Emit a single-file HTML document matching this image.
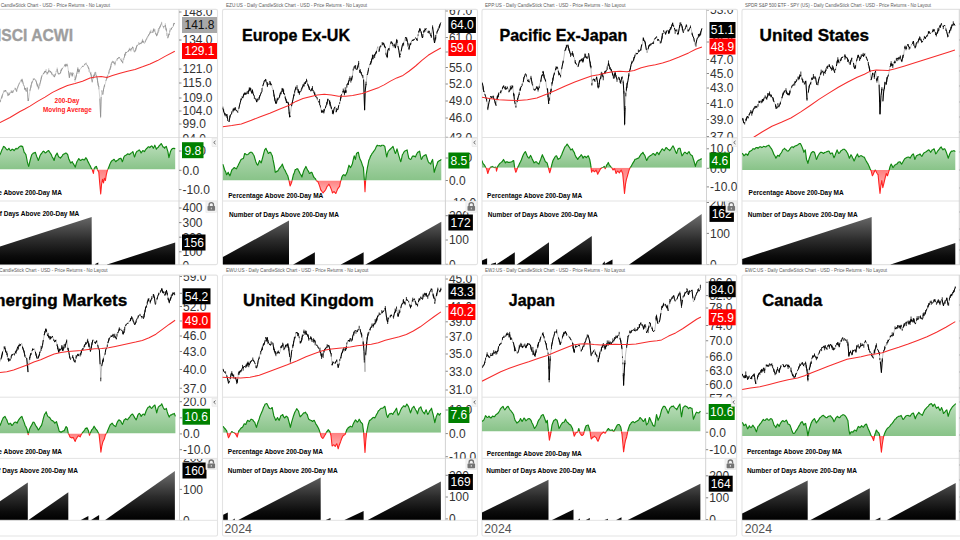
<!DOCTYPE html>
<html><head><meta charset="utf-8"><title>Global Equity Markets vs 200-Day MA</title>
<style>html,body{margin:0;padding:0;background:#fff;width:960px;height:540px;overflow:hidden}</style>
</head><body>
<svg width="960" height="540" viewBox="0 0 960 540" style="display:block;font-family:'Liberation Sans',sans-serif">
<defs><linearGradient id="gk" x1="0" y1="0" x2="0" y2="1"><stop offset="0" stop-color="#666"/><stop offset="0.55" stop-color="#111"/><stop offset="1" stop-color="#000"/></linearGradient>
<linearGradient id="gg" x1="0" y1="0" x2="0" y2="1"><stop offset="0" stop-color="#7fbf7f"/><stop offset="1" stop-color="#a9d6a9"/></linearGradient>
</defs>
<rect width="960" height="540" fill="#fff"/>
<rect x="-37.5" y="9.4" width="255.0" height="255.20000000000002" rx="1.5" fill="#fff" stroke="#e3e3e3" stroke-width="1.1"/>
<text x="-35.0" y="6.7" font-size="5.1" fill="#5a5a5a" font-weight="normal" text-anchor="start" textLength="145.0" lengthAdjust="spacingAndGlyphs">ACWI:US - Daily CandleStick Chart - USD - Price Returns - No Layout</text>
<clipPath id="c1_0"><rect x="-37.5" y="9.4" width="216.5" height="128.1"/></clipPath>
<clipPath id="a1_0"><rect x="179" y="9.9" width="38.5" height="127.6"/></clipPath>
<clipPath id="c1_1"><rect x="-37.5" y="137.5" width="216.5" height="63.5"/></clipPath>
<clipPath id="a1_1"><rect x="179" y="138.0" width="38.5" height="63.0"/></clipPath>
<clipPath id="c1_2"><rect x="-37.5" y="201" width="216.5" height="63.60000000000002"/></clipPath>
<clipPath id="a1_2"><rect x="179" y="201.5" width="38.5" height="63.10000000000002"/></clipPath>
<g clip-path="url(#c1_0)">
<path d="M-1.9,104.3L-1.1,103.7L0.0,100.7M1.3,98.0L1.9,97.2L2.9,93.6M4.5,91.1L5.3,90.8L5.6,90.0L6.1,92.1M7.5,93.7L8.5,94.8L9.4,94.7L10.1,92.3M11.2,91.9L11.7,92.0L12.5,92.6L13.1,90.8M15.0,88.5L15.7,88.8L16.5,91.3M17.3,88.7L18.1,86.2L18.8,84.5L19.7,82.5M20.6,80.8L21.3,80.9L22.1,79.7L22.9,82.6M24.5,87.5L24.9,89.6L25.3,88.2L26.2,91.2M27.2,87.8L27.7,94.8L28.1,100.8L28.5,99.8M30.0,90.4L30.9,86.6L31.9,82.2M33.3,79.5L33.8,79.4L34.1,78.8L34.9,79.3M35.7,80.3L36.6,82.8L37.3,85.7L38.1,86.1M39.8,84.3L40.5,81.7L41.2,78.5L42.1,75.3M43.1,74.3L43.7,72.9L44.5,72.4L45.0,71.8L45.3,71.3L46.1,71.8M46.9,73.2L47.7,73.1L48.8,70.6M50.1,70.9L50.6,71.9L51.7,73.5L52.5,74.5M53.3,75.5L54.4,76.8L54.9,75.5L55.7,73.6M57.2,69.3L58.1,73.7L59.1,73.9L59.7,73.2M60.5,73.1L60.9,70.9L61.3,70.3L62.1,68.7L62.8,68.1M64.7,65.2L65.3,66.2L66.0,63.9L66.9,66.3M68.4,70.8L69.4,77.5L70.1,73.3M71.7,73.6L72.2,75.7L72.5,74.0L73.5,73.3M75.0,80.0L75.7,78.0L76.5,74.5M77.3,71.8L77.8,68.7L78.1,70.1L78.9,72.1L79.7,69.6M81.6,67.2L82.1,66.9L82.9,66.1L83.4,66.4M84.5,64.6L85.3,63.9L86.2,63.9M86.9,64.8L87.8,66.2L88.5,68.4M90.1,72.5L90.9,74.2L91.7,78.1L92.2,81.7M93.3,77.2L93.8,75.6L94.1,75.4L94.9,75.2L95.2,72.1M96.6,75.8L97.5,80.4L98.1,84.2L98.8,86.9M99.8,98.6L100.6,116.6L101.2,97.0M102.8,94.4L103.5,89.5L104.6,84.9M105.9,80.9L106.9,78.0L107.2,76.8L107.7,75.4M108.8,73.3L109.3,70.5L110.2,68.5L110.9,65.8M112.5,62.0L113.4,61.7L114.1,63.2L114.9,64.2M116.6,59.7L117.3,59.0L118.1,58.1L118.9,57.6L120.0,57.8M121.3,60.7L121.9,60.8L122.8,63.2M124.1,57.7L124.5,56.5L125.3,53.3L125.6,53.1L126.1,52.2L126.9,52.7M127.5,51.5L128.5,51.1L129.4,49.3L130.1,49.6M131.2,49.1L131.7,48.6L132.5,47.4L133.1,47.5M134.6,52.2L135.7,49.7L136.5,46.9L137.3,45.2M138.8,43.9L139.7,43.8L140.6,43.4M141.3,43.1L142.1,42.0L142.5,41.1L142.9,41.9L143.7,42.0M145.3,41.8L146.2,39.2L146.9,38.5M148.5,35.7L149.3,34.2L150.0,32.5L150.9,31.9M151.9,32.7L152.5,32.4L153.3,30.6L153.8,29.5L154.1,30.9M155.6,33.2L156.5,35.4L157.1,35.4L158.1,31.7M158.9,28.9L159.7,27.5L160.3,26.3L161.3,23.8M163.1,27.1L163.7,26.7L164.5,26.4M165.3,25.2L166.1,29.5L166.5,30.1M167.8,38.2L168.5,35.4L169.3,34.0M170.9,29.5L171.6,28.2L172.5,27.5M173.4,25.6L174.1,23.2L174.8,23.9" fill="none" stroke="#8a8a8a" stroke-width="0.7" stroke-linejoin="miter"/>
<polyline points="-1.9,104.3 -1.1,103.7 0.0,100.7 0.5,100.9 1.3,98.0 1.9,97.2 2.9,93.6 3.8,91.6 4.5,91.1 5.3,90.8 5.6,90.0 6.1,92.1 6.9,92.9 7.5,93.7 8.5,94.8 9.4,94.7 10.1,92.3 10.9,92.0 11.2,91.9 11.7,92.0 12.5,92.6 13.1,90.8 14.1,90.1 15.0,88.5 15.7,88.8 16.5,91.3 16.9,89.7 17.3,88.7 18.1,86.2 18.8,84.5 19.7,82.5 20.6,80.8 21.3,80.9 22.1,79.7 22.9,82.6 23.4,84.6 24.5,87.5 24.9,89.6 25.3,88.2 26.2,91.2 27.2,87.8 27.7,94.8 28.1,100.8 28.5,99.8 29.1,96.6 30.0,90.4 30.9,86.6 31.9,82.2 32.5,81.8 33.3,79.5 33.8,79.4 34.1,78.8 34.9,79.3 35.2,79.0 35.7,80.3 36.6,82.8 37.3,85.7 38.1,86.1 38.4,88.5 38.9,87.5 39.8,84.3 40.5,81.7 41.2,78.5 42.1,75.3 43.1,74.3 43.7,72.9 44.5,72.4 45.0,71.8 45.3,71.3 46.1,71.8 46.9,73.2 47.7,73.1 48.8,70.6 49.3,71.2 50.1,70.9 50.6,71.9 51.7,73.5 52.5,74.5 53.3,75.5 54.4,76.8 54.9,75.5 55.7,73.6 56.2,71.3 57.2,69.3 58.1,73.7 59.1,73.9 59.7,73.2 60.5,73.1 60.9,70.9 61.3,70.3 62.1,68.7 62.8,68.1 63.7,66.9 64.7,65.2 65.3,66.2 66.0,63.9 66.9,66.3 67.5,65.1 68.4,70.8 69.4,77.5 70.1,73.3 70.9,72.8 71.7,73.6 72.2,75.7 72.5,74.0 73.5,73.3 74.1,75.1 75.0,80.0 75.7,78.0 76.5,74.5 77.3,71.8 77.8,68.7 78.1,70.1 78.9,72.1 79.7,69.6 80.5,68.9 81.6,67.2 82.1,66.9 82.9,66.1 83.4,66.4 84.5,64.6 85.3,63.9 86.2,63.9 86.9,64.8 87.8,66.2 88.5,68.4 89.1,69.5 90.1,72.5 90.9,74.2 91.7,78.1 92.2,81.7 93.3,77.2 93.8,75.6 94.1,75.4 94.9,75.2 95.2,72.1 95.7,72.0 96.6,75.8 97.5,80.4 98.1,84.2 98.8,86.9 99.8,98.6 100.6,116.6 101.2,97.0 101.8,90.9 102.1,91.3 102.8,94.4 103.5,89.5 104.6,84.9 105.3,83.9 105.9,80.9 106.9,78.0 107.2,76.8 107.7,75.4 108.8,73.3 109.3,70.5 110.2,68.5 110.9,65.8 111.6,63.2 112.5,62.0 113.4,61.7 114.1,63.2 114.9,64.2 115.3,62.6 115.7,61.5 116.6,59.7 117.3,59.0 118.1,58.1 118.9,57.6 120.0,57.8 120.5,59.6 121.3,60.7 121.9,60.8 122.8,63.2 123.7,58.9 124.1,57.7 124.5,56.5 125.3,53.3 125.6,53.1 126.1,52.2 126.9,52.7 127.5,51.5 128.5,51.1 129.4,49.3 130.1,49.6 130.9,49.7 131.2,49.1 131.7,48.6 132.5,47.4 133.1,47.5 134.1,51.3 134.6,52.2 135.7,49.7 136.5,46.9 137.3,45.2 138.1,44.9 138.8,43.9 139.7,43.8 140.6,43.4 141.3,43.1 142.1,42.0 142.5,41.1 142.9,41.9 143.7,42.0 144.4,43.6 145.3,41.8 146.2,39.2 146.9,38.5 147.7,36.2 148.1,35.8 148.5,35.7 149.3,34.2 150.0,32.5 150.9,31.9 151.9,32.7 152.5,32.4 153.3,30.6 153.8,29.5 154.1,30.9 154.9,31.1 155.6,33.2 156.5,35.4 157.1,35.4 158.1,31.7 158.4,31.2 158.9,28.9 159.7,27.5 160.3,26.3 161.3,23.8 161.6,22.7 162.1,24.9 163.1,27.1 163.7,26.7 164.5,26.4 165.0,26.0 165.3,25.2 166.1,29.5 166.5,30.1 166.9,33.8 167.8,38.2 168.5,35.4 169.3,34.0 169.7,31.5 170.1,30.6 170.9,29.5 171.6,28.2 172.5,27.5 173.4,25.6 174.1,23.2 174.8,23.9" fill="none" stroke="#8a8a8a" stroke-width="0.35" stroke-linejoin="miter"/>
<path d="M-1.88,102.44V104.92M0.00,99.23V101.74M0.52,100.29V102.27M1.32,97.58V98.96M1.88,95.49V98.41M3.75,90.35V92.70M4.52,90.54V91.87M7.50,92.12V96.12M8.52,92.71V95.97M11.25,90.02V92.94M11.72,91.41V92.89M13.13,90.14V92.66M15.00,87.61V89.04M16.52,90.88V91.81M16.88,88.51V91.43M21.32,79.23V82.44M22.13,78.63V81.58M22.92,81.70V83.96M23.44,83.25V85.88M24.52,85.49V88.75M26.25,90.33V92.02M27.19,87.33V88.44M28.52,98.31V101.00M30.00,89.55V91.14M30.92,85.28V87.81M31.88,81.42V83.48M32.52,80.71V82.37M33.32,78.13V80.32M35.72,79.74V80.78M36.56,81.41V83.72M37.32,83.70V86.82M38.12,84.43V87.52M38.44,87.03V89.74M38.92,86.39V88.59M39.75,83.69V86.05M40.52,80.20V82.16M41.25,76.76V79.30M44.52,71.00V73.59M45.00,71.32V72.57M45.32,70.71V72.38M46.12,69.09V72.39M46.88,72.08V74.80M47.72,72.41V74.18M48.75,68.32V71.77M49.32,70.45V72.39M50.63,70.99V72.39M51.72,71.84V75.13M53.32,74.23V76.36M54.38,76.34V77.39M54.92,73.95V76.51M56.25,70.76V71.80M57.19,67.59V69.88M59.06,72.97V74.77M60.52,72.01V73.74M60.94,69.85V71.31M61.32,68.73V70.95M62.12,68.27V69.21M64.69,64.00V65.69M65.32,65.14V67.20M67.50,63.72V65.78M69.38,76.81V77.96M70.12,71.99V74.58M71.72,72.32V74.12M72.19,73.93V77.03M72.52,72.41V74.53M75.00,79.03V81.82M75.72,76.53V79.06M76.50,72.50V76.38M77.32,70.48V73.86M77.81,67.00V69.63M78.12,69.16V71.42M78.92,69.40V73.71M82.92,65.68V66.57M84.52,63.69V65.26M86.25,62.53V64.49M88.52,67.36V69.03M89.06,67.87V72.07M90.94,71.94V75.04M91.72,75.10V79.45M92.25,80.22V82.69M93.32,76.56V78.84M93.75,74.47V76.05M94.12,74.85V76.67M94.92,72.82V76.18M96.56,75.11V76.63M97.50,77.84V82.72M98.12,83.35V85.92M98.81,86.19V89.38M100.59,116.23V118.15M101.81,90.01V91.63M102.75,93.66V94.87M103.50,88.74V91.25M104.63,84.29V86.92M106.92,76.65V78.83M108.75,72.51V73.85M110.25,67.74V69.87M110.92,63.64V67.70M111.56,61.76V65.15M112.52,60.75V62.90M114.12,61.69V63.80M114.92,63.41V65.59M115.31,61.49V64.24M117.32,58.15V60.61M118.92,56.94V58.37M120.52,59.08V60.22M121.32,59.88V61.28M121.88,58.35V61.84M123.72,58.09V60.00M124.52,53.99V57.52M125.63,51.86V55.46M128.52,50.17V51.75M129.38,47.78V50.12M130.12,48.98V50.92M130.92,48.48V51.50M131.25,47.86V50.16M132.52,46.50V48.13M133.13,47.08V50.30M134.12,50.14V51.76M135.72,47.96V50.83M136.50,45.67V48.15M137.32,44.80V45.83M138.75,41.97V44.82M139.72,43.35V44.36M140.63,42.65V43.98M141.32,42.73V44.10M142.12,40.43V42.75M142.50,38.83V41.78M142.92,40.16V42.71M143.72,40.96V42.49M145.32,41.38V42.36M146.92,37.39V39.29M147.72,35.75V37.68M148.52,34.35V36.34M150.00,31.27V33.84M150.92,29.74V32.98M153.32,29.33V32.81M153.75,28.01V31.00M154.92,29.09V32.08M155.63,32.50V34.06M156.52,33.67V36.38M158.12,29.42V32.59M158.92,28.00V31.40M159.72,26.69V28.31M160.31,25.70V27.06M161.63,21.80V23.79M163.72,25.94V28.58M165.32,23.25V26.21M166.12,28.17V30.84M166.50,28.95V31.63M166.92,32.87V36.00M168.52,33.62V36.61M169.32,33.17V35.27M169.69,30.51V32.56M170.12,28.19V31.54M171.56,27.48V29.78M173.44,23.52V26.39M174.12,22.83V23.74" stroke="#8a8a8a" stroke-width="0.5" fill="none"/>
<polyline points="-3.0,124.0 0.0,122.5 10.0,117.5 20.0,111.5 24.4,109.3 30.0,106.1 37.5,101.4 45.0,97.1 52.5,92.4 60.0,88.7 67.5,85.5 75.0,83.6 82.5,81.2 90.0,78.0 95.6,76.9 101.2,76.5 106.9,77.4 112.5,75.6 120.0,73.3 127.5,71.2 135.0,69.4 142.5,66.8 150.0,63.9 157.5,60.6 165.0,56.4 174.8,51.2" fill="none" stroke="#f62c2c" stroke-width="1.05" stroke-linejoin="round"/>
</g>
<text x="73.0" y="41.0" font-size="17.3" fill="#9e9e9e" font-weight="bold" text-anchor="end" textLength="84.8" lengthAdjust="spacingAndGlyphs" stroke="#9e9e9e" stroke-width="0.35">MSCI ACWI</text>
<text x="67.0" y="103.0" font-size="6.5" fill="#f22" font-weight="bold" text-anchor="middle">200-Day</text>
<text x="67.4" y="111.8" font-size="6.5" fill="#f22" font-weight="bold" text-anchor="middle" textLength="48.7" lengthAdjust="spacingAndGlyphs">Moving Average</text>
<g clip-path="url(#c1_1)">
<clipPath id="up1"><rect x="-37.5" y="137.5" width="216.5" height="32.0"/></clipPath>
<clipPath id="dn1"><rect x="-37.5" y="169.5" width="216.5" height="31.5"/></clipPath>
<g clip-path="url(#up1)"><polygon points="-2.4,169.5 -2.4,157.0 -1.6,156.6 -0.8,155.6 0.0,154.6 0.9,152.5 1.9,149.9 2.7,148.5 3.5,146.4 4.3,146.8 5.2,147.6 6.1,148.9 7.1,149.9 8.0,149.5 8.9,148.3 9.8,149.8 10.6,150.6 11.4,150.0 12.2,149.2 13.2,149.6 14.1,150.6 15.1,149.4 16.0,148.3 16.8,149.0 17.6,148.8 18.5,147.5 19.3,146.9 20.2,146.2 21.2,145.9 21.9,146.6 22.6,146.4 23.4,149.3 24.2,152.3 25.0,153.2 25.9,154.6 26.6,158.0 27.3,161.7 28.0,164.4 28.7,166.4 29.4,163.3 30.1,160.5 30.9,157.5 31.8,154.6 32.6,153.9 33.4,153.0 34.3,152.9 35.3,152.3 36.1,154.6 36.9,157.0 37.6,158.4 38.3,160.5 39.2,158.2 40.0,155.8 40.8,154.2 41.6,153.5 42.6,151.9 43.5,151.1 44.3,151.8 45.2,153.0 46.1,152.5 47.0,151.6 47.9,150.9 48.7,150.6 49.6,152.2 50.6,153.5 51.4,154.9 52.2,157.0 53.2,158.4 54.1,160.5 54.9,157.5 55.7,155.3 56.4,154.4 57.1,153.0 58.0,155.3 58.8,157.0 59.6,157.3 60.4,158.2 61.4,156.8 62.3,155.8 63.1,154.4 64.0,153.9 64.9,153.6 65.8,153.0 66.8,153.6 67.7,154.6 68.9,159.3 69.7,160.8 70.6,162.9 71.4,162.4 72.2,161.7 72.9,163.0 73.6,164.1 74.4,165.5 75.3,167.1 76.1,164.1 76.9,161.7 77.8,160.3 78.8,158.6 79.6,159.6 80.4,160.5 81.4,159.9 82.3,159.3 83.1,159.4 84.0,160.1 84.9,159.3 85.8,157.7 87.0,159.3 87.8,161.4 88.7,162.9 89.6,164.8 90.5,166.4 91.4,168.4 92.2,169.5 93.4,169.5 94.1,168.8 95.2,167.1 96.4,166.4 97.6,169.5 98.8,169.5 99.7,169.5 100.7,169.5 101.6,169.5 102.5,169.5 103.5,169.5 104.4,169.5 105.4,169.5 106.3,169.5 107.5,169.5 108.2,168.6 108.9,167.1 109.7,164.8 110.5,162.9 111.4,161.3 112.2,160.5 113.1,160.0 114.1,159.3 114.9,160.5 115.7,161.7 116.7,160.8 117.6,160.1 118.4,159.8 119.2,158.6 120.1,158.7 120.9,158.2 121.6,159.6 122.3,161.7 123.1,159.7 123.9,157.0 124.9,155.7 125.8,155.3 126.6,154.8 127.5,153.9 128.4,154.1 129.3,154.6 130.2,154.0 131.0,153.0 131.9,152.7 132.9,151.6 133.7,154.3 134.5,157.0 135.2,155.2 135.9,153.0 136.8,151.6 137.6,151.1 138.4,150.7 139.2,149.9 140.2,151.1 141.1,153.0 141.9,151.8 142.8,150.6 143.7,151.0 144.6,151.6 145.5,149.8 146.3,148.8 147.2,148.0 148.2,146.9 149.0,146.9 149.8,147.6 150.8,146.5 151.7,145.9 152.5,146.7 153.3,148.3 154.0,146.9 154.8,145.2 155.6,147.1 156.4,149.2 157.2,148.0 158.0,147.6 159.0,146.0 159.9,145.2 160.6,144.2 161.3,143.6 162.2,145.2 163.0,146.9 163.8,147.1 164.6,148.3 165.4,146.9 166.3,146.4 167.1,149.1 167.9,151.6 168.9,157.7 169.6,155.0 170.3,152.3 171.0,150.4 171.7,149.2 172.6,148.6 173.6,148.3 174.4,148.4 175.2,149.2 175.2,169.5" fill="url(#gg1)"/><polyline points="-2.4,157.0 -1.6,156.6 -0.8,155.6 0.0,154.6 0.9,152.5 1.9,149.9 2.7,148.5 3.5,146.4 4.3,146.8 5.2,147.6 6.1,148.9 7.1,149.9 8.0,149.5 8.9,148.3 9.8,149.8 10.6,150.6 11.4,150.0 12.2,149.2 13.2,149.6 14.1,150.6 15.1,149.4 16.0,148.3 16.8,149.0 17.6,148.8 18.5,147.5 19.3,146.9 20.2,146.2 21.2,145.9 21.9,146.6 22.6,146.4 23.4,149.3 24.2,152.3 25.0,153.2 25.9,154.6 26.6,158.0 27.3,161.7 28.0,164.4 28.7,166.4 29.4,163.3 30.1,160.5 30.9,157.5 31.8,154.6 32.6,153.9 33.4,153.0 34.3,152.9 35.3,152.3 36.1,154.6 36.9,157.0 37.6,158.4 38.3,160.5 39.2,158.2 40.0,155.8 40.8,154.2 41.6,153.5 42.6,151.9 43.5,151.1 44.3,151.8 45.2,153.0 46.1,152.5 47.0,151.6 47.9,150.9 48.7,150.6 49.6,152.2 50.6,153.5 51.4,154.9 52.2,157.0 53.2,158.4 54.1,160.5 54.9,157.5 55.7,155.3 56.4,154.4 57.1,153.0 58.0,155.3 58.8,157.0 59.6,157.3 60.4,158.2 61.4,156.8 62.3,155.8 63.1,154.4 64.0,153.9 64.9,153.6 65.8,153.0 66.8,153.6 67.7,154.6 68.9,159.3 69.7,160.8 70.6,162.9 71.4,162.4 72.2,161.7 72.9,163.0 73.6,164.1 74.4,165.5 75.3,167.1 76.1,164.1 76.9,161.7 77.8,160.3 78.8,158.6 79.6,159.6 80.4,160.5 81.4,159.9 82.3,159.3 83.1,159.4 84.0,160.1 84.9,159.3 85.8,157.7 87.0,159.3 87.8,161.4 88.7,162.9 89.6,164.8 90.5,166.4 91.4,168.4 92.2,169.5 93.4,173.4 94.1,168.8 95.2,167.1 96.4,166.4 97.6,169.9 98.8,172.3 99.7,182.9 100.7,193.9 101.6,184.0 102.5,179.3 103.5,182.9 104.4,178.2 105.4,180.5 106.3,174.6 107.5,169.9 108.2,168.6 108.9,167.1 109.7,164.8 110.5,162.9 111.4,161.3 112.2,160.5 113.1,160.0 114.1,159.3 114.9,160.5 115.7,161.7 116.7,160.8 117.6,160.1 118.4,159.8 119.2,158.6 120.1,158.7 120.9,158.2 121.6,159.6 122.3,161.7 123.1,159.7 123.9,157.0 124.9,155.7 125.8,155.3 126.6,154.8 127.5,153.9 128.4,154.1 129.3,154.6 130.2,154.0 131.0,153.0 131.9,152.7 132.9,151.6 133.7,154.3 134.5,157.0 135.2,155.2 135.9,153.0 136.8,151.6 137.6,151.1 138.4,150.7 139.2,149.9 140.2,151.1 141.1,153.0 141.9,151.8 142.8,150.6 143.7,151.0 144.6,151.6 145.5,149.8 146.3,148.8 147.2,148.0 148.2,146.9 149.0,146.9 149.8,147.6 150.8,146.5 151.7,145.9 152.5,146.7 153.3,148.3 154.0,146.9 154.8,145.2 155.6,147.1 156.4,149.2 157.2,148.0 158.0,147.6 159.0,146.0 159.9,145.2 160.6,144.2 161.3,143.6 162.2,145.2 163.0,146.9 163.8,147.1 164.6,148.3 165.4,146.9 166.3,146.4 167.1,149.1 167.9,151.6 168.9,157.7 169.6,155.0 170.3,152.3 171.0,150.4 171.7,149.2 172.6,148.6 173.6,148.3 174.4,148.4 175.2,149.2" fill="none" stroke="#0f870f" stroke-width="1.15" stroke-linejoin="round"/></g>
<g clip-path="url(#dn1)"><polygon points="-2.4,169.5 -2.4,169.5 -1.6,169.5 -0.8,169.5 0.0,169.5 0.9,169.5 1.9,169.5 2.7,169.5 3.5,169.5 4.3,169.5 5.2,169.5 6.1,169.5 7.1,169.5 8.0,169.5 8.9,169.5 9.8,169.5 10.6,169.5 11.4,169.5 12.2,169.5 13.2,169.5 14.1,169.5 15.1,169.5 16.0,169.5 16.8,169.5 17.6,169.5 18.5,169.5 19.3,169.5 20.2,169.5 21.2,169.5 21.9,169.5 22.6,169.5 23.4,169.5 24.2,169.5 25.0,169.5 25.9,169.5 26.6,169.5 27.3,169.5 28.0,169.5 28.7,169.5 29.4,169.5 30.1,169.5 30.9,169.5 31.8,169.5 32.6,169.5 33.4,169.5 34.3,169.5 35.3,169.5 36.1,169.5 36.9,169.5 37.6,169.5 38.3,169.5 39.2,169.5 40.0,169.5 40.8,169.5 41.6,169.5 42.6,169.5 43.5,169.5 44.3,169.5 45.2,169.5 46.1,169.5 47.0,169.5 47.9,169.5 48.7,169.5 49.6,169.5 50.6,169.5 51.4,169.5 52.2,169.5 53.2,169.5 54.1,169.5 54.9,169.5 55.7,169.5 56.4,169.5 57.1,169.5 58.0,169.5 58.8,169.5 59.6,169.5 60.4,169.5 61.4,169.5 62.3,169.5 63.1,169.5 64.0,169.5 64.9,169.5 65.8,169.5 66.8,169.5 67.7,169.5 68.9,169.5 69.7,169.5 70.6,169.5 71.4,169.5 72.2,169.5 72.9,169.5 73.6,169.5 74.4,169.5 75.3,169.5 76.1,169.5 76.9,169.5 77.8,169.5 78.8,169.5 79.6,169.5 80.4,169.5 81.4,169.5 82.3,169.5 83.1,169.5 84.0,169.5 84.9,169.5 85.8,169.5 87.0,169.5 87.8,169.5 88.7,169.5 89.6,169.5 90.5,169.5 91.4,169.5 92.2,169.5 93.4,173.4 94.1,169.5 95.2,169.5 96.4,169.5 97.6,169.9 98.8,172.3 99.7,182.9 100.7,193.9 101.6,184.0 102.5,179.3 103.5,182.9 104.4,178.2 105.4,180.5 106.3,174.6 107.5,169.9 108.2,169.5 108.9,169.5 109.7,169.5 110.5,169.5 111.4,169.5 112.2,169.5 113.1,169.5 114.1,169.5 114.9,169.5 115.7,169.5 116.7,169.5 117.6,169.5 118.4,169.5 119.2,169.5 120.1,169.5 120.9,169.5 121.6,169.5 122.3,169.5 123.1,169.5 123.9,169.5 124.9,169.5 125.8,169.5 126.6,169.5 127.5,169.5 128.4,169.5 129.3,169.5 130.2,169.5 131.0,169.5 131.9,169.5 132.9,169.5 133.7,169.5 134.5,169.5 135.2,169.5 135.9,169.5 136.8,169.5 137.6,169.5 138.4,169.5 139.2,169.5 140.2,169.5 141.1,169.5 141.9,169.5 142.8,169.5 143.7,169.5 144.6,169.5 145.5,169.5 146.3,169.5 147.2,169.5 148.2,169.5 149.0,169.5 149.8,169.5 150.8,169.5 151.7,169.5 152.5,169.5 153.3,169.5 154.0,169.5 154.8,169.5 155.6,169.5 156.4,169.5 157.2,169.5 158.0,169.5 159.0,169.5 159.9,169.5 160.6,169.5 161.3,169.5 162.2,169.5 163.0,169.5 163.8,169.5 164.6,169.5 165.4,169.5 166.3,169.5 167.1,169.5 167.9,169.5 168.9,169.5 169.6,169.5 170.3,169.5 171.0,169.5 171.7,169.5 172.6,169.5 173.6,169.5 174.4,169.5 175.2,169.5 175.2,169.5" fill="url(#gr1)"/><polyline points="-2.4,157.0 -1.6,156.6 -0.8,155.6 0.0,154.6 0.9,152.5 1.9,149.9 2.7,148.5 3.5,146.4 4.3,146.8 5.2,147.6 6.1,148.9 7.1,149.9 8.0,149.5 8.9,148.3 9.8,149.8 10.6,150.6 11.4,150.0 12.2,149.2 13.2,149.6 14.1,150.6 15.1,149.4 16.0,148.3 16.8,149.0 17.6,148.8 18.5,147.5 19.3,146.9 20.2,146.2 21.2,145.9 21.9,146.6 22.6,146.4 23.4,149.3 24.2,152.3 25.0,153.2 25.9,154.6 26.6,158.0 27.3,161.7 28.0,164.4 28.7,166.4 29.4,163.3 30.1,160.5 30.9,157.5 31.8,154.6 32.6,153.9 33.4,153.0 34.3,152.9 35.3,152.3 36.1,154.6 36.9,157.0 37.6,158.4 38.3,160.5 39.2,158.2 40.0,155.8 40.8,154.2 41.6,153.5 42.6,151.9 43.5,151.1 44.3,151.8 45.2,153.0 46.1,152.5 47.0,151.6 47.9,150.9 48.7,150.6 49.6,152.2 50.6,153.5 51.4,154.9 52.2,157.0 53.2,158.4 54.1,160.5 54.9,157.5 55.7,155.3 56.4,154.4 57.1,153.0 58.0,155.3 58.8,157.0 59.6,157.3 60.4,158.2 61.4,156.8 62.3,155.8 63.1,154.4 64.0,153.9 64.9,153.6 65.8,153.0 66.8,153.6 67.7,154.6 68.9,159.3 69.7,160.8 70.6,162.9 71.4,162.4 72.2,161.7 72.9,163.0 73.6,164.1 74.4,165.5 75.3,167.1 76.1,164.1 76.9,161.7 77.8,160.3 78.8,158.6 79.6,159.6 80.4,160.5 81.4,159.9 82.3,159.3 83.1,159.4 84.0,160.1 84.9,159.3 85.8,157.7 87.0,159.3 87.8,161.4 88.7,162.9 89.6,164.8 90.5,166.4 91.4,168.4 92.2,169.5 93.4,173.4 94.1,168.8 95.2,167.1 96.4,166.4 97.6,169.9 98.8,172.3 99.7,182.9 100.7,193.9 101.6,184.0 102.5,179.3 103.5,182.9 104.4,178.2 105.4,180.5 106.3,174.6 107.5,169.9 108.2,168.6 108.9,167.1 109.7,164.8 110.5,162.9 111.4,161.3 112.2,160.5 113.1,160.0 114.1,159.3 114.9,160.5 115.7,161.7 116.7,160.8 117.6,160.1 118.4,159.8 119.2,158.6 120.1,158.7 120.9,158.2 121.6,159.6 122.3,161.7 123.1,159.7 123.9,157.0 124.9,155.7 125.8,155.3 126.6,154.8 127.5,153.9 128.4,154.1 129.3,154.6 130.2,154.0 131.0,153.0 131.9,152.7 132.9,151.6 133.7,154.3 134.5,157.0 135.2,155.2 135.9,153.0 136.8,151.6 137.6,151.1 138.4,150.7 139.2,149.9 140.2,151.1 141.1,153.0 141.9,151.8 142.8,150.6 143.7,151.0 144.6,151.6 145.5,149.8 146.3,148.8 147.2,148.0 148.2,146.9 149.0,146.9 149.8,147.6 150.8,146.5 151.7,145.9 152.5,146.7 153.3,148.3 154.0,146.9 154.8,145.2 155.6,147.1 156.4,149.2 157.2,148.0 158.0,147.6 159.0,146.0 159.9,145.2 160.6,144.2 161.3,143.6 162.2,145.2 163.0,146.9 163.8,147.1 164.6,148.3 165.4,146.9 166.3,146.4 167.1,149.1 167.9,151.6 168.9,157.7 169.6,155.0 170.3,152.3 171.0,150.4 171.7,149.2 172.6,148.6 173.6,148.3 174.4,148.4 175.2,149.2" fill="none" stroke="#f22" stroke-width="1.1" stroke-linejoin="round"/></g>
</g>
<g clip-path="url(#c1_2)">
<polygon points="-3.0,247.4 91.7,217.0 91.7,266.6 -3.0,266.6" fill="url(#gk1)"/>
<polygon points="95.2,264.0 98.3,262.4 98.3,266.6 95.2,266.6" fill="url(#gk1)"/>
<polygon points="107.2,264.6 175.2,242.4 175.2,266.6 107.2,266.6" fill="url(#gk1)"/>
</g>
<linearGradient id="gg1" gradientUnits="userSpaceOnUse" x1="0" y1="141.5" x2="0" y2="169.5"><stop offset="0" stop-color="#bfe0bf"/><stop offset="1" stop-color="#88c388"/></linearGradient>
<linearGradient id="gr1" gradientUnits="userSpaceOnUse" x1="0" y1="169.5" x2="0" y2="195"><stop offset="0" stop-color="#ff8080"/><stop offset="1" stop-color="#ffc4c4"/></linearGradient>
<linearGradient id="gk1" gradientUnits="userSpaceOnUse" x1="0" y1="201" x2="0" y2="264.6"><stop offset="0" stop-color="#8c8c8c"/><stop offset="0.25" stop-color="#686868"/><stop offset="0.62" stop-color="#2b2b2b"/><stop offset="0.86" stop-color="#0c0c0c"/><stop offset="1" stop-color="#000"/></linearGradient>
<text x="61.9" y="194.9" font-size="6.5" fill="#000" font-weight="bold" text-anchor="end">Percentage Above 200-Day MA</text>
<text x="79.3" y="216.4" font-size="6.5" fill="#000" font-weight="bold" text-anchor="end">Number of Days Above 200-Day MA</text>
<path d="M-37.5,137.5H217.5M-37.5,201H217.5" stroke="#e3e3e3" stroke-width="1" fill="none"/>
<path d="M179,9.4V264.6" stroke="#d2d2d2" stroke-width="1" fill="none"/>
<g clip-path="url(#a1_0)">
<path d="M179,12h2.5" stroke="#888" stroke-width="1"/>
<text x="182.5" y="16.3" font-size="12" fill="#333" font-weight="normal" text-anchor="start">148.0</text>
<path d="M179,40h2.5" stroke="#888" stroke-width="1"/>
<text x="182.5" y="44.3" font-size="12" fill="#333" font-weight="normal" text-anchor="start">134.0</text>
<path d="M179,69h2.5" stroke="#888" stroke-width="1"/>
<text x="182.5" y="73.3" font-size="12" fill="#333" font-weight="normal" text-anchor="start">121.0</text>
<path d="M179,83h2.5" stroke="#888" stroke-width="1"/>
<text x="182.5" y="87.3" font-size="12" fill="#333" font-weight="normal" text-anchor="start">115.0</text>
<path d="M179,98h2.5" stroke="#888" stroke-width="1"/>
<text x="182.5" y="102.3" font-size="12" fill="#333" font-weight="normal" text-anchor="start">109.0</text>
<path d="M179,111h2.5" stroke="#888" stroke-width="1"/>
<text x="182.5" y="115.3" font-size="12" fill="#333" font-weight="normal" text-anchor="start">104.0</text>
<path d="M179,124h2.5" stroke="#888" stroke-width="1"/>
<text x="182.5" y="128.3" font-size="12" fill="#333" font-weight="normal" text-anchor="start">99.0</text>
<path d="M179,138.5h2.5" stroke="#888" stroke-width="1"/>
<text x="182.5" y="142.8" font-size="12" fill="#333" font-weight="normal" text-anchor="start">94.0</text>
</g>
<g clip-path="url(#a1_1)">
<path d="M179,131.7h2.5" stroke="#888" stroke-width="1"/>
<text x="182.5" y="136.0" font-size="12" fill="#333" font-weight="normal" text-anchor="start">20.0</text>
<path d="M179,151h2.5" stroke="#888" stroke-width="1"/>
<text x="182.5" y="155.3" font-size="12" fill="#333" font-weight="normal" text-anchor="start">10.0</text>
<path d="M179,170.3h2.5" stroke="#888" stroke-width="1"/>
<text x="182.5" y="174.6" font-size="12" fill="#333" font-weight="normal" text-anchor="start">0.0</text>
<path d="M179,189.6h2.5" stroke="#888" stroke-width="1"/>
<text x="182.5" y="193.9" font-size="12" fill="#333" font-weight="normal" text-anchor="start">-10.0</text>
</g>
<g clip-path="url(#a1_2)">
<path d="M179,208h2.5" stroke="#888" stroke-width="1"/>
<text x="182.5" y="212.3" font-size="12" fill="#333" font-weight="normal" text-anchor="start">400</text>
<path d="M179,222.6h2.5" stroke="#888" stroke-width="1"/>
<text x="182.5" y="226.9" font-size="12" fill="#333" font-weight="normal" text-anchor="start">300</text>
<path d="M179,237.2h2.5" stroke="#888" stroke-width="1"/>
<text x="182.5" y="241.5" font-size="12" fill="#333" font-weight="normal" text-anchor="start">200</text>
<path d="M179,251.8h2.5" stroke="#888" stroke-width="1"/>
<text x="182.5" y="256.1" font-size="12" fill="#333" font-weight="normal" text-anchor="start">100</text>
<path d="M179,265.8h2.5" stroke="#888" stroke-width="1"/>
<text x="182.5" y="270.1" font-size="12" fill="#333" font-weight="normal" text-anchor="start">0</text>
</g>
<rect x="182" y="17" width="35" height="16" fill="#a8a8a8"/>
<text x="199.5" y="29.3" font-size="12" fill="#111" font-weight="normal" text-anchor="middle">141.8</text>
<rect x="182" y="43" width="35" height="16" fill="#f00"/>
<text x="199.5" y="55.3" font-size="12" fill="#fff" font-weight="normal" text-anchor="middle">129.1</text>
<rect x="182" y="142.2" width="21.5" height="16" fill="#008000"/>
<text x="192.8" y="154.5" font-size="12" fill="#fff" font-weight="normal" text-anchor="middle">9.8</text>
<rect x="182" y="234.5" width="23.5" height="16" fill="#000"/>
<text x="193.8" y="246.8" font-size="12" fill="#fff" font-weight="normal" text-anchor="middle">156</text>
<rect x="205.9" y="201.5" width="10.8" height="10.8" fill="#f3f3f3" stroke="#e4e4e4" stroke-width="0.5"/>
<rect x="207.5" y="206.0" width="7.6" height="4.8" rx="0.7" fill="#757575"/><path d="M209.10000000000002,206.1v-1.3a2.2,2.2 0 0 1 4.4,0v1.3" fill="none" stroke="#757575" stroke-width="1.3"/><rect x="210.8" y="207.6" width="1" height="1.7" fill="#ddd"/>
<rect x="212.0" y="138.5" width="5.5" height="8" fill="#f4f4f4" stroke="#e2e2e2" stroke-width="0.5"/>
<path d="M215.5,140.9l-1.8,1.6l1.8,1.6" fill="none" stroke="#5a5a5a" stroke-width="0.9"/>
<rect x="222.5" y="9.4" width="255.0" height="255.20000000000002" rx="1.5" fill="#fff" stroke="#e3e3e3" stroke-width="1.1"/>
<text x="226.0" y="6.7" font-size="5.1" fill="#5a5a5a" font-weight="normal" text-anchor="start" textLength="141.0" lengthAdjust="spacingAndGlyphs">EZU:US - Daily CandleStick Chart - USD - Price Returns - No Layout</text>
<clipPath id="c2_0"><rect x="222.5" y="9.4" width="222.89999999999998" height="128.1"/></clipPath>
<clipPath id="a2_0"><rect x="445.4" y="9.9" width="32.10000000000002" height="127.6"/></clipPath>
<clipPath id="c2_1"><rect x="222.5" y="137.5" width="222.89999999999998" height="63.5"/></clipPath>
<clipPath id="a2_1"><rect x="445.4" y="138.0" width="32.10000000000002" height="63.0"/></clipPath>
<clipPath id="c2_2"><rect x="222.5" y="201" width="222.89999999999998" height="63.60000000000002"/></clipPath>
<clipPath id="a2_2"><rect x="445.4" y="201.5" width="32.10000000000002" height="63.10000000000002"/></clipPath>
<g clip-path="url(#c2_0)">
<path d="M222.8,108.3L223.6,111.1L224.7,114.3M226.0,114.1L227.1,116.5L227.6,118.9M229.0,122.0L230.0,116.2L230.7,114.5L231.6,113.7M233.0,110.8L234.0,108.8L234.8,109.8M236.4,110.0L237.2,111.3L237.8,112.5M238.8,108.8L239.6,104.9L240.2,102.8L241.2,98.9M242.0,96.7L242.5,97.7L242.8,97.7L243.6,94.9L244.4,93.9M245.2,93.8L246.0,93.6L246.8,93.0M248.4,92.2L249.2,89.5L249.6,89.5L250.0,88.3L250.8,90.3M252.0,92.3L252.4,90.3L253.2,93.9L254.0,95.8M255.6,98.4L256.7,101.9L257.2,99.5M259.1,98.5L259.6,96.6L260.4,94.9L261.5,91.8M262.8,86.0L263.9,82.5L264.4,80.5L265.5,79.9M266.8,82.0L267.4,85.5L268.4,84.6M269.8,81.2L270.8,84.6L271.6,84.5M273.2,89.9L274.0,95.1L274.8,99.2L275.7,103.2M276.4,103.6L277.2,99.3L278.1,99.1M278.8,98.4L279.6,96.2L280.4,93.1M282.0,90.1L282.8,88.9L283.6,93.1L284.5,94.1M285.2,97.6L286.0,100.1L286.4,101.3L286.8,102.9L287.6,102.1M288.3,102.9L289.2,112.8L289.7,117.2L290.0,116.2M291.6,105.6L292.4,101.9L293.0,99.3L294.0,94.5M294.7,91.6L295.6,88.3L296.4,88.0M298.0,89.4L298.8,92.7L299.4,93.1L300.4,91.0M301.8,88.7L302.8,86.2L303.6,85.5M304.4,82.5L305.2,84.0L306.0,81.0L306.5,80.6M307.6,83.6L308.2,85.5L309.2,88.3L310.1,90.1M310.8,91.0L311.6,89.4L312.4,88.3M314.0,92.6L314.8,94.4L315.6,95.9L316.4,97.6M318.0,101.4L318.8,102.0L319.6,101.8M321.4,111.2L322.0,112.6L322.8,110.5L323.8,112.4M325.2,108.4L326.2,105.4L326.8,104.1L327.9,99.1M329.2,100.9L329.7,101.9L330.0,103.7L330.8,105.9L331.4,108.5M332.4,111.1L333.3,113.1L334.0,108.9L335.0,106.8M336.1,112.2L336.4,110.9L337.2,109.4L337.8,109.8L338.8,105.2M340.4,99.7L340.9,97.1L341.2,95.0L342.0,94.3M343.6,90.6L344.4,93.3L345.2,90.5L345.6,92.3L346.0,91.1M347.6,83.8L348.0,83.6L348.4,82.5L349.2,79.9M350.8,80.2L351.6,80.0L352.4,75.7M354.0,67.0L355.1,66.9M356.4,69.2L357.0,69.7L358.0,65.9L358.7,63.3M359.6,70.7L360.3,71.3L361.2,73.3L362.2,75.7M363.6,79.5L364.6,109.8L365.2,91.0L366.0,84.0M367.1,75.0L367.6,73.8L368.4,69.8M370.0,64.3L370.9,62.9L371.6,60.2L372.4,57.4M374.0,55.7L374.6,55.9L375.6,53.0L376.5,51.2M379.0,51.7L379.6,48.7L380.3,45.9L381.2,46.3M382.8,43.4L383.6,43.3L384.1,44.3L384.4,46.1L385.3,47.5M386.8,55.1L387.2,57.0L387.9,49.9L388.4,49.2L389.2,48.7M390.8,42.7L391.6,42.0L392.4,43.9M394.2,44.5L394.8,45.9L395.4,47.9L396.7,40.0M397.9,46.0L398.9,50.8L399.8,57.0M401.1,51.4L402.3,45.4L402.8,44.4L403.6,43.2M405.5,37.0L406.0,38.0L406.8,39.3L407.6,42.4L408.0,44.5M409.0,48.9L410.0,44.4L410.5,44.1M411.6,41.0L412.4,40.6L413.2,40.1L414.3,39.6M415.6,37.6L416.4,39.1L416.8,40.0L417.2,40.2M418.8,32.0L419.6,29.4L420.0,29.1L420.4,31.3M421.2,32.1L422.0,36.6L422.5,38.0L422.8,36.2M423.8,32.2L424.4,30.1L425.0,30.2L426.3,28.4M427.5,32.2L428.4,32.5L428.8,31.6L429.2,31.7M430.1,35.0L430.8,35.0L431.3,36.5M432.6,27.1L433.4,32.7L434.0,39.3L434.5,43.0L434.8,41.6L435.7,37.3M437.0,32.3L438.2,29.4M439.5,27.0L440.4,23.6L440.8,22.6" fill="none" stroke="#000" stroke-width="1.0" stroke-linejoin="miter"/>
<polyline points="222.8,108.3 223.6,111.1 224.7,114.3 225.2,115.4 226.0,114.1 227.1,116.5 227.6,118.9 228.4,120.9 229.0,122.0 230.0,116.2 230.7,114.5 231.6,113.7 232.4,111.9 233.0,110.8 234.0,108.8 234.8,109.8 235.4,107.9 236.4,110.0 237.2,111.3 237.8,112.5 238.8,108.8 239.6,104.9 240.2,102.8 241.2,98.9 242.0,96.7 242.5,97.7 242.8,97.7 243.6,94.9 244.4,93.9 244.9,93.1 245.2,93.8 246.0,93.6 246.8,93.0 247.3,92.4 247.6,92.1 248.4,92.2 249.2,89.5 249.6,89.5 250.0,88.3 250.8,90.3 251.6,92.7 252.0,92.3 252.4,90.3 253.2,93.9 254.0,95.8 254.4,96.7 254.8,98.2 255.6,98.4 256.7,101.9 257.2,99.5 258.0,99.7 259.1,98.5 259.6,96.6 260.4,94.9 261.5,91.8 262.0,89.7 262.8,86.0 263.9,82.5 264.4,80.5 265.5,79.9 266.0,81.2 266.8,82.0 267.4,85.5 268.4,84.6 269.2,83.5 269.8,81.2 270.8,84.6 271.6,84.5 272.1,87.3 273.2,89.9 274.0,95.1 274.8,99.2 275.7,103.2 276.4,103.6 277.2,99.3 278.1,99.1 278.8,98.4 279.6,96.2 280.4,93.1 281.2,92.7 282.0,90.1 282.8,88.9 283.6,93.1 284.5,94.1 285.2,97.6 286.0,100.1 286.4,101.3 286.8,102.9 287.6,102.1 288.3,102.9 289.2,112.8 289.7,117.2 290.0,116.2 291.1,108.5 291.6,105.6 292.4,101.9 293.0,99.3 294.0,94.5 294.7,91.6 295.6,88.3 296.4,88.0 297.0,86.9 298.0,89.4 298.8,92.7 299.4,93.1 300.4,91.0 301.2,90.7 301.8,88.7 302.8,86.2 303.6,85.5 304.1,84.4 304.4,82.5 305.2,84.0 306.0,81.0 306.5,80.6 306.8,81.7 307.6,83.6 308.2,85.5 309.2,88.3 310.1,90.1 310.8,91.0 311.6,89.4 312.4,88.3 313.2,90.7 314.0,92.6 314.8,94.4 315.6,95.9 316.4,97.6 317.2,98.0 318.0,101.4 318.8,102.0 319.6,101.8 320.4,106.5 321.4,111.2 322.0,112.6 322.8,110.5 323.8,112.4 324.4,110.2 325.2,108.4 326.2,105.4 326.8,104.1 327.9,99.1 328.4,99.6 329.2,100.9 329.7,101.9 330.0,103.7 330.8,105.9 331.4,108.5 332.4,111.1 333.3,113.1 334.0,108.9 335.0,106.8 335.6,109.5 336.1,112.2 336.4,110.9 337.2,109.4 337.8,109.8 338.8,105.2 339.2,104.4 339.6,103.3 340.4,99.7 340.9,97.1 341.2,95.0 342.0,94.3 342.8,91.8 343.2,90.8 343.6,90.6 344.4,93.3 345.2,90.5 345.6,92.3 346.0,91.1 346.8,86.6 347.6,83.8 348.0,83.6 348.4,82.5 349.2,79.9 349.9,78.6 350.8,80.2 351.6,80.0 352.4,75.7 353.2,70.0 354.0,67.0 355.1,66.9 355.6,66.8 356.4,69.2 357.0,69.7 358.0,65.9 358.7,63.3 359.6,70.7 360.3,71.3 361.2,73.3 362.2,75.7 362.8,76.1 363.6,79.5 364.6,109.8 365.2,91.0 366.0,84.0 367.1,75.0 367.6,73.8 368.4,69.8 369.0,67.7 370.0,64.3 370.9,62.9 371.6,60.2 372.4,57.4 372.8,56.9 373.2,56.2 374.0,55.7 374.6,55.9 375.6,53.0 376.5,51.2 377.2,48.5 377.8,46.6 379.0,51.7 379.6,48.7 380.3,45.9 381.2,46.3 382.2,44.9 382.8,43.4 383.6,43.3 384.1,44.3 384.4,46.1 385.3,47.5 386.0,53.6 386.8,55.1 387.2,57.0 387.9,49.9 388.4,49.2 389.2,48.7 389.8,45.7 390.8,42.7 391.6,42.0 392.4,43.9 392.9,45.5 393.2,47.5 394.2,44.5 394.8,45.9 395.4,47.9 396.7,40.0 397.2,42.3 397.9,46.0 398.9,50.8 399.8,57.0 400.4,54.4 401.1,51.4 402.3,45.4 402.8,44.4 403.6,43.2 404.4,40.3 405.5,37.0 406.0,38.0 406.8,39.3 407.6,42.4 408.0,44.5 408.4,47.1 409.0,48.9 410.0,44.4 410.5,44.1 410.8,43.8 411.6,41.0 412.4,40.6 413.2,40.1 414.3,39.6 414.8,38.3 415.6,37.6 416.4,39.1 416.8,40.0 417.2,40.2 418.1,35.1 418.8,32.0 419.6,29.4 420.0,29.1 420.4,31.3 421.2,32.1 422.0,36.6 422.5,38.0 422.8,36.2 423.8,32.2 424.4,30.1 425.0,30.2 426.3,28.4 426.8,30.4 427.5,32.2 428.4,32.5 428.8,31.6 429.2,31.7 430.1,35.0 430.8,35.0 431.3,36.5 431.6,33.4 432.6,27.1 433.4,32.7 434.0,39.3 434.5,43.0 434.8,41.6 435.7,37.3 436.4,33.9 437.0,32.3 438.2,29.4 438.8,27.4 439.5,27.0 440.4,23.6 440.8,22.6" fill="none" stroke="#000" stroke-width="0.25" stroke-linejoin="miter"/>
<path d="M222.84,106.63V109.33M223.64,109.29V111.57M224.74,113.18V115.28M225.24,113.22V116.36M227.11,114.02V117.89M227.64,118.44V120.93M230.04,115.59V117.42M231.64,111.37V114.36M233.04,108.66V112.37M234.04,107.84V110.65M234.84,107.66V110.43M235.41,107.19V110.34M241.24,98.01V99.98M242.84,97.08V98.29M243.64,93.54V96.31M244.44,92.85V94.66M244.89,92.42V94.45M245.24,92.77V94.72M246.04,92.75V94.83M247.26,90.93V93.96M248.44,90.64V94.08M249.24,87.47V91.24M249.63,88.71V90.59M250.04,87.28V89.19M250.84,88.17V91.49M251.64,91.14V93.37M252.00,91.58V93.56M252.44,89.36V93.06M254.37,95.63V99.07M256.74,100.71V102.31M257.24,98.47V99.95M258.04,98.73V100.68M259.11,96.99V99.86M259.64,95.42V97.17M262.04,88.06V91.82M265.51,78.94V81.29M266.04,79.43V82.15M267.40,82.43V87.05M269.24,82.91V84.75M270.84,83.10V85.43M274.04,94.60V96.48M274.84,98.22V100.77M275.70,101.58V103.78M277.24,97.73V100.47M278.07,98.15V100.01M279.64,95.40V97.29M280.44,92.28V94.19M281.24,91.07V94.24M282.04,87.95V92.00M282.81,88.18V91.59M283.64,89.56V94.12M284.47,93.46V94.85M285.24,96.35V98.60M286.04,98.73V100.65M286.37,100.69V102.92M287.64,101.48V102.58M288.26,102.09V103.71M289.24,112.02V113.86M290.04,115.49V116.71M291.64,105.03V106.22M292.44,101.39V103.66M294.04,93.85V96.06M294.66,91.15V93.46M295.64,86.68V89.58M297.03,85.16V89.87M298.04,89.02V92.74M298.84,91.13V93.23M299.40,91.34V94.88M301.24,89.12V91.29M301.77,87.71V89.59M302.84,84.45V87.23M303.64,84.21V86.01M304.14,83.34V86.56M306.51,78.80V81.57M306.84,80.14V82.36M308.17,84.94V86.09M309.24,86.36V89.96M310.84,90.26V91.47M311.64,88.20V90.22M312.44,86.09V90.84M313.24,90.06V91.35M314.04,91.23V93.13M314.81,92.47V95.58M315.64,94.89V96.35M317.18,97.22V99.44M319.55,99.02V105.31M320.44,105.28V107.47M321.45,109.76V112.35M323.82,109.10V113.48M324.44,108.89V111.39M326.84,101.99V104.55M327.85,98.63V100.48M329.24,100.28V101.66M329.74,100.47V104.22M330.04,101.94V106.17M331.40,107.26V109.08M332.44,109.88V114.06M333.30,111.29V114.32M336.44,108.11V111.41M339.64,102.26V103.86M340.44,98.94V101.17M340.88,96.19V98.40M342.84,90.97V92.39M343.25,88.59V92.21M344.44,92.87V95.31M345.24,87.27V91.96M345.62,91.33V92.74M346.04,89.98V93.11M346.84,84.18V87.60M347.64,83.36V85.00M348.44,81.41V85.03M349.24,78.17V80.85M349.89,76.24V79.21M350.84,77.85V82.60M351.55,77.69V80.56M353.21,68.76V70.57M354.04,66.41V69.09M355.10,65.13V67.47M355.64,65.24V69.27M358.04,65.42V67.54M358.66,60.94V64.24M359.64,70.07V72.90M360.32,69.16V72.40M361.24,71.92V73.80M362.21,75.24V76.36M362.84,75.06V78.20M364.58,109.37V110.39M366.04,81.65V84.85M368.44,67.87V70.32M370.04,63.67V64.84M370.86,61.23V64.43M371.64,58.88V61.48M372.44,55.03V59.04M372.75,54.49V58.58M373.24,55.05V59.28M374.63,53.97V58.04M376.52,50.77V53.58M382.19,42.01V45.29M382.84,42.89V44.99M383.64,42.77V44.66M384.44,45.07V47.30M385.34,46.49V48.17M385.97,52.73V55.19M386.84,54.58V55.64M387.23,55.55V58.12M388.44,48.20V49.93M389.24,48.22V50.68M390.84,41.52V44.05M391.64,41.54V42.49M392.44,42.93V44.59M392.90,44.83V46.01M394.16,43.63V46.13M395.42,46.10V48.27M396.68,38.93V41.72M397.24,40.24V43.03M399.82,56.29V57.80M400.44,53.61V54.88M402.84,43.12V46.25M403.60,42.59V45.56M406.04,37.21V41.14M406.75,37.68V40.91M408.01,43.59V46.57M409.02,47.27V50.07M410.04,43.27V44.87M410.53,43.71V44.89M410.84,42.66V44.47M412.42,39.66V40.98M413.24,39.56V40.66M414.31,39.14V40.10M417.24,38.41V41.00M418.09,34.52V35.68M418.84,31.19V32.88M419.64,28.30V30.14M419.97,28.17V31.02M421.23,31.15V32.90M422.84,34.03V36.60M423.75,30.60V32.80M425.01,28.10V31.66M428.79,30.59V32.36M429.24,30.92V33.82M430.84,32.74V35.52M431.31,35.56V37.92M432.57,25.36V28.56M433.45,31.86V33.91M434.04,37.69V40.07M435.72,34.95V39.40M436.98,31.59V33.69M438.24,28.17V30.38M438.84,26.39V27.78M439.50,24.52V28.38" stroke="#000" stroke-width="0.8" fill="none"/>
<polyline points="222.8,126.8 231.8,125.6 241.3,124.0 250.8,120.4 260.3,116.8 269.8,113.3 279.3,109.3 288.7,105.5 295.9,101.4 303.0,98.6 310.1,96.7 317.2,95.0 324.3,94.3 331.4,95.0 338.5,96.2 345.6,96.2 352.7,95.5 362.2,93.6 379.0,87.4 384.1,84.9 390.4,81.1 396.7,77.9 403.0,75.4 409.3,71.0 415.6,66.0 421.9,60.3 428.2,55.3 434.5,51.5 440.8,48.0" fill="none" stroke="#f62c2c" stroke-width="1.05" stroke-linejoin="round"/>
</g>
<text x="242.0" y="41.0" font-size="17.3" fill="#000" font-weight="bold" text-anchor="start" textLength="108.0" lengthAdjust="spacingAndGlyphs" stroke="#000" stroke-width="0.35">Europe Ex-UK</text>
<g clip-path="url(#c2_1)">
<clipPath id="up2"><rect x="222.5" y="137.5" width="222.89999999999998" height="43.099999999999994"/></clipPath>
<clipPath id="dn2"><rect x="222.5" y="180.6" width="222.89999999999998" height="20.400000000000006"/></clipPath>
<g clip-path="url(#up2)"><polygon points="222.8,180.6 222.8,164.1 223.8,167.2 224.7,170.0 225.7,171.9 226.6,174.7 227.4,173.6 228.2,172.3 229.1,174.4 229.9,175.8 230.8,173.2 231.8,170.0 232.6,169.2 233.3,168.5 234.1,167.6 234.9,167.9 235.7,168.4 236.5,168.8 237.3,166.9 238.0,165.8 238.8,164.1 239.6,162.6 240.4,160.7 241.2,159.4 242.0,158.9 242.8,158.8 243.5,158.2 244.7,153.5 245.5,153.8 246.3,154.7 247.1,154.7 247.9,154.5 248.6,153.9 249.4,153.0 250.2,152.4 251.0,152.2 251.8,152.3 252.6,153.3 253.3,154.5 254.1,155.8 255.0,159.0 255.8,161.7 256.7,163.8 257.7,165.2 258.6,163.0 259.6,160.5 260.4,161.8 261.2,162.9 262.0,160.0 262.8,157.0 263.8,153.1 264.7,149.9 265.9,148.3 266.7,150.1 267.5,151.5 268.3,153.5 269.0,153.0 269.8,152.3 270.6,152.3 271.4,154.2 272.3,155.8 273.0,159.7 273.7,162.9 274.5,167.2 275.3,172.3 276.1,172.0 276.9,171.1 277.7,171.1 278.5,169.8 279.2,168.5 280.0,167.6 280.8,166.7 281.6,165.5 282.4,164.1 283.2,166.8 284.0,168.8 285.0,170.3 285.9,172.3 286.9,174.3 287.8,175.8 289.0,180.6 290.1,180.6 291.0,180.6 291.8,180.6 292.6,178.2 293.4,174.7 294.4,172.4 295.3,169.5 296.1,169.4 296.9,168.8 297.7,168.8 298.5,170.5 299.3,171.9 300.0,173.5 301.0,175.0 301.9,177.0 302.7,174.2 303.6,171.1 304.4,169.2 305.1,168.0 305.9,166.4 306.7,168.2 307.6,170.0 308.5,171.3 309.4,173.5 310.2,173.2 311.0,172.3 311.8,172.3 312.8,174.8 313.7,177.0 314.5,177.9 315.3,178.6 316.1,180.1 316.9,180.6 317.7,180.6 318.9,180.6 319.8,180.6 320.8,180.6 321.5,180.6 322.3,180.6 323.1,180.6 323.9,180.6 324.7,180.6 325.5,180.6 326.3,180.6 327.1,180.6 328.1,180.6 329.0,180.6 329.8,180.6 330.6,180.6 331.6,180.6 332.5,180.6 333.3,180.6 334.2,180.6 335.0,180.6 335.8,180.6 336.8,180.6 337.7,180.6 338.6,180.6 339.6,180.6 340.5,180.6 341.2,179.7 341.9,177.0 342.8,175.4 343.6,174.7 344.4,175.0 345.2,175.8 346.2,174.1 347.1,172.3 348.1,168.4 349.0,165.2 349.8,166.7 350.6,167.6 351.5,165.7 352.3,164.1 353.2,159.8 354.2,155.8 355.4,159.4 356.5,153.5 357.5,152.6 358.4,152.3 359.2,156.3 360.1,159.4 360.9,160.7 361.7,162.9 362.5,165.5 363.4,167.6 364.4,180.6 365.0,180.6 365.6,180.6 366.2,174.7 367.4,167.6 368.1,164.3 368.8,160.5 369.7,158.5 370.7,155.8 371.4,154.8 372.2,153.3 373.0,152.3 373.8,151.2 374.6,150.3 375.4,148.8 376.3,146.6 377.2,145.2 378.0,145.7 378.7,145.8 379.4,145.5 380.1,145.9 380.9,146.1 381.6,145.3 382.4,145.2 383.2,145.2 384.0,145.8 384.8,146.4 385.7,151.7 386.7,157.0 387.5,153.6 388.3,151.1 389.1,150.4 389.9,149.5 390.7,148.8 391.5,147.8 392.2,147.4 393.0,146.4 393.8,148.9 394.6,151.5 395.4,153.5 396.2,151.5 397.0,148.8 398.0,152.6 398.9,155.8 399.9,159.2 400.8,161.7 401.6,158.5 402.4,154.7 403.2,153.5 404.0,151.9 404.8,151.1 405.6,150.7 406.4,150.4 407.1,149.9 408.0,154.5 408.8,158.2 409.7,158.9 410.7,159.4 411.5,158.3 412.2,156.6 413.0,155.8 413.8,156.4 414.6,156.2 415.4,157.0 416.2,155.1 417.0,153.5 417.7,152.3 418.7,151.9 419.6,151.1 420.4,155.6 421.3,159.4 422.1,158.3 422.8,156.6 423.6,155.8 424.4,155.7 425.2,154.8 426.0,154.7 426.8,157.2 427.5,159.5 428.3,161.7 429.1,162.9 429.9,163.0 430.7,164.1 431.6,161.5 432.6,159.4 433.4,165.7 434.2,172.3 435.2,169.0 436.1,166.4 436.9,164.5 437.8,161.7 438.5,161.4 439.3,160.6 440.1,160.5 441.3,159.4 441.3,180.6" fill="url(#gg2)"/><polyline points="222.8,164.1 223.8,167.2 224.7,170.0 225.7,171.9 226.6,174.7 227.4,173.6 228.2,172.3 229.1,174.4 229.9,175.8 230.8,173.2 231.8,170.0 232.6,169.2 233.3,168.5 234.1,167.6 234.9,167.9 235.7,168.4 236.5,168.8 237.3,166.9 238.0,165.8 238.8,164.1 239.6,162.6 240.4,160.7 241.2,159.4 242.0,158.9 242.8,158.8 243.5,158.2 244.7,153.5 245.5,153.8 246.3,154.7 247.1,154.7 247.9,154.5 248.6,153.9 249.4,153.0 250.2,152.4 251.0,152.2 251.8,152.3 252.6,153.3 253.3,154.5 254.1,155.8 255.0,159.0 255.8,161.7 256.7,163.8 257.7,165.2 258.6,163.0 259.6,160.5 260.4,161.8 261.2,162.9 262.0,160.0 262.8,157.0 263.8,153.1 264.7,149.9 265.9,148.3 266.7,150.1 267.5,151.5 268.3,153.5 269.0,153.0 269.8,152.3 270.6,152.3 271.4,154.2 272.3,155.8 273.0,159.7 273.7,162.9 274.5,167.2 275.3,172.3 276.1,172.0 276.9,171.1 277.7,171.1 278.5,169.8 279.2,168.5 280.0,167.6 280.8,166.7 281.6,165.5 282.4,164.1 283.2,166.8 284.0,168.8 285.0,170.3 285.9,172.3 286.9,174.3 287.8,175.8 289.0,180.6 290.1,186.0 291.0,184.0 291.8,181.7 292.6,178.2 293.4,174.7 294.4,172.4 295.3,169.5 296.1,169.4 296.9,168.8 297.7,168.8 298.5,170.5 299.3,171.9 300.0,173.5 301.0,175.0 301.9,177.0 302.7,174.2 303.6,171.1 304.4,169.2 305.1,168.0 305.9,166.4 306.7,168.2 307.6,170.0 308.5,171.3 309.4,173.5 310.2,173.2 311.0,172.3 311.8,172.3 312.8,174.8 313.7,177.0 314.5,177.9 315.3,178.6 316.1,180.1 316.9,181.1 317.7,181.3 318.9,184.1 319.8,186.6 320.8,190.0 321.5,190.7 322.3,192.0 323.1,193.0 323.9,191.8 324.7,191.0 325.5,190.0 326.3,188.2 327.1,186.4 328.1,185.3 329.0,184.1 329.8,185.9 330.6,187.6 331.6,190.1 332.5,193.0 333.3,192.1 334.2,191.6 335.0,192.7 335.8,193.5 336.8,191.1 337.7,188.8 338.6,187.6 339.6,186.4 340.5,181.7 341.2,179.7 341.9,177.0 342.8,175.4 343.6,174.7 344.4,175.0 345.2,175.8 346.2,174.1 347.1,172.3 348.1,168.4 349.0,165.2 349.8,166.7 350.6,167.6 351.5,165.7 352.3,164.1 353.2,159.8 354.2,155.8 355.4,159.4 356.5,153.5 357.5,152.6 358.4,152.3 359.2,156.3 360.1,159.4 360.9,160.7 361.7,162.9 362.5,165.5 363.4,167.6 364.4,180.6 365.0,191.6 365.6,180.6 366.2,174.7 367.4,167.6 368.1,164.3 368.8,160.5 369.7,158.5 370.7,155.8 371.4,154.8 372.2,153.3 373.0,152.3 373.8,151.2 374.6,150.3 375.4,148.8 376.3,146.6 377.2,145.2 378.0,145.7 378.7,145.8 379.4,145.5 380.1,145.9 380.9,146.1 381.6,145.3 382.4,145.2 383.2,145.2 384.0,145.8 384.8,146.4 385.7,151.7 386.7,157.0 387.5,153.6 388.3,151.1 389.1,150.4 389.9,149.5 390.7,148.8 391.5,147.8 392.2,147.4 393.0,146.4 393.8,148.9 394.6,151.5 395.4,153.5 396.2,151.5 397.0,148.8 398.0,152.6 398.9,155.8 399.9,159.2 400.8,161.7 401.6,158.5 402.4,154.7 403.2,153.5 404.0,151.9 404.8,151.1 405.6,150.7 406.4,150.4 407.1,149.9 408.0,154.5 408.8,158.2 409.7,158.9 410.7,159.4 411.5,158.3 412.2,156.6 413.0,155.8 413.8,156.4 414.6,156.2 415.4,157.0 416.2,155.1 417.0,153.5 417.7,152.3 418.7,151.9 419.6,151.1 420.4,155.6 421.3,159.4 422.1,158.3 422.8,156.6 423.6,155.8 424.4,155.7 425.2,154.8 426.0,154.7 426.8,157.2 427.5,159.5 428.3,161.7 429.1,162.9 429.9,163.0 430.7,164.1 431.6,161.5 432.6,159.4 433.4,165.7 434.2,172.3 435.2,169.0 436.1,166.4 436.9,164.5 437.8,161.7 438.5,161.4 439.3,160.6 440.1,160.5 441.3,159.4" fill="none" stroke="#0f870f" stroke-width="1.15" stroke-linejoin="round"/></g>
<g clip-path="url(#dn2)"><polygon points="222.8,180.6 222.8,180.6 223.8,180.6 224.7,180.6 225.7,180.6 226.6,180.6 227.4,180.6 228.2,180.6 229.1,180.6 229.9,180.6 230.8,180.6 231.8,180.6 232.6,180.6 233.3,180.6 234.1,180.6 234.9,180.6 235.7,180.6 236.5,180.6 237.3,180.6 238.0,180.6 238.8,180.6 239.6,180.6 240.4,180.6 241.2,180.6 242.0,180.6 242.8,180.6 243.5,180.6 244.7,180.6 245.5,180.6 246.3,180.6 247.1,180.6 247.9,180.6 248.6,180.6 249.4,180.6 250.2,180.6 251.0,180.6 251.8,180.6 252.6,180.6 253.3,180.6 254.1,180.6 255.0,180.6 255.8,180.6 256.7,180.6 257.7,180.6 258.6,180.6 259.6,180.6 260.4,180.6 261.2,180.6 262.0,180.6 262.8,180.6 263.8,180.6 264.7,180.6 265.9,180.6 266.7,180.6 267.5,180.6 268.3,180.6 269.0,180.6 269.8,180.6 270.6,180.6 271.4,180.6 272.3,180.6 273.0,180.6 273.7,180.6 274.5,180.6 275.3,180.6 276.1,180.6 276.9,180.6 277.7,180.6 278.5,180.6 279.2,180.6 280.0,180.6 280.8,180.6 281.6,180.6 282.4,180.6 283.2,180.6 284.0,180.6 285.0,180.6 285.9,180.6 286.9,180.6 287.8,180.6 289.0,180.6 290.1,186.0 291.0,184.0 291.8,181.7 292.6,180.6 293.4,180.6 294.4,180.6 295.3,180.6 296.1,180.6 296.9,180.6 297.7,180.6 298.5,180.6 299.3,180.6 300.0,180.6 301.0,180.6 301.9,180.6 302.7,180.6 303.6,180.6 304.4,180.6 305.1,180.6 305.9,180.6 306.7,180.6 307.6,180.6 308.5,180.6 309.4,180.6 310.2,180.6 311.0,180.6 311.8,180.6 312.8,180.6 313.7,180.6 314.5,180.6 315.3,180.6 316.1,180.6 316.9,181.1 317.7,181.3 318.9,184.1 319.8,186.6 320.8,190.0 321.5,190.7 322.3,192.0 323.1,193.0 323.9,191.8 324.7,191.0 325.5,190.0 326.3,188.2 327.1,186.4 328.1,185.3 329.0,184.1 329.8,185.9 330.6,187.6 331.6,190.1 332.5,193.0 333.3,192.1 334.2,191.6 335.0,192.7 335.8,193.5 336.8,191.1 337.7,188.8 338.6,187.6 339.6,186.4 340.5,181.7 341.2,180.6 341.9,180.6 342.8,180.6 343.6,180.6 344.4,180.6 345.2,180.6 346.2,180.6 347.1,180.6 348.1,180.6 349.0,180.6 349.8,180.6 350.6,180.6 351.5,180.6 352.3,180.6 353.2,180.6 354.2,180.6 355.4,180.6 356.5,180.6 357.5,180.6 358.4,180.6 359.2,180.6 360.1,180.6 360.9,180.6 361.7,180.6 362.5,180.6 363.4,180.6 364.4,180.6 365.0,191.6 365.6,180.6 366.2,180.6 367.4,180.6 368.1,180.6 368.8,180.6 369.7,180.6 370.7,180.6 371.4,180.6 372.2,180.6 373.0,180.6 373.8,180.6 374.6,180.6 375.4,180.6 376.3,180.6 377.2,180.6 378.0,180.6 378.7,180.6 379.4,180.6 380.1,180.6 380.9,180.6 381.6,180.6 382.4,180.6 383.2,180.6 384.0,180.6 384.8,180.6 385.7,180.6 386.7,180.6 387.5,180.6 388.3,180.6 389.1,180.6 389.9,180.6 390.7,180.6 391.5,180.6 392.2,180.6 393.0,180.6 393.8,180.6 394.6,180.6 395.4,180.6 396.2,180.6 397.0,180.6 398.0,180.6 398.9,180.6 399.9,180.6 400.8,180.6 401.6,180.6 402.4,180.6 403.2,180.6 404.0,180.6 404.8,180.6 405.6,180.6 406.4,180.6 407.1,180.6 408.0,180.6 408.8,180.6 409.7,180.6 410.7,180.6 411.5,180.6 412.2,180.6 413.0,180.6 413.8,180.6 414.6,180.6 415.4,180.6 416.2,180.6 417.0,180.6 417.7,180.6 418.7,180.6 419.6,180.6 420.4,180.6 421.3,180.6 422.1,180.6 422.8,180.6 423.6,180.6 424.4,180.6 425.2,180.6 426.0,180.6 426.8,180.6 427.5,180.6 428.3,180.6 429.1,180.6 429.9,180.6 430.7,180.6 431.6,180.6 432.6,180.6 433.4,180.6 434.2,180.6 435.2,180.6 436.1,180.6 436.9,180.6 437.8,180.6 438.5,180.6 439.3,180.6 440.1,180.6 441.3,180.6 441.3,180.6" fill="url(#gr2)"/><polyline points="222.8,164.1 223.8,167.2 224.7,170.0 225.7,171.9 226.6,174.7 227.4,173.6 228.2,172.3 229.1,174.4 229.9,175.8 230.8,173.2 231.8,170.0 232.6,169.2 233.3,168.5 234.1,167.6 234.9,167.9 235.7,168.4 236.5,168.8 237.3,166.9 238.0,165.8 238.8,164.1 239.6,162.6 240.4,160.7 241.2,159.4 242.0,158.9 242.8,158.8 243.5,158.2 244.7,153.5 245.5,153.8 246.3,154.7 247.1,154.7 247.9,154.5 248.6,153.9 249.4,153.0 250.2,152.4 251.0,152.2 251.8,152.3 252.6,153.3 253.3,154.5 254.1,155.8 255.0,159.0 255.8,161.7 256.7,163.8 257.7,165.2 258.6,163.0 259.6,160.5 260.4,161.8 261.2,162.9 262.0,160.0 262.8,157.0 263.8,153.1 264.7,149.9 265.9,148.3 266.7,150.1 267.5,151.5 268.3,153.5 269.0,153.0 269.8,152.3 270.6,152.3 271.4,154.2 272.3,155.8 273.0,159.7 273.7,162.9 274.5,167.2 275.3,172.3 276.1,172.0 276.9,171.1 277.7,171.1 278.5,169.8 279.2,168.5 280.0,167.6 280.8,166.7 281.6,165.5 282.4,164.1 283.2,166.8 284.0,168.8 285.0,170.3 285.9,172.3 286.9,174.3 287.8,175.8 289.0,180.6 290.1,186.0 291.0,184.0 291.8,181.7 292.6,178.2 293.4,174.7 294.4,172.4 295.3,169.5 296.1,169.4 296.9,168.8 297.7,168.8 298.5,170.5 299.3,171.9 300.0,173.5 301.0,175.0 301.9,177.0 302.7,174.2 303.6,171.1 304.4,169.2 305.1,168.0 305.9,166.4 306.7,168.2 307.6,170.0 308.5,171.3 309.4,173.5 310.2,173.2 311.0,172.3 311.8,172.3 312.8,174.8 313.7,177.0 314.5,177.9 315.3,178.6 316.1,180.1 316.9,181.1 317.7,181.3 318.9,184.1 319.8,186.6 320.8,190.0 321.5,190.7 322.3,192.0 323.1,193.0 323.9,191.8 324.7,191.0 325.5,190.0 326.3,188.2 327.1,186.4 328.1,185.3 329.0,184.1 329.8,185.9 330.6,187.6 331.6,190.1 332.5,193.0 333.3,192.1 334.2,191.6 335.0,192.7 335.8,193.5 336.8,191.1 337.7,188.8 338.6,187.6 339.6,186.4 340.5,181.7 341.2,179.7 341.9,177.0 342.8,175.4 343.6,174.7 344.4,175.0 345.2,175.8 346.2,174.1 347.1,172.3 348.1,168.4 349.0,165.2 349.8,166.7 350.6,167.6 351.5,165.7 352.3,164.1 353.2,159.8 354.2,155.8 355.4,159.4 356.5,153.5 357.5,152.6 358.4,152.3 359.2,156.3 360.1,159.4 360.9,160.7 361.7,162.9 362.5,165.5 363.4,167.6 364.4,180.6 365.0,191.6 365.6,180.6 366.2,174.7 367.4,167.6 368.1,164.3 368.8,160.5 369.7,158.5 370.7,155.8 371.4,154.8 372.2,153.3 373.0,152.3 373.8,151.2 374.6,150.3 375.4,148.8 376.3,146.6 377.2,145.2 378.0,145.7 378.7,145.8 379.4,145.5 380.1,145.9 380.9,146.1 381.6,145.3 382.4,145.2 383.2,145.2 384.0,145.8 384.8,146.4 385.7,151.7 386.7,157.0 387.5,153.6 388.3,151.1 389.1,150.4 389.9,149.5 390.7,148.8 391.5,147.8 392.2,147.4 393.0,146.4 393.8,148.9 394.6,151.5 395.4,153.5 396.2,151.5 397.0,148.8 398.0,152.6 398.9,155.8 399.9,159.2 400.8,161.7 401.6,158.5 402.4,154.7 403.2,153.5 404.0,151.9 404.8,151.1 405.6,150.7 406.4,150.4 407.1,149.9 408.0,154.5 408.8,158.2 409.7,158.9 410.7,159.4 411.5,158.3 412.2,156.6 413.0,155.8 413.8,156.4 414.6,156.2 415.4,157.0 416.2,155.1 417.0,153.5 417.7,152.3 418.7,151.9 419.6,151.1 420.4,155.6 421.3,159.4 422.1,158.3 422.8,156.6 423.6,155.8 424.4,155.7 425.2,154.8 426.0,154.7 426.8,157.2 427.5,159.5 428.3,161.7 429.1,162.9 429.9,163.0 430.7,164.1 431.6,161.5 432.6,159.4 433.4,165.7 434.2,172.3 435.2,169.0 436.1,166.4 436.9,164.5 437.8,161.7 438.5,161.4 439.3,160.6 440.1,160.5 441.3,159.4" fill="none" stroke="#f22" stroke-width="1.1" stroke-linejoin="round"/></g>
</g>
<g clip-path="url(#c2_2)">
<polygon points="222.8,257.1 289.0,220.6 289.0,266.6 222.8,266.6" fill="url(#gk2)"/>
<polygon points="293.4,264.6 314.9,252.3 314.9,266.6 293.4,266.6" fill="url(#gk2)"/>
<polygon points="340.9,264.6 363.6,252.3 363.6,266.6 340.9,266.6" fill="url(#gk2)"/>
<polygon points="365.6,264.6 441.3,221.7 441.3,266.6 365.6,266.6" fill="url(#gk2)"/>
</g>
<linearGradient id="gg2" gradientUnits="userSpaceOnUse" x1="0" y1="141.5" x2="0" y2="180.6"><stop offset="0" stop-color="#bfe0bf"/><stop offset="1" stop-color="#88c388"/></linearGradient>
<linearGradient id="gr2" gradientUnits="userSpaceOnUse" x1="0" y1="180.6" x2="0" y2="195"><stop offset="0" stop-color="#ff8080"/><stop offset="1" stop-color="#ffc4c4"/></linearGradient>
<linearGradient id="gk2" gradientUnits="userSpaceOnUse" x1="0" y1="201" x2="0" y2="264.6"><stop offset="0" stop-color="#8c8c8c"/><stop offset="0.25" stop-color="#686868"/><stop offset="0.62" stop-color="#2b2b2b"/><stop offset="0.86" stop-color="#0c0c0c"/><stop offset="1" stop-color="#000"/></linearGradient>
<text x="228.2" y="197.7" font-size="6.5" fill="#000" font-weight="bold" text-anchor="start">Percentage Above 200-Day MA</text>
<text x="229.0" y="216.5" font-size="6.5" fill="#000" font-weight="bold" text-anchor="start">Number of Days Above 200-Day MA</text>
<path d="M222.5,137.5H477.5M222.5,201H477.5" stroke="#e3e3e3" stroke-width="1" fill="none"/>
<path d="M445.4,9.4V264.6" stroke="#d2d2d2" stroke-width="1" fill="none"/>
<g clip-path="url(#a2_0)">
<path d="M445.4,11h2.5" stroke="#888" stroke-width="1"/>
<text x="448.9" y="15.3" font-size="12" fill="#333" font-weight="normal" text-anchor="start">67.0</text>
<path d="M445.4,37.5h2.5" stroke="#888" stroke-width="1"/>
<text x="448.9" y="41.8" font-size="12" fill="#333" font-weight="normal" text-anchor="start">61.0</text>
<path d="M445.4,52h2.5" stroke="#888" stroke-width="1"/>
<text x="448.9" y="56.3" font-size="12" fill="#333" font-weight="normal" text-anchor="start">58.0</text>
<path d="M445.4,67.5h2.5" stroke="#888" stroke-width="1"/>
<text x="448.9" y="71.8" font-size="12" fill="#333" font-weight="normal" text-anchor="start">55.0</text>
<path d="M445.4,84h2.5" stroke="#888" stroke-width="1"/>
<text x="448.9" y="88.3" font-size="12" fill="#333" font-weight="normal" text-anchor="start">52.0</text>
<path d="M445.4,101h2.5" stroke="#888" stroke-width="1"/>
<text x="448.9" y="105.3" font-size="12" fill="#333" font-weight="normal" text-anchor="start">49.0</text>
<path d="M445.4,118h2.5" stroke="#888" stroke-width="1"/>
<text x="448.9" y="122.3" font-size="12" fill="#333" font-weight="normal" text-anchor="start">46.0</text>
<path d="M445.4,137.3h2.5" stroke="#888" stroke-width="1"/>
<text x="448.9" y="141.6" font-size="12" fill="#333" font-weight="normal" text-anchor="start">43.0</text>
</g>
<g clip-path="url(#a2_1)">
<path d="M445.4,158h2.5" stroke="#888" stroke-width="1"/>
<text x="448.9" y="162.3" font-size="12" fill="#333" font-weight="normal" text-anchor="start">10.0</text>
<path d="M445.4,180.5h2.5" stroke="#888" stroke-width="1"/>
<text x="448.9" y="184.8" font-size="12" fill="#333" font-weight="normal" text-anchor="start">0.0</text>
<path d="M445.4,203h2.5" stroke="#888" stroke-width="1"/>
<text x="448.9" y="207.3" font-size="12" fill="#333" font-weight="normal" text-anchor="start">-10.0</text>
</g>
<g clip-path="url(#a2_2)">
<path d="M445.4,215.7h2.5" stroke="#888" stroke-width="1"/>
<text x="448.9" y="220.0" font-size="12" fill="#333" font-weight="normal" text-anchor="start">200</text>
<path d="M445.4,240h2.5" stroke="#888" stroke-width="1"/>
<text x="448.9" y="244.3" font-size="12" fill="#333" font-weight="normal" text-anchor="start">100</text>
<path d="M445.4,264.3h2.5" stroke="#888" stroke-width="1"/>
<text x="448.9" y="268.6" font-size="12" fill="#333" font-weight="normal" text-anchor="start">0</text>
</g>
<rect x="448.4" y="17" width="27.5" height="16" fill="#000"/>
<text x="462.1" y="29.3" font-size="12" fill="#fff" font-weight="normal" text-anchor="middle">64.0</text>
<rect x="448.4" y="40" width="27.5" height="16" fill="#f00"/>
<text x="462.1" y="52.3" font-size="12" fill="#fff" font-weight="normal" text-anchor="middle">59.0</text>
<rect x="448.4" y="152.5" width="21" height="16" fill="#008000"/>
<text x="458.9" y="164.8" font-size="12" fill="#fff" font-weight="normal" text-anchor="middle">8.5</text>
<rect x="448.4" y="214.5" width="24.5" height="16" fill="#000"/>
<text x="460.6" y="226.8" font-size="12" fill="#fff" font-weight="normal" text-anchor="middle">172</text>
<rect x="465.90000000000003" y="201.5" width="10.8" height="10.8" fill="#f3f3f3" stroke="#e4e4e4" stroke-width="0.5"/>
<rect x="467.5" y="206.0" width="7.6" height="4.8" rx="0.7" fill="#757575"/><path d="M469.1,206.1v-1.3a2.2,2.2 0 0 1 4.4,0v1.3" fill="none" stroke="#757575" stroke-width="1.3"/><rect x="470.8" y="207.6" width="1" height="1.7" fill="#ddd"/>
<rect x="472.0" y="138.5" width="5.5" height="8" fill="#f4f4f4" stroke="#e2e2e2" stroke-width="0.5"/>
<path d="M475.5,140.9l-1.8,1.6l1.8,1.6" fill="none" stroke="#5a5a5a" stroke-width="0.9"/>
<rect x="482" y="9.4" width="255.5" height="255.20000000000002" rx="1.5" fill="#fff" stroke="#e3e3e3" stroke-width="1.1"/>
<text x="485.0" y="6.7" font-size="5.1" fill="#5a5a5a" font-weight="normal" text-anchor="start" textLength="140.5" lengthAdjust="spacingAndGlyphs">EPP:US - Daily CandleStick Chart - USD - Price Returns - No Layout</text>
<clipPath id="c3_0"><rect x="482" y="9.4" width="224.5" height="128.1"/></clipPath>
<clipPath id="a3_0"><rect x="706.5" y="9.9" width="31.0" height="127.6"/></clipPath>
<clipPath id="c3_1"><rect x="482" y="137.5" width="224.5" height="63.5"/></clipPath>
<clipPath id="a3_1"><rect x="706.5" y="138.0" width="31.0" height="63.0"/></clipPath>
<clipPath id="c3_2"><rect x="482" y="201" width="224.5" height="63.60000000000002"/></clipPath>
<clipPath id="a3_2"><rect x="706.5" y="201.5" width="31.0" height="63.10000000000002"/></clipPath>
<g clip-path="url(#c3_0)">
<path d="M482.4,83.4L483.2,87.3L483.6,90.7L484.0,91.4M484.8,94.1L485.2,95.1L485.6,96.6L486.6,99.8M487.8,108.5L489.0,102.3L489.6,100.0M490.7,96.0L491.2,97.3L492.0,98.1M493.6,98.4L494.2,98.8L495.2,102.6L496.1,105.7M497.1,98.9L497.6,96.9L498.5,94.1L499.2,94.3M500.0,93.0L500.9,91.5L501.6,90.7M502.5,88.3L503.2,87.4L503.7,85.5M504.8,87.4L505.6,88.2L506.4,89.2L507.3,87.6M508.9,91.5L509.6,91.1L510.4,88.4M511.2,88.7L512.0,87.0L512.7,86.2M513.6,93.5L513.9,94.8L514.4,99.6L515.2,104.2M517.0,102.1L517.6,99.7L518.6,95.4L519.2,94.2M520.0,90.0L520.3,89.7L520.8,87.3L521.6,86.0M523.2,82.2L523.9,77.9L524.8,75.6L525.5,73.6M527.4,79.8L528.0,81.6L528.8,81.0L529.3,82.3M531.0,77.7L532.0,82.7M533.6,88.8L534.5,90.3L535.2,89.5L536.0,88.5M537.6,87.8L538.1,89.7L539.2,87.3M540.8,81.4L541.6,76.1L542.4,74.6M543.2,71.8L544.0,76.2L544.5,77.8L545.6,81.0M547.2,89.3L547.5,89.0L548.0,95.4L548.7,104.0M550.2,94.3L551.2,89.0M552.0,83.8L552.8,80.4L553.5,76.3L554.4,73.2M555.4,70.3L556.0,68.1L557.0,67.3L557.6,68.2M558.4,71.5L558.7,72.8L559.2,73.4L560.0,75.2L560.6,75.6M561.6,69.2L562.2,66.2L563.2,61.3M564.8,51.1L565.8,48.3L566.4,46.7L567.2,45.1M568.0,45.4L568.9,49.1L569.6,51.2L570.5,54.6M572.0,53.7L572.4,53.0L572.8,53.7L573.6,56.8M575.2,61.8L576.0,64.1L576.8,64.3M578.4,65.6L579.2,61.9L579.5,61.2L580.0,60.7M580.8,60.1L581.5,59.5L582.4,60.0L583.1,61.2L584.0,57.3M585.6,55.9L586.7,58.1L587.2,58.3M588.6,53.3L589.6,60.3L590.2,63.3L590.9,67.2M592.8,80.5L593.3,79.1L594.4,79.4L595.0,81.7M596.0,79.5L596.6,77.1L597.6,82.7L598.0,87.3L598.4,86.4M599.2,84.3L599.7,79.8L600.8,77.3L601.4,73.6L602.4,75.6M604.0,73.7L604.8,72.6L605.1,72.1L605.6,72.0L606.4,70.0M608.0,66.2L608.5,63.1L609.6,66.8M610.4,68.6L611.2,70.0L612.0,71.7L612.8,75.1M614.4,75.7L615.1,72.7L616.0,76.5L617.0,79.4M618.7,76.9L619.2,78.7L620.0,80.5L620.3,82.9L620.8,81.8L621.6,78.4M623.2,82.0L623.9,92.6L624.4,111.7L624.6,124.1L625.1,108.2M626.4,89.9L627.0,85.3L628.0,80.4L628.9,74.6M629.6,71.1L630.5,67.7L631.2,64.3L632.2,61.4M633.6,60.4L634.1,57.2L634.4,58.1L635.2,54.5M636.0,52.9L636.8,54.2L637.9,53.0M639.2,51.3L639.8,50.6L640.8,49.5L641.6,45.2M643.2,38.6L643.5,38.7L644.0,41.0L644.8,41.2L645.4,44.1L646.4,49.9M648.0,49.4L648.8,46.3L649.6,45.2M650.7,44.4L651.2,44.5L652.0,43.2L653.0,43.2M654.4,38.9L654.9,39.2L656.0,37.2M657.6,39.8L658.2,39.6L659.2,40.2M660.8,42.8L661.6,39.5L662.0,37.9L662.4,34.5L663.2,33.4M664.8,32.2L665.6,34.1L666.4,31.1M668.0,30.3L668.8,33.3L669.1,31.4L669.6,31.7M670.4,28.8L671.0,28.3L672.0,25.2L672.7,23.0M674.4,28.0L675.2,30.5L676.3,30.5M677.6,33.1L677.9,34.1L678.4,32.9L679.2,28.5L679.6,26.6L680.0,25.0M680.8,24.2L681.5,24.5L682.4,28.4L683.4,32.8M685.0,29.4L685.6,27.5L686.4,25.4L686.7,25.0M688.0,30.2L688.6,30.9L689.6,28.6L690.5,27.0M692.1,33.6L692.8,36.1L693.8,38.1L694.4,41.7M696.0,43.3L696.9,39.5L697.6,37.5M698.5,34.7L699.2,35.4L700.0,35.1L700.4,33.1L700.8,32.2L701.9,28.4" fill="none" stroke="#000" stroke-width="1.0" stroke-linejoin="miter"/>
<polyline points="482.4,83.4 483.2,87.3 483.6,90.7 484.0,91.4 484.8,94.1 485.2,95.1 485.6,96.6 486.6,99.8 487.2,102.7 487.8,108.5 489.0,102.3 489.6,100.0 490.7,96.0 491.2,97.3 492.0,98.1 492.3,98.0 492.8,96.5 493.6,98.4 494.2,98.8 495.2,102.6 496.1,105.7 497.1,98.9 497.6,96.9 498.5,94.1 499.2,94.3 500.0,93.0 500.9,91.5 501.6,90.7 502.5,88.3 503.2,87.4 503.7,85.5 504.8,87.4 505.6,88.2 506.4,89.2 507.3,87.6 508.0,88.0 508.9,91.5 509.6,91.1 510.4,88.4 510.8,88.3 511.2,88.7 512.0,87.0 512.7,86.2 513.6,93.5 513.9,94.8 514.4,99.6 515.2,104.2 515.5,107.1 516.0,106.8 517.0,102.1 517.6,99.7 518.6,95.4 519.2,94.2 520.0,90.0 520.3,89.7 520.8,87.3 521.6,86.0 522.2,84.2 523.2,82.2 523.9,77.9 524.8,75.6 525.5,73.6 526.4,76.1 527.4,79.8 528.0,81.6 528.8,81.0 529.3,82.3 530.4,79.4 531.0,77.7 532.0,82.7 532.6,84.9 533.6,88.8 534.5,90.3 535.2,89.5 536.0,88.5 536.4,87.5 536.8,87.1 537.6,87.8 538.1,89.7 539.2,87.3 539.7,84.0 540.8,81.4 541.6,76.1 542.4,74.6 542.8,71.9 543.2,71.8 544.0,76.2 544.5,77.8 545.6,81.0 545.9,81.8 546.4,86.4 547.2,89.3 547.5,89.0 548.0,95.4 548.7,104.0 549.6,98.8 550.2,94.3 551.2,89.0 551.6,85.0 552.0,83.8 552.8,80.4 553.5,76.3 554.4,73.2 555.4,70.3 556.0,68.1 557.0,67.3 557.6,68.2 558.4,71.5 558.7,72.8 559.2,73.4 560.0,75.2 560.6,75.6 561.6,69.2 562.2,66.2 563.2,61.3 564.1,56.1 564.8,51.1 565.8,48.3 566.4,46.7 567.2,45.1 568.0,45.4 568.9,49.1 569.6,51.2 570.5,54.6 571.2,54.8 572.0,53.7 572.4,53.0 572.8,53.7 573.6,56.8 574.3,57.9 575.2,61.8 576.0,64.1 576.8,64.3 577.6,67.1 578.4,65.6 579.2,61.9 579.5,61.2 580.0,60.7 580.8,60.1 581.5,59.5 582.4,60.0 583.1,61.2 584.0,57.3 584.8,55.8 585.6,55.9 586.7,58.1 587.2,58.3 588.0,56.9 588.6,53.3 589.6,60.3 590.2,63.3 590.9,67.2 591.9,85.1 592.8,80.5 593.3,79.1 594.4,79.4 595.0,81.7 596.0,79.5 596.6,77.1 597.6,82.7 598.0,87.3 598.4,86.4 599.2,84.3 599.7,79.8 600.8,77.3 601.4,73.6 602.4,75.6 603.2,77.6 604.0,73.7 604.8,72.6 605.1,72.1 605.6,72.0 606.4,70.0 606.8,68.6 607.2,68.8 608.0,66.2 608.5,63.1 609.6,66.8 610.4,68.6 611.2,70.0 612.0,71.7 612.8,75.1 613.4,78.3 614.4,75.7 615.1,72.7 616.0,76.5 617.0,79.4 617.6,78.8 618.7,76.9 619.2,78.7 620.0,80.5 620.3,82.9 620.8,81.8 621.6,78.4 622.2,76.9 623.2,82.0 623.9,92.6 624.4,111.7 624.6,124.1 625.1,108.2 625.8,95.8 626.4,89.9 627.0,85.3 628.0,80.4 628.9,74.6 629.6,71.1 630.5,67.7 631.2,64.3 632.2,61.4 632.8,61.3 633.6,60.4 634.1,57.2 634.4,58.1 635.2,54.5 636.0,52.9 636.8,54.2 637.9,53.0 638.4,51.8 639.2,51.3 639.8,50.6 640.8,49.5 641.6,45.2 642.4,44.7 643.2,38.6 643.5,38.7 644.0,41.0 644.8,41.2 645.4,44.1 646.4,49.9 647.1,52.9 648.0,49.4 648.8,46.3 649.6,45.2 650.7,44.4 651.2,44.5 652.0,43.2 653.0,43.2 653.6,42.3 654.4,38.9 654.9,39.2 656.0,37.2 656.6,37.0 657.6,39.8 658.2,39.6 659.2,40.2 660.1,43.8 660.8,42.8 661.6,39.5 662.0,37.9 662.4,34.5 663.2,33.4 663.7,30.8 664.8,32.2 665.6,34.1 666.4,31.1 667.2,30.1 668.0,30.3 668.8,33.3 669.1,31.4 669.6,31.7 670.4,28.8 671.0,28.3 672.0,25.2 672.7,23.0 673.6,26.0 674.4,28.0 675.2,30.5 676.3,30.5 676.8,30.1 677.6,33.1 677.9,34.1 678.4,32.9 679.2,28.5 679.6,26.6 680.0,25.0 680.8,24.2 681.5,24.5 682.4,28.4 683.4,32.8 684.0,30.1 685.0,29.4 685.6,27.5 686.4,25.4 686.7,25.0 687.2,26.5 688.0,30.2 688.6,30.9 689.6,28.6 690.5,27.0 691.2,28.8 692.1,33.6 692.8,36.1 693.8,38.1 694.4,41.7 695.2,45.4 696.0,43.3 696.9,39.5 697.6,37.5 698.5,34.7 699.2,35.4 700.0,35.1 700.4,33.1 700.8,32.2 701.9,28.4" fill="none" stroke="#000" stroke-width="0.25" stroke-linejoin="miter"/>
<path d="M482.37,82.55V83.83M483.17,86.57V89.79M483.56,90.17V91.78M483.97,90.81V91.86M486.64,98.78V101.57M487.82,107.73V110.09M489.57,98.16V100.82M491.17,96.25V97.79M492.77,95.83V97.63M493.57,95.71V98.96M495.17,101.58V103.42M497.07,96.35V100.06M497.57,95.60V97.45M498.49,92.61V97.24M500.86,90.24V93.36M502.52,86.61V89.18M504.77,86.82V89.23M505.60,86.18V89.85M507.26,86.44V88.53M508.92,90.67V92.32M510.37,85.75V89.32M510.81,87.62V89.35M511.17,88.24V89.51M511.97,85.17V88.69M512.71,85.65V87.57M513.57,92.79V95.21M513.89,93.79V96.15M515.97,105.69V107.68M517.57,98.18V100.92M519.17,92.30V95.22M519.97,88.77V90.84M520.29,87.73V90.66M522.19,83.62V85.75M523.85,77.38V78.52M526.37,74.33V76.72M528.77,79.24V81.76M530.96,75.85V79.04M531.97,82.19V84.32M532.62,83.66V85.56M535.17,88.61V90.44M536.41,86.39V88.82M536.77,86.60V88.05M537.57,86.65V88.73M538.07,88.41V91.54M539.17,85.82V87.91M540.77,80.41V81.87M542.37,74.14V76.19M542.81,71.46V72.68M543.17,70.91V73.07M543.97,74.73V78.20M545.57,79.81V81.70M547.17,88.47V89.68M547.55,88.47V90.17M547.97,94.11V97.00M549.57,97.52V100.72M551.17,88.51V91.77M551.97,82.09V85.64M552.77,77.84V80.89M553.48,75.71V77.39M554.37,72.54V74.53M555.97,66.40V69.77M557.03,66.43V68.45M557.57,67.33V68.62M558.37,70.60V72.15M558.69,72.14V75.35M559.17,72.84V74.45M560.59,75.11V77.41M563.17,60.56V62.51M565.80,47.83V50.23M566.37,44.81V47.78M567.97,44.54V47.69M568.88,48.31V50.75M569.57,50.64V52.45M570.54,53.71V56.83M571.97,52.93V55.74M572.44,51.18V54.40M572.77,53.15V55.18M575.17,60.01V63.24M578.37,64.71V66.81M579.55,60.19V62.60M579.97,59.95V61.97M580.77,59.54V60.98M581.45,58.71V61.09M582.37,58.11V62.37M583.11,60.27V62.44M584.76,53.61V57.97M585.57,53.73V57.62M587.17,56.68V58.87M587.97,56.38V57.48M589.57,58.91V61.28M590.22,61.64V66.41M590.93,65.76V68.37M591.87,83.10V85.51M594.37,78.95V80.73M596.62,76.55V77.84M598.37,85.43V88.44M599.17,83.20V87.26M600.77,76.84V79.17M601.36,71.83V74.24M602.37,72.77V76.89M603.25,75.74V80.27M604.77,71.26V73.22M605.15,70.98V73.72M607.17,66.34V70.08M608.47,60.46V64.52M609.57,66.39V69.18M610.36,67.21V69.52M611.17,68.85V71.52M612.77,73.74V75.84M613.44,75.32V78.67M614.37,73.74V78.46M615.10,72.24V73.41M615.97,75.18V77.21M617.00,78.82V81.82M619.17,77.90V80.01M620.77,81.18V83.96M621.57,77.01V79.27M622.21,76.34V78.65M623.16,80.55V82.44M623.87,91.18V93.54M624.58,122.70V125.28M625.06,106.00V108.71M625.77,92.61V96.35M626.37,87.02V91.36M626.95,82.84V87.94M628.85,73.09V76.27M629.57,70.29V71.98M630.51,66.53V69.49M632.17,60.54V63.42M633.57,58.63V61.47M638.37,49.51V52.43M639.17,50.38V51.99M640.77,49.05V50.90M641.65,44.28V46.10M643.17,37.48V40.79M643.55,37.77V40.51M644.77,40.73V41.74M645.44,42.31V45.37M648.76,45.13V47.19M649.57,44.10V46.27M650.66,43.47V45.74M653.03,42.70V43.80M653.57,41.43V44.05M656.58,36.26V37.61M657.57,39.27V40.72M658.24,39.05V40.86M660.77,41.33V43.26M661.57,38.62V40.06M662.03,36.29V38.52M662.37,32.97V35.31M663.69,30.14V32.18M665.59,33.34V34.67M666.37,30.55V32.72M668.77,32.52V34.01M669.14,30.21V32.76M669.57,29.08V32.45M670.37,27.11V30.23M671.04,27.86V29.36M671.97,24.59V25.99M672.70,22.53V26.07M673.57,24.83V26.85M675.17,29.85V33.81M676.77,29.24V31.58M677.91,32.98V35.08M678.37,31.97V33.64M679.57,25.33V27.29M679.97,22.53V25.61M680.77,22.33V24.98M682.37,26.44V30.17M683.97,29.48V30.51M686.37,24.33V27.08M687.97,29.39V31.60M688.58,30.46V31.32M690.48,25.47V27.94M692.14,32.63V34.73M695.97,42.78V46.68M698.54,33.98V37.69M699.17,33.96V36.84M699.97,33.49V36.04M700.77,31.49V34.48" stroke="#000" stroke-width="0.8" fill="none"/>
<polyline points="481.2,97.2 489.5,98.6 499.0,99.8 508.4,100.2 517.9,100.5 527.4,99.8 536.9,97.9 546.4,94.3 555.9,90.3 565.3,86.0 574.8,82.0 584.3,78.5 591.4,76.1 598.5,74.7 605.6,73.0 612.7,71.8 619.8,71.3 627.0,71.8 634.1,70.6 641.2,67.8 648.3,65.9 655.4,64.7 662.5,63.0 669.6,60.7 679.1,57.1 688.6,52.9 695.7,49.3 701.9,46.9" fill="none" stroke="#f62c2c" stroke-width="1.05" stroke-linejoin="round"/>
</g>
<text x="499.4" y="41.0" font-size="17.3" fill="#000" font-weight="bold" text-anchor="start" textLength="128.0" lengthAdjust="spacingAndGlyphs" stroke="#000" stroke-width="0.35">Pacific Ex-Japan</text>
<g clip-path="url(#c3_1)">
<clipPath id="up3"><rect x="482" y="137.5" width="224.5" height="30.30000000000001"/></clipPath>
<clipPath id="dn3"><rect x="482" y="167.8" width="224.5" height="33.19999999999999"/></clipPath>
<g clip-path="url(#up3)"><polygon points="481.9,167.8 481.9,160.5 482.7,162.7 483.5,164.1 484.4,164.9 485.2,166.4 485.9,167.7 486.6,167.8 487.8,167.8 488.9,167.8 489.8,167.8 490.6,167.1 491.4,167.2 492.2,166.4 493.2,166.9 494.1,167.6 495.1,167.3 496.0,167.1 496.5,167.8 497.7,166.4 498.5,165.3 499.3,164.1 500.2,163.1 501.2,162.4 502.0,161.8 502.8,160.7 503.5,159.4 504.5,161.3 505.4,162.9 506.2,161.9 507.1,161.7 507.9,162.4 508.6,162.2 509.4,162.4 510.2,162.3 511.0,162.0 511.8,161.7 512.7,161.1 513.7,160.5 514.8,167.8 515.8,167.8 516.5,167.8 517.2,167.8 518.0,166.8 518.8,165.2 519.7,163.2 520.5,161.7 521.4,159.8 522.4,157.0 523.2,155.0 524.0,153.5 524.7,152.3 525.4,151.6 526.3,153.7 527.1,155.8 528.0,157.4 529.0,158.2 529.8,156.7 530.6,155.4 531.4,156.9 532.3,159.4 533.2,160.9 534.1,162.9 534.9,162.3 535.7,161.7 536.5,161.7 537.3,162.9 538.1,163.5 538.9,164.1 539.8,161.4 540.7,159.4 541.6,156.8 542.4,154.7 543.2,156.9 544.0,158.2 544.7,160.1 545.4,161.7 546.3,162.3 547.1,162.9 547.9,165.9 548.7,167.8 549.7,167.8 550.4,167.8 551.1,167.6 552.0,163.8 553.0,160.5 553.9,158.9 554.9,157.0 555.7,156.0 556.5,155.8 557.3,157.6 558.1,159.4 559.1,158.5 560.0,158.2 560.9,156.3 561.7,154.7 562.6,152.2 563.6,149.9 564.4,148.1 565.2,146.4 566.2,145.6 567.1,144.1 568.0,145.4 569.0,146.9 569.8,148.0 570.6,149.9 571.5,149.7 572.3,148.8 573.2,150.9 574.2,152.3 575.1,155.0 576.0,157.0 576.9,158.0 577.7,159.4 578.5,158.1 579.3,157.0 580.3,156.1 581.2,154.7 582.2,156.0 583.1,158.2 583.9,156.8 584.8,156.3 585.6,157.0 586.4,157.7 587.3,156.5 588.3,155.8 589.0,157.6 589.7,159.4 590.6,164.1 591.6,167.8 592.3,167.8 593.0,167.8 593.8,167.8 594.6,167.8 595.3,167.8 596.0,167.8 596.9,167.8 597.7,167.8 598.5,167.8 599.4,167.8 600.5,167.8 601.5,167.8 602.4,167.6 603.3,167.3 604.3,166.4 605.2,167.8 605.9,167.3 606.6,165.2 607.5,164.1 608.3,162.4 609.1,164.5 609.9,165.7 610.9,166.9 611.8,167.8 613.0,167.8 613.8,167.8 614.6,167.8 615.4,167.8 616.1,167.8 616.9,167.8 617.7,167.8 618.5,167.8 619.4,167.8 620.3,167.8 621.2,167.8 622.0,167.8 622.7,167.8 623.6,167.8 624.5,167.8 625.5,167.8 626.4,167.8 627.1,167.8 627.8,167.8 628.7,167.8 629.5,167.8 630.3,167.6 631.1,166.4 632.1,164.5 633.0,162.9 634.0,161.4 634.9,159.4 635.8,159.3 636.8,158.7 637.5,158.4 638.2,158.2 638.9,157.7 639.8,156.1 640.8,154.7 641.5,153.7 642.2,153.4 642.9,152.3 643.8,154.1 644.8,155.4 645.7,158.0 646.7,160.5 647.5,159.2 648.3,157.0 649.1,156.7 650.0,155.8 650.9,155.4 651.9,154.7 652.8,153.7 653.7,153.5 654.6,154.8 655.4,155.4 656.2,153.5 657.0,152.3 658.0,153.2 658.9,154.7 659.8,152.6 660.8,151.1 661.6,149.7 662.4,148.8 663.4,149.9 664.3,150.7 665.1,149.2 666.0,147.6 666.9,148.1 667.9,149.2 668.8,149.7 669.7,150.7 670.6,149.7 671.4,148.3 672.2,147.0 673.0,145.9 674.0,147.7 674.9,149.9 675.7,152.0 676.6,153.5 677.4,150.9 678.2,148.8 679.2,148.2 680.1,148.3 681.0,152.1 682.0,155.8 682.8,154.9 683.6,153.5 684.5,152.4 685.3,152.3 686.2,153.2 687.2,153.9 688.1,152.5 689.0,151.6 689.9,153.5 690.7,154.7 691.5,155.2 692.3,155.8 693.0,158.0 693.8,160.5 694.6,163.3 695.4,166.4 696.2,163.7 697.0,161.7 698.0,160.5 698.9,160.1 699.6,159.8 700.3,159.5 701.0,158.9 701.8,158.9 701.8,167.8" fill="url(#gg3)"/><polyline points="481.9,160.5 482.7,162.7 483.5,164.1 484.4,164.9 485.2,166.4 485.9,167.7 486.6,168.8 487.8,173.5 488.9,170.0 489.8,168.5 490.6,167.1 491.4,167.2 492.2,166.4 493.2,166.9 494.1,167.6 495.1,167.3 496.0,167.1 496.5,171.1 497.7,166.4 498.5,165.3 499.3,164.1 500.2,163.1 501.2,162.4 502.0,161.8 502.8,160.7 503.5,159.4 504.5,161.3 505.4,162.9 506.2,161.9 507.1,161.7 507.9,162.4 508.6,162.2 509.4,162.4 510.2,162.3 511.0,162.0 511.8,161.7 512.7,161.1 513.7,160.5 514.8,168.8 515.8,172.3 516.5,170.9 517.2,168.8 518.0,166.8 518.8,165.2 519.7,163.2 520.5,161.7 521.4,159.8 522.4,157.0 523.2,155.0 524.0,153.5 524.7,152.3 525.4,151.6 526.3,153.7 527.1,155.8 528.0,157.4 529.0,158.2 529.8,156.7 530.6,155.4 531.4,156.9 532.3,159.4 533.2,160.9 534.1,162.9 534.9,162.3 535.7,161.7 536.5,161.7 537.3,162.9 538.1,163.5 538.9,164.1 539.8,161.4 540.7,159.4 541.6,156.8 542.4,154.7 543.2,156.9 544.0,158.2 544.7,160.1 545.4,161.7 546.3,162.3 547.1,162.9 547.9,165.9 548.7,168.8 549.7,172.8 550.4,170.6 551.1,167.6 552.0,163.8 553.0,160.5 553.9,158.9 554.9,157.0 555.7,156.0 556.5,155.8 557.3,157.6 558.1,159.4 559.1,158.5 560.0,158.2 560.9,156.3 561.7,154.7 562.6,152.2 563.6,149.9 564.4,148.1 565.2,146.4 566.2,145.6 567.1,144.1 568.0,145.4 569.0,146.9 569.8,148.0 570.6,149.9 571.5,149.7 572.3,148.8 573.2,150.9 574.2,152.3 575.1,155.0 576.0,157.0 576.9,158.0 577.7,159.4 578.5,158.1 579.3,157.0 580.3,156.1 581.2,154.7 582.2,156.0 583.1,158.2 583.9,156.8 584.8,156.3 585.6,157.0 586.4,157.7 587.3,156.5 588.3,155.8 589.0,157.6 589.7,159.4 590.6,164.1 591.6,172.3 592.3,170.8 593.0,170.0 593.8,171.3 594.6,171.8 595.3,170.9 596.0,170.0 596.9,171.9 597.7,174.2 598.5,172.5 599.4,171.1 600.5,168.8 601.5,168.0 602.4,167.6 603.3,167.3 604.3,166.4 605.2,168.8 605.9,167.3 606.6,165.2 607.5,164.1 608.3,162.4 609.1,164.5 609.9,165.7 610.9,166.9 611.8,167.8 613.0,170.0 613.8,169.3 614.6,168.8 615.4,171.1 616.1,173.5 616.9,172.0 617.7,171.1 618.5,171.8 619.4,172.8 620.3,171.4 621.2,170.0 622.0,172.1 622.7,173.5 623.6,182.9 624.5,193.5 625.5,184.1 626.4,179.4 627.1,177.1 627.8,174.7 628.7,171.4 629.5,168.8 630.3,167.6 631.1,166.4 632.1,164.5 633.0,162.9 634.0,161.4 634.9,159.4 635.8,159.3 636.8,158.7 637.5,158.4 638.2,158.2 638.9,157.7 639.8,156.1 640.8,154.7 641.5,153.7 642.2,153.4 642.9,152.3 643.8,154.1 644.8,155.4 645.7,158.0 646.7,160.5 647.5,159.2 648.3,157.0 649.1,156.7 650.0,155.8 650.9,155.4 651.9,154.7 652.8,153.7 653.7,153.5 654.6,154.8 655.4,155.4 656.2,153.5 657.0,152.3 658.0,153.2 658.9,154.7 659.8,152.6 660.8,151.1 661.6,149.7 662.4,148.8 663.4,149.9 664.3,150.7 665.1,149.2 666.0,147.6 666.9,148.1 667.9,149.2 668.8,149.7 669.7,150.7 670.6,149.7 671.4,148.3 672.2,147.0 673.0,145.9 674.0,147.7 674.9,149.9 675.7,152.0 676.6,153.5 677.4,150.9 678.2,148.8 679.2,148.2 680.1,148.3 681.0,152.1 682.0,155.8 682.8,154.9 683.6,153.5 684.5,152.4 685.3,152.3 686.2,153.2 687.2,153.9 688.1,152.5 689.0,151.6 689.9,153.5 690.7,154.7 691.5,155.2 692.3,155.8 693.0,158.0 693.8,160.5 694.6,163.3 695.4,166.4 696.2,163.7 697.0,161.7 698.0,160.5 698.9,160.1 699.6,159.8 700.3,159.5 701.0,158.9 701.8,158.9" fill="none" stroke="#0f870f" stroke-width="1.15" stroke-linejoin="round"/></g>
<g clip-path="url(#dn3)"><polygon points="481.9,167.8 481.9,167.8 482.7,167.8 483.5,167.8 484.4,167.8 485.2,167.8 485.9,167.8 486.6,168.8 487.8,173.5 488.9,170.0 489.8,168.5 490.6,167.8 491.4,167.8 492.2,167.8 493.2,167.8 494.1,167.8 495.1,167.8 496.0,167.8 496.5,171.1 497.7,167.8 498.5,167.8 499.3,167.8 500.2,167.8 501.2,167.8 502.0,167.8 502.8,167.8 503.5,167.8 504.5,167.8 505.4,167.8 506.2,167.8 507.1,167.8 507.9,167.8 508.6,167.8 509.4,167.8 510.2,167.8 511.0,167.8 511.8,167.8 512.7,167.8 513.7,167.8 514.8,168.8 515.8,172.3 516.5,170.9 517.2,168.8 518.0,167.8 518.8,167.8 519.7,167.8 520.5,167.8 521.4,167.8 522.4,167.8 523.2,167.8 524.0,167.8 524.7,167.8 525.4,167.8 526.3,167.8 527.1,167.8 528.0,167.8 529.0,167.8 529.8,167.8 530.6,167.8 531.4,167.8 532.3,167.8 533.2,167.8 534.1,167.8 534.9,167.8 535.7,167.8 536.5,167.8 537.3,167.8 538.1,167.8 538.9,167.8 539.8,167.8 540.7,167.8 541.6,167.8 542.4,167.8 543.2,167.8 544.0,167.8 544.7,167.8 545.4,167.8 546.3,167.8 547.1,167.8 547.9,167.8 548.7,168.8 549.7,172.8 550.4,170.6 551.1,167.8 552.0,167.8 553.0,167.8 553.9,167.8 554.9,167.8 555.7,167.8 556.5,167.8 557.3,167.8 558.1,167.8 559.1,167.8 560.0,167.8 560.9,167.8 561.7,167.8 562.6,167.8 563.6,167.8 564.4,167.8 565.2,167.8 566.2,167.8 567.1,167.8 568.0,167.8 569.0,167.8 569.8,167.8 570.6,167.8 571.5,167.8 572.3,167.8 573.2,167.8 574.2,167.8 575.1,167.8 576.0,167.8 576.9,167.8 577.7,167.8 578.5,167.8 579.3,167.8 580.3,167.8 581.2,167.8 582.2,167.8 583.1,167.8 583.9,167.8 584.8,167.8 585.6,167.8 586.4,167.8 587.3,167.8 588.3,167.8 589.0,167.8 589.7,167.8 590.6,167.8 591.6,172.3 592.3,170.8 593.0,170.0 593.8,171.3 594.6,171.8 595.3,170.9 596.0,170.0 596.9,171.9 597.7,174.2 598.5,172.5 599.4,171.1 600.5,168.8 601.5,168.0 602.4,167.8 603.3,167.8 604.3,167.8 605.2,168.8 605.9,167.8 606.6,167.8 607.5,167.8 608.3,167.8 609.1,167.8 609.9,167.8 610.9,167.8 611.8,167.8 613.0,170.0 613.8,169.3 614.6,168.8 615.4,171.1 616.1,173.5 616.9,172.0 617.7,171.1 618.5,171.8 619.4,172.8 620.3,171.4 621.2,170.0 622.0,172.1 622.7,173.5 623.6,182.9 624.5,193.5 625.5,184.1 626.4,179.4 627.1,177.1 627.8,174.7 628.7,171.4 629.5,168.8 630.3,167.8 631.1,167.8 632.1,167.8 633.0,167.8 634.0,167.8 634.9,167.8 635.8,167.8 636.8,167.8 637.5,167.8 638.2,167.8 638.9,167.8 639.8,167.8 640.8,167.8 641.5,167.8 642.2,167.8 642.9,167.8 643.8,167.8 644.8,167.8 645.7,167.8 646.7,167.8 647.5,167.8 648.3,167.8 649.1,167.8 650.0,167.8 650.9,167.8 651.9,167.8 652.8,167.8 653.7,167.8 654.6,167.8 655.4,167.8 656.2,167.8 657.0,167.8 658.0,167.8 658.9,167.8 659.8,167.8 660.8,167.8 661.6,167.8 662.4,167.8 663.4,167.8 664.3,167.8 665.1,167.8 666.0,167.8 666.9,167.8 667.9,167.8 668.8,167.8 669.7,167.8 670.6,167.8 671.4,167.8 672.2,167.8 673.0,167.8 674.0,167.8 674.9,167.8 675.7,167.8 676.6,167.8 677.4,167.8 678.2,167.8 679.2,167.8 680.1,167.8 681.0,167.8 682.0,167.8 682.8,167.8 683.6,167.8 684.5,167.8 685.3,167.8 686.2,167.8 687.2,167.8 688.1,167.8 689.0,167.8 689.9,167.8 690.7,167.8 691.5,167.8 692.3,167.8 693.0,167.8 693.8,167.8 694.6,167.8 695.4,167.8 696.2,167.8 697.0,167.8 698.0,167.8 698.9,167.8 699.6,167.8 700.3,167.8 701.0,167.8 701.8,167.8 701.8,167.8" fill="url(#gr3)"/><polyline points="481.9,160.5 482.7,162.7 483.5,164.1 484.4,164.9 485.2,166.4 485.9,167.7 486.6,168.8 487.8,173.5 488.9,170.0 489.8,168.5 490.6,167.1 491.4,167.2 492.2,166.4 493.2,166.9 494.1,167.6 495.1,167.3 496.0,167.1 496.5,171.1 497.7,166.4 498.5,165.3 499.3,164.1 500.2,163.1 501.2,162.4 502.0,161.8 502.8,160.7 503.5,159.4 504.5,161.3 505.4,162.9 506.2,161.9 507.1,161.7 507.9,162.4 508.6,162.2 509.4,162.4 510.2,162.3 511.0,162.0 511.8,161.7 512.7,161.1 513.7,160.5 514.8,168.8 515.8,172.3 516.5,170.9 517.2,168.8 518.0,166.8 518.8,165.2 519.7,163.2 520.5,161.7 521.4,159.8 522.4,157.0 523.2,155.0 524.0,153.5 524.7,152.3 525.4,151.6 526.3,153.7 527.1,155.8 528.0,157.4 529.0,158.2 529.8,156.7 530.6,155.4 531.4,156.9 532.3,159.4 533.2,160.9 534.1,162.9 534.9,162.3 535.7,161.7 536.5,161.7 537.3,162.9 538.1,163.5 538.9,164.1 539.8,161.4 540.7,159.4 541.6,156.8 542.4,154.7 543.2,156.9 544.0,158.2 544.7,160.1 545.4,161.7 546.3,162.3 547.1,162.9 547.9,165.9 548.7,168.8 549.7,172.8 550.4,170.6 551.1,167.6 552.0,163.8 553.0,160.5 553.9,158.9 554.9,157.0 555.7,156.0 556.5,155.8 557.3,157.6 558.1,159.4 559.1,158.5 560.0,158.2 560.9,156.3 561.7,154.7 562.6,152.2 563.6,149.9 564.4,148.1 565.2,146.4 566.2,145.6 567.1,144.1 568.0,145.4 569.0,146.9 569.8,148.0 570.6,149.9 571.5,149.7 572.3,148.8 573.2,150.9 574.2,152.3 575.1,155.0 576.0,157.0 576.9,158.0 577.7,159.4 578.5,158.1 579.3,157.0 580.3,156.1 581.2,154.7 582.2,156.0 583.1,158.2 583.9,156.8 584.8,156.3 585.6,157.0 586.4,157.7 587.3,156.5 588.3,155.8 589.0,157.6 589.7,159.4 590.6,164.1 591.6,172.3 592.3,170.8 593.0,170.0 593.8,171.3 594.6,171.8 595.3,170.9 596.0,170.0 596.9,171.9 597.7,174.2 598.5,172.5 599.4,171.1 600.5,168.8 601.5,168.0 602.4,167.6 603.3,167.3 604.3,166.4 605.2,168.8 605.9,167.3 606.6,165.2 607.5,164.1 608.3,162.4 609.1,164.5 609.9,165.7 610.9,166.9 611.8,167.8 613.0,170.0 613.8,169.3 614.6,168.8 615.4,171.1 616.1,173.5 616.9,172.0 617.7,171.1 618.5,171.8 619.4,172.8 620.3,171.4 621.2,170.0 622.0,172.1 622.7,173.5 623.6,182.9 624.5,193.5 625.5,184.1 626.4,179.4 627.1,177.1 627.8,174.7 628.7,171.4 629.5,168.8 630.3,167.6 631.1,166.4 632.1,164.5 633.0,162.9 634.0,161.4 634.9,159.4 635.8,159.3 636.8,158.7 637.5,158.4 638.2,158.2 638.9,157.7 639.8,156.1 640.8,154.7 641.5,153.7 642.2,153.4 642.9,152.3 643.8,154.1 644.8,155.4 645.7,158.0 646.7,160.5 647.5,159.2 648.3,157.0 649.1,156.7 650.0,155.8 650.9,155.4 651.9,154.7 652.8,153.7 653.7,153.5 654.6,154.8 655.4,155.4 656.2,153.5 657.0,152.3 658.0,153.2 658.9,154.7 659.8,152.6 660.8,151.1 661.6,149.7 662.4,148.8 663.4,149.9 664.3,150.7 665.1,149.2 666.0,147.6 666.9,148.1 667.9,149.2 668.8,149.7 669.7,150.7 670.6,149.7 671.4,148.3 672.2,147.0 673.0,145.9 674.0,147.7 674.9,149.9 675.7,152.0 676.6,153.5 677.4,150.9 678.2,148.8 679.2,148.2 680.1,148.3 681.0,152.1 682.0,155.8 682.8,154.9 683.6,153.5 684.5,152.4 685.3,152.3 686.2,153.2 687.2,153.9 688.1,152.5 689.0,151.6 689.9,153.5 690.7,154.7 691.5,155.2 692.3,155.8 693.0,158.0 693.8,160.5 694.6,163.3 695.4,166.4 696.2,163.7 697.0,161.7 698.0,160.5 698.9,160.1 699.6,159.8 700.3,159.5 701.0,158.9 701.8,158.9" fill="none" stroke="#f22" stroke-width="1.1" stroke-linejoin="round"/></g>
</g>
<g clip-path="url(#c3_2)">
<polygon points="481.9,260.6 487.1,258.2 487.1,266.6 481.9,266.6" fill="url(#gk3)"/>
<polygon points="491.0,264.1 496.0,262.6 496.0,266.6 491.0,266.6" fill="url(#gk3)"/>
<polygon points="496.2,264.6 514.8,252.3 514.8,266.6 496.2,266.6" fill="url(#gk3)"/>
<polygon points="516.9,264.6 549.0,242.2 549.0,266.6 516.9,266.6" fill="url(#gk3)"/>
<polygon points="550.3,264.6 591.8,235.9 591.8,266.6 550.3,266.6" fill="url(#gk3)"/>
<polygon points="602.4,264.1 604.8,261.3 604.8,266.6 602.4,266.6" fill="url(#gk3)"/>
<polygon points="603.5,264.6 612.5,259.6 612.5,266.6 603.5,266.6" fill="url(#gk3)"/>
<polygon points="629.2,264.6 701.7,214.0 701.7,266.6 629.2,266.6" fill="url(#gk3)"/>
</g>
<linearGradient id="gg3" gradientUnits="userSpaceOnUse" x1="0" y1="141.5" x2="0" y2="167.8"><stop offset="0" stop-color="#bfe0bf"/><stop offset="1" stop-color="#88c388"/></linearGradient>
<linearGradient id="gr3" gradientUnits="userSpaceOnUse" x1="0" y1="167.8" x2="0" y2="195"><stop offset="0" stop-color="#ff8080"/><stop offset="1" stop-color="#ffc4c4"/></linearGradient>
<linearGradient id="gk3" gradientUnits="userSpaceOnUse" x1="0" y1="201" x2="0" y2="264.6"><stop offset="0" stop-color="#8c8c8c"/><stop offset="0.25" stop-color="#686868"/><stop offset="0.62" stop-color="#2b2b2b"/><stop offset="0.86" stop-color="#0c0c0c"/><stop offset="1" stop-color="#000"/></linearGradient>
<text x="487.1" y="197.5" font-size="6.5" fill="#000" font-weight="bold" text-anchor="start">Percentage Above 200-Day MA</text>
<text x="487.8" y="216.5" font-size="6.5" fill="#000" font-weight="bold" text-anchor="start">Number of Days Above 200-Day MA</text>
<path d="M482,137.5H737.5M482,201H737.5" stroke="#e3e3e3" stroke-width="1" fill="none"/>
<path d="M706.5,9.4V264.6" stroke="#d2d2d2" stroke-width="1" fill="none"/>
<g clip-path="url(#a3_0)">
<path d="M706.5,10h2.5" stroke="#888" stroke-width="1"/>
<text x="710.0" y="14.3" font-size="12" fill="#333" font-weight="normal" text-anchor="start">53.0</text>
<path d="M706.5,42h2.5" stroke="#888" stroke-width="1"/>
<text x="710.0" y="46.3" font-size="12" fill="#333" font-weight="normal" text-anchor="start">49.0</text>
<path d="M706.5,59.5h2.5" stroke="#888" stroke-width="1"/>
<text x="710.0" y="63.8" font-size="12" fill="#333" font-weight="normal" text-anchor="start">47.0</text>
<path d="M706.5,73.5h2.5" stroke="#888" stroke-width="1"/>
<text x="710.0" y="77.8" font-size="12" fill="#333" font-weight="normal" text-anchor="start">45.0</text>
<path d="M706.5,88h2.5" stroke="#888" stroke-width="1"/>
<text x="710.0" y="92.3" font-size="12" fill="#333" font-weight="normal" text-anchor="start">43.0</text>
<path d="M706.5,103.5h2.5" stroke="#888" stroke-width="1"/>
<text x="710.0" y="107.8" font-size="12" fill="#333" font-weight="normal" text-anchor="start">41.0</text>
<path d="M706.5,119.5h2.5" stroke="#888" stroke-width="1"/>
<text x="710.0" y="123.8" font-size="12" fill="#333" font-weight="normal" text-anchor="start">39.0</text>
<path d="M706.5,136.6h2.5" stroke="#888" stroke-width="1"/>
<text x="710.0" y="140.9" font-size="12" fill="#333" font-weight="normal" text-anchor="start">37.0</text>
</g>
<g clip-path="url(#a3_1)">
<path d="M706.5,148.8h2.5" stroke="#888" stroke-width="1"/>
<text x="710.0" y="153.1" font-size="12" fill="#333" font-weight="normal" text-anchor="start">10.0</text>
<path d="M706.5,168.3h2.5" stroke="#888" stroke-width="1"/>
<text x="710.0" y="172.6" font-size="12" fill="#333" font-weight="normal" text-anchor="start">0.0</text>
<path d="M706.5,186.9h2.5" stroke="#888" stroke-width="1"/>
<text x="710.0" y="191.2" font-size="12" fill="#333" font-weight="normal" text-anchor="start">-10.0</text>
</g>
<g clip-path="url(#a3_2)">
<path d="M706.5,202.5h2.5" stroke="#888" stroke-width="1"/>
<text x="710.0" y="206.8" font-size="12" fill="#333" font-weight="normal" text-anchor="start">200</text>
<path d="M706.5,233.4h2.5" stroke="#888" stroke-width="1"/>
<text x="710.0" y="237.7" font-size="12" fill="#333" font-weight="normal" text-anchor="start">100</text>
<path d="M706.5,264.9h2.5" stroke="#888" stroke-width="1"/>
<text x="710.0" y="269.2" font-size="12" fill="#333" font-weight="normal" text-anchor="start">0</text>
</g>
<rect x="709.5" y="22" width="26" height="16" fill="#000"/>
<text x="722.5" y="34.3" font-size="12" fill="#fff" font-weight="normal" text-anchor="middle">51.1</text>
<rect x="709.5" y="38.5" width="26" height="16" fill="#f00"/>
<text x="722.5" y="50.8" font-size="12" fill="#fff" font-weight="normal" text-anchor="middle">48.9</text>
<rect x="709.5" y="152.5" width="20.5" height="16" fill="#008000"/>
<text x="719.8" y="164.8" font-size="12" fill="#fff" font-weight="normal" text-anchor="middle">4.6</text>
<rect x="709.5" y="205.9" width="24.4" height="16" fill="#000"/>
<text x="721.7" y="218.2" font-size="12" fill="#fff" font-weight="normal" text-anchor="middle">162</text>
<rect x="725.9" y="201.5" width="10.8" height="10.8" fill="#f3f3f3" stroke="#e4e4e4" stroke-width="0.5"/>
<rect x="727.5" y="206.0" width="7.6" height="4.8" rx="0.7" fill="#757575"/><path d="M729.0999999999999,206.1v-1.3a2.2,2.2 0 0 1 4.4,0v1.3" fill="none" stroke="#757575" stroke-width="1.3"/><rect x="730.8" y="207.6" width="1" height="1.7" fill="#ddd"/>
<rect x="732.0" y="138.5" width="5.5" height="8" fill="#f4f4f4" stroke="#e2e2e2" stroke-width="0.5"/>
<path d="M735.5,140.9l-1.8,1.6l1.8,1.6" fill="none" stroke="#5a5a5a" stroke-width="0.9"/>
<rect x="742" y="9.4" width="255" height="255.20000000000002" rx="1.5" fill="#fff" stroke="#e3e3e3" stroke-width="1.1"/>
<text x="745.0" y="6.7" font-size="5.1" fill="#5a5a5a" font-weight="normal" text-anchor="start" textLength="186.0" lengthAdjust="spacingAndGlyphs">SPDR S&amp;P 500 ETF - SPY (US) - Daily CandleStick Chart - USD - Price Returns - No Layout</text>
<clipPath id="c4_0"><rect x="742" y="9.4" width="217.29999999999995" height="128.1"/></clipPath>
<clipPath id="a4_0"><rect x="959.3" y="9.9" width="37.700000000000045" height="127.6"/></clipPath>
<clipPath id="c4_1"><rect x="742" y="137.5" width="217.29999999999995" height="63.5"/></clipPath>
<clipPath id="a4_1"><rect x="959.3" y="138.0" width="37.700000000000045" height="63.0"/></clipPath>
<clipPath id="c4_2"><rect x="742" y="201" width="217.29999999999995" height="63.60000000000002"/></clipPath>
<clipPath id="a4_2"><rect x="959.3" y="201.5" width="37.700000000000045" height="63.10000000000002"/></clipPath>
<g clip-path="url(#c4_0)">
<path d="M742.8,118.5L743.6,122.4L744.4,122.8M746.0,120.2L746.3,119.0L746.8,117.9L747.6,116.2L748.2,117.5M749.2,114.8L750.1,112.6L750.8,111.9L751.8,112.4M752.4,112.7L753.4,108.9L754.0,108.3M755.3,106.9L756.4,106.8L757.2,107.5M758.9,102.1L759.6,101.9L760.5,101.2M762.0,101.8L762.4,99.2L762.8,101.3L763.6,99.7L764.3,97.5M766.0,98.2L766.8,98.4L767.7,95.4M769.2,95.8L769.5,93.4L770.0,94.5L770.8,95.4L771.5,96.3M772.4,97.2L773.1,98.6L774.0,102.0M775.6,105.2L776.2,108.3L777.2,107.2M778.8,106.7L779.5,105.4L780.4,102.9M782.0,97.8L783.1,93.4L783.6,93.4L784.4,91.0M786.0,90.4L786.6,91.9L787.6,94.4M788.5,94.6L789.2,94.7L790.0,91.0M791.6,87.7L792.1,85.5L793.2,84.8M794.8,83.3L795.6,82.0L796.4,80.8L797.2,80.3M798.8,78.8L799.2,78.4L799.6,76.4L800.4,75.9L800.8,75.2M802.0,78.9L802.7,80.9L803.6,82.4M804.4,84.4L805.2,82.2L805.8,80.9L807.0,99.5M808.2,92.7L809.2,86.7L809.9,84.4L810.8,82.8M811.7,78.3L812.4,79.5L813.4,76.7M815.1,77.4L815.6,77.7L816.4,82.9L817.0,85.0M818.0,83.2L818.6,80.3L819.6,76.6M821.2,72.3L822.2,71.9L822.8,71.3M823.6,73.2L824.1,72.6L825.2,72.0L826.0,69.8M826.8,67.3L827.6,66.8L828.4,66.4M829.5,66.0L830.0,66.4L830.8,68.5L831.2,68.3L831.6,68.9M833.1,67.5L834.0,70.1L834.7,72.8M836.4,66.0L837.2,61.8L837.8,59.9L838.8,62.1M840.4,61.1L841.1,58.9L842.0,57.0L843.0,57.5M844.4,56.5L844.9,55.5L846.0,57.6M846.8,57.3L847.6,59.1L848.5,60.6M850.1,64.8L850.8,61.5L851.8,58.2M853.5,63.0L854.0,66.4L854.9,68.8L855.6,66.2M856.5,61.3L857.2,58.6L858.2,54.9L858.8,57.1M859.6,59.6L860.4,59.0L861.3,55.8M862.8,55.6L863.2,54.9L863.6,56.2L864.4,54.9L864.8,53.6M866.3,57.2L866.8,58.6L867.6,60.8M868.4,64.2L869.2,67.2L869.6,69.1L870.0,72.0M871.0,80.1L871.6,78.3L872.7,72.9L873.2,74.6M874.3,77.1L874.8,73.3L875.7,70.8M876.4,78.4L876.9,80.6L878.1,76.2M879.1,84.7L879.6,101.0L880.0,113.7L880.4,106.1L881.0,95.7L881.9,88.8M882.9,101.3L883.8,90.2L884.4,88.1L885.0,82.3M886.2,84.3L886.8,79.8L887.4,77.9L888.5,74.6M890.0,66.8L890.8,65.3L891.1,63.5L891.6,65.5L892.4,65.2M894.0,62.7L894.5,62.0L894.8,63.2L895.6,61.5M897.2,58.8L898.0,58.1L898.8,58.4L899.6,58.0M901.2,59.8L901.8,61.2L903.0,56.0L903.6,54.8M904.7,48.0L905.2,47.7L906.0,48.7M907.6,44.3L908.2,45.8L909.2,47.2L909.9,48.0M911.8,44.3L912.4,43.7L913.4,41.1L914.0,45.9M914.8,46.1L915.1,47.5L915.6,47.1L916.5,42.4M918.0,41.8L918.4,40.9L918.8,39.4L919.6,38.5M920.4,39.3L921.2,40.5L921.7,41.7L922.8,41.5M924.4,37.0L925.2,38.7L925.5,37.7L926.0,37.3L926.8,35.4M928.4,33.2L928.8,31.7L929.2,32.7L930.0,33.4L930.7,33.3M932.6,31.9L933.2,29.8L934.0,31.3L934.3,29.4M935.6,34.4L935.9,34.9L936.4,34.4L937.2,33.0L937.8,31.2L938.8,29.6M939.7,26.4L940.4,26.7L941.4,23.8M942.8,26.1L943.3,26.8L944.4,25.1L945.0,25.9M946.0,29.8L946.6,31.4L947.6,35.3L948.0,36.4L948.4,36.2M949.2,32.9L949.7,30.9L950.8,29.2L951.6,26.7M953.2,24.2L954.0,23.5L954.9,25.5" fill="none" stroke="#000" stroke-width="1.0" stroke-linejoin="miter"/>
<polyline points="742.8,118.5 743.6,122.4 744.4,122.8 744.7,122.7 745.2,122.5 746.0,120.2 746.3,119.0 746.8,117.9 747.6,116.2 748.2,117.5 749.2,114.8 750.1,112.6 750.8,111.9 751.8,112.4 752.4,112.7 753.4,108.9 754.0,108.3 754.8,107.7 755.3,106.9 756.4,106.8 757.2,107.5 758.0,105.3 758.9,102.1 759.6,101.9 760.5,101.2 761.2,101.5 762.0,101.8 762.4,99.2 762.8,101.3 763.6,99.7 764.3,97.5 765.2,96.5 766.0,98.2 766.8,98.4 767.7,95.4 768.4,93.9 769.2,95.8 769.5,93.4 770.0,94.5 770.8,95.4 771.5,96.3 772.4,97.2 773.1,98.6 774.0,102.0 774.8,103.5 775.6,105.2 776.2,108.3 777.2,107.2 777.9,104.0 778.8,106.7 779.5,105.4 780.4,102.9 781.4,100.1 782.0,97.8 783.1,93.4 783.6,93.4 784.4,91.0 785.0,90.9 786.0,90.4 786.6,91.9 787.6,94.4 788.5,94.6 789.2,94.7 790.0,91.0 790.4,89.8 790.8,89.2 791.6,87.7 792.1,85.5 793.2,84.8 793.7,84.1 794.8,83.3 795.6,82.0 796.4,80.8 797.2,80.3 797.5,78.9 798.0,78.5 798.8,78.8 799.2,78.4 799.6,76.4 800.4,75.9 800.8,75.2 801.2,75.9 802.0,78.9 802.7,80.9 803.6,82.4 804.4,84.4 805.2,82.2 805.8,80.9 807.0,99.5 807.6,94.1 808.2,92.7 809.2,86.7 809.9,84.4 810.8,82.8 811.7,78.3 812.4,79.5 813.4,76.7 814.0,77.4 815.1,77.4 815.6,77.7 816.4,82.9 817.0,85.0 818.0,83.2 818.6,80.3 819.6,76.6 820.5,73.3 821.2,72.3 822.2,71.9 822.8,71.3 823.6,73.2 824.1,72.6 825.2,72.0 826.0,69.8 826.8,67.3 827.6,66.8 828.4,66.4 829.2,64.7 829.5,66.0 830.0,66.4 830.8,68.5 831.2,68.3 831.6,68.9 832.4,67.6 833.1,67.5 834.0,70.1 834.7,72.8 835.6,69.3 836.4,66.0 837.2,61.8 837.8,59.9 838.8,62.1 839.5,63.2 840.4,61.1 841.1,58.9 842.0,57.0 843.0,57.5 843.6,56.6 844.4,56.5 844.9,55.5 846.0,57.6 846.8,57.3 847.6,59.1 848.5,60.6 849.2,62.6 850.1,64.8 850.8,61.5 851.8,58.2 852.4,60.7 853.5,63.0 854.0,66.4 854.9,68.8 855.6,66.2 856.5,61.3 857.2,58.6 858.2,54.9 858.8,57.1 859.6,59.6 860.4,59.0 861.3,55.8 862.0,55.2 862.8,55.6 863.2,54.9 863.6,56.2 864.4,54.9 864.8,53.6 865.2,55.4 866.3,57.2 866.8,58.6 867.6,60.8 867.9,61.6 868.4,64.2 869.2,67.2 869.6,69.1 870.0,72.0 871.0,80.1 871.6,78.3 872.7,72.9 873.2,74.6 874.0,75.7 874.3,77.1 874.8,73.3 875.7,70.8 876.4,78.4 876.9,80.6 878.1,76.2 879.1,84.7 879.6,101.0 880.0,113.7 880.4,106.1 881.0,95.7 881.9,88.8 882.9,101.3 883.8,90.2 884.4,88.1 885.0,82.3 886.2,84.3 886.8,79.8 887.4,77.9 888.5,74.6 889.2,71.3 890.0,66.8 890.8,65.3 891.1,63.5 891.6,65.5 892.4,65.2 892.8,66.3 893.2,65.7 894.0,62.7 894.5,62.0 894.8,63.2 895.6,61.5 896.4,59.4 897.2,58.8 898.0,58.1 898.8,58.4 899.6,58.0 899.9,58.4 900.4,56.2 901.2,59.8 901.8,61.2 903.0,56.0 903.6,54.8 904.7,48.0 905.2,47.7 906.0,48.7 906.5,46.8 907.6,44.3 908.2,45.8 909.2,47.2 909.9,48.0 910.8,46.4 911.8,44.3 912.4,43.7 913.4,41.1 914.0,45.9 914.8,46.1 915.1,47.5 915.6,47.1 916.5,42.4 917.2,43.4 918.0,41.8 918.4,40.9 918.8,39.4 919.6,38.5 920.1,38.3 920.4,39.3 921.2,40.5 921.7,41.7 922.8,41.5 923.6,39.2 924.4,37.0 925.2,38.7 925.5,37.7 926.0,37.3 926.8,35.4 927.2,34.8 927.6,35.1 928.4,33.2 928.8,31.7 929.2,32.7 930.0,33.4 930.7,33.3 931.6,32.1 932.6,31.9 933.2,29.8 934.0,31.3 934.3,29.4 934.8,31.8 935.6,34.4 935.9,34.9 936.4,34.4 937.2,33.0 937.8,31.2 938.8,29.6 939.7,26.4 940.4,26.7 941.4,23.8 942.0,25.2 942.8,26.1 943.3,26.8 944.4,25.1 945.0,25.9 946.0,29.8 946.6,31.4 947.6,35.3 948.0,36.4 948.4,36.2 949.2,32.9 949.7,30.9 950.8,29.2 951.6,26.7 952.4,25.1 953.2,24.2 954.0,23.5 954.9,25.5" fill="none" stroke="#000" stroke-width="0.25" stroke-linejoin="miter"/>
<path d="M742.77,117.95V120.40M743.57,121.77V123.22M744.67,122.11V124.52M745.97,118.66V121.23M746.33,118.28V120.48M746.77,116.54V118.78M748.22,116.98V118.48M749.17,114.03V115.65M750.77,110.00V113.31M751.78,111.71V115.68M752.37,111.52V113.64M753.97,107.49V109.13M754.77,106.16V108.92M755.33,105.90V107.84M756.37,105.82V107.78M757.97,104.05V106.78M758.89,100.77V102.66M759.57,100.91V103.03M761.17,101.04V103.31M761.97,100.63V102.92M763.57,99.03V100.71M765.17,95.36V97.75M766.00,96.84V98.74M766.77,97.50V99.84M767.66,93.12V96.99M768.37,93.17V95.35M769.55,91.47V93.81M770.77,94.67V97.19M771.45,94.67V97.30M773.11,97.46V100.61M775.57,104.07V107.13M776.19,107.79V108.96M777.17,105.78V108.34M777.85,103.09V104.83M778.77,105.18V107.35M780.37,101.66V104.23M781.97,97.21V98.34M783.06,92.53V95.52M783.57,92.83V94.38M784.37,90.55V91.49M784.96,90.43V92.67M785.97,88.24V90.96M786.62,91.41V94.10M787.57,93.41V95.11M788.52,93.23V95.09M789.17,92.99V95.47M789.97,90.26V93.62M793.73,83.64V85.91M794.77,81.28V85.42M795.63,81.52V82.50M796.37,79.25V81.38M797.97,76.56V79.16M798.77,76.76V80.17M799.18,77.75V78.95M799.57,74.44V77.60M800.37,74.89V76.68M800.84,71.54V75.96M801.97,77.65V79.33M802.74,79.13V82.76M805.17,81.17V83.52M807.00,98.22V100.75M809.17,85.52V87.44M810.77,81.93V84.55M811.74,77.53V79.96M813.40,74.00V77.60M813.97,76.47V79.07M815.06,76.11V78.70M817.97,82.54V85.29M818.62,79.59V81.12M820.51,72.55V75.18M821.17,69.60V74.36M822.77,70.52V72.58M823.57,71.72V75.66M825.17,70.67V73.95M825.96,68.36V70.72M826.77,66.46V68.25M827.62,65.59V68.89M829.17,64.14V66.86M829.52,64.72V66.98M831.57,67.77V70.70M832.37,65.19V70.10M833.08,66.29V69.36M833.97,69.60V70.81M835.57,68.73V70.14M837.17,60.70V63.02M837.82,57.28V61.85M838.77,59.35V63.28M841.13,58.45V60.47M844.93,54.10V59.67M845.97,56.65V58.42M847.57,58.43V61.94M848.48,59.84V61.84M849.17,61.96V63.48M850.77,60.20V62.05M851.80,57.63V58.64M853.97,65.92V67.30M855.57,65.06V67.85M858.77,56.47V57.89M859.62,57.12V61.02M861.28,54.28V56.60M862.77,54.28V56.02M863.18,52.86V56.09M863.57,55.76V57.01M866.26,56.56V58.03M868.37,62.10V64.95M869.17,66.67V68.60M869.58,68.58V71.17M871.57,77.52V79.14M874.32,75.10V78.92M876.92,79.35V82.59M879.57,100.01V101.94M880.01,113.00V114.67M880.37,105.52V106.97M881.90,87.10V90.25M883.80,89.74V90.67M884.37,86.89V89.08M884.98,81.73V83.64M886.17,83.27V84.80M886.77,77.10V81.91M890.77,63.70V66.55M891.15,61.23V64.35M892.37,63.65V65.84M892.81,63.99V67.93M894.46,60.67V62.42M896.36,57.98V60.57M897.17,57.71V61.13M898.77,56.93V60.29M899.92,56.75V59.23M900.37,55.41V58.64M901.17,59.28V60.52M901.81,60.17V62.10M903.00,54.82V58.07M904.66,46.41V48.50M905.17,45.62V48.27M905.97,47.17V50.24M906.55,46.36V48.98M908.21,44.01V46.20M909.17,46.75V49.70M909.87,47.09V48.91M915.09,46.65V48.40M917.97,40.79V43.30M918.77,38.29V40.42M919.57,36.45V40.11M920.06,36.86V38.94M921.17,38.78V41.16M921.72,41.09V42.86M923.62,38.71V39.94M924.37,35.92V37.51M925.51,37.01V38.19M927.57,34.41V36.46M928.37,31.29V34.04M929.17,30.99V33.06M932.63,31.21V32.29M933.17,28.90V31.13M935.57,31.98V35.14M936.37,33.54V36.47M937.17,32.19V33.85M937.84,28.25V32.66M938.77,27.67V31.13M939.74,25.41V27.57M940.37,24.93V27.98M941.40,23.06V24.31M943.29,26.31V29.13M945.97,28.44V30.67M947.57,34.30V37.35M949.17,32.47V33.44M949.69,29.77V32.33M950.77,26.73V30.58M951.59,24.64V27.80M952.37,24.08V26.16M953.25,21.30V25.71" stroke="#000" stroke-width="0.8" fill="none"/>
<polyline points="743.5,142.9 754.1,137.0 762.4,131.8 771.9,126.3 781.4,122.3 790.9,118.0 800.4,112.1 809.9,105.7 819.3,99.1 828.8,93.1 838.3,87.2 847.8,82.0 857.2,77.3 864.4,74.2 870.3,71.1 876.2,69.9 882.1,70.2 888.1,70.6 895.2,68.7 904.7,65.9 914.1,63.0 923.6,60.0 933.1,57.1 942.6,54.0 949.7,51.7 954.9,50.0" fill="none" stroke="#f62c2c" stroke-width="1.05" stroke-linejoin="round"/>
</g>
<text x="759.6" y="41.0" font-size="17.3" fill="#000" font-weight="bold" text-anchor="start" textLength="109.5" lengthAdjust="spacingAndGlyphs" stroke="#000" stroke-width="0.35">United States</text>
<g clip-path="url(#c4_1)">
<clipPath id="up4"><rect x="742" y="137.5" width="217.29999999999995" height="32.5"/></clipPath>
<clipPath id="dn4"><rect x="742" y="170" width="217.29999999999995" height="31"/></clipPath>
<g clip-path="url(#up4)"><polygon points="742.2,170.0 742.2,153.0 743.1,154.3 743.9,155.8 744.8,155.0 745.8,153.9 746.7,154.2 747.6,155.4 748.5,153.9 749.3,151.6 750.1,151.4 751.0,150.7 751.9,150.2 752.8,148.8 753.8,148.8 754.7,149.2 755.5,148.1 756.4,147.6 757.2,147.5 758.0,148.3 759.0,147.3 759.9,146.9 760.8,146.8 761.8,147.6 762.6,147.2 763.4,146.4 764.4,146.5 765.3,146.9 766.1,146.7 767.0,145.9 767.9,145.8 768.8,145.2 769.7,146.3 770.5,147.6 771.3,148.5 772.1,149.9 773.1,152.2 774.0,154.7 775.0,156.0 775.9,158.2 776.7,156.9 777.5,155.4 778.4,155.6 779.2,156.3 780.1,154.3 781.1,153.0 781.9,151.8 782.7,149.9 783.7,149.1 784.6,148.3 785.4,149.5 786.3,149.9 787.2,151.0 788.1,151.1 789.1,150.1 790.0,148.8 790.8,147.6 791.7,146.9 792.5,146.9 793.3,147.6 794.3,146.5 795.2,145.9 796.2,145.8 797.1,145.2 797.9,144.7 798.7,144.1 799.6,143.6 800.4,143.6 801.3,145.2 802.3,147.6 803.1,149.8 803.9,152.3 804.6,151.0 805.3,149.9 806.5,159.4 807.2,161.0 807.9,163.4 808.6,160.6 809.3,158.2 810.3,155.4 811.2,153.0 812.0,152.2 812.9,151.6 813.7,151.9 814.5,152.3 815.5,155.9 816.4,159.4 817.2,157.9 818.0,155.8 819.0,154.2 819.9,153.0 820.7,152.3 821.6,152.3 822.5,152.7 823.5,153.5 824.4,152.6 825.3,152.3 826.2,152.0 827.0,151.6 827.9,151.3 828.9,151.1 829.7,152.4 830.5,153.9 831.5,153.1 832.4,153.0 833.2,155.6 834.0,157.7 834.9,155.7 835.7,153.5 836.4,151.8 837.1,149.9 837.9,151.9 838.8,153.5 839.6,152.9 840.4,151.6 841.3,150.4 842.3,149.9 843.2,149.3 844.2,149.2 845.1,149.9 846.0,150.7 846.9,152.2 847.7,153.5 848.5,155.8 849.4,158.2 850.2,156.4 851.0,154.7 851.8,156.0 852.6,157.7 853.3,159.1 854.1,161.0 854.9,159.3 855.7,157.0 856.5,155.9 857.4,153.9 858.1,155.5 858.8,157.0 859.6,156.4 860.4,155.8 861.4,155.7 862.3,156.3 863.1,156.7 863.9,157.0 864.7,157.9 865.4,159.4 866.2,161.0 867.0,162.4 867.8,163.6 868.6,165.2 869.4,167.0 870.1,168.8 871.2,170.0 872.4,170.0 873.2,170.0 874.1,170.0 875.2,170.0 876.0,170.0 876.7,170.0 877.4,170.0 878.1,170.0 879.0,170.0 880.0,170.0 880.9,170.0 881.8,170.0 882.8,170.0 884.0,170.0 885.1,170.0 886.3,170.0 887.5,170.0 888.2,170.0 888.9,170.0 890.1,166.4 891.2,164.1 892.1,165.8 892.9,167.6 893.7,166.8 894.5,165.2 895.5,164.7 896.4,164.1 897.3,163.7 898.1,162.4 899.0,162.0 900.0,161.7 900.8,162.9 901.6,164.1 902.3,163.0 903.0,161.7 903.8,160.2 904.7,158.7 905.5,158.3 906.3,157.7 907.3,157.2 908.2,157.0 909.1,157.2 910.1,158.2 910.9,156.7 911.7,155.4 912.6,154.3 913.4,153.9 914.1,156.4 914.8,159.4 915.6,157.7 916.4,155.8 917.4,155.4 918.3,154.7 919.1,154.7 920.0,153.9 920.9,155.3 921.9,156.3 922.7,154.9 923.5,153.5 924.3,152.7 925.1,152.3 926.1,151.7 927.0,151.1 928.0,150.3 928.9,149.9 929.7,150.8 930.6,152.3 931.4,151.2 932.2,149.9 933.2,149.5 934.1,148.8 934.9,151.2 935.7,153.9 936.7,152.8 937.6,151.1 938.6,150.0 939.5,148.8 940.3,147.7 941.2,146.9 942.1,148.7 943.0,149.9 943.9,148.9 944.7,148.8 945.5,150.3 946.3,152.3 947.3,155.1 948.2,158.2 949.0,156.0 949.9,153.5 950.7,152.1 951.5,151.1 952.5,151.3 953.4,150.7 954.3,150.8 955.3,151.6 955.3,170.0" fill="url(#gg4)"/><polyline points="742.2,153.0 743.1,154.3 743.9,155.8 744.8,155.0 745.8,153.9 746.7,154.2 747.6,155.4 748.5,153.9 749.3,151.6 750.1,151.4 751.0,150.7 751.9,150.2 752.8,148.8 753.8,148.8 754.7,149.2 755.5,148.1 756.4,147.6 757.2,147.5 758.0,148.3 759.0,147.3 759.9,146.9 760.8,146.8 761.8,147.6 762.6,147.2 763.4,146.4 764.4,146.5 765.3,146.9 766.1,146.7 767.0,145.9 767.9,145.8 768.8,145.2 769.7,146.3 770.5,147.6 771.3,148.5 772.1,149.9 773.1,152.2 774.0,154.7 775.0,156.0 775.9,158.2 776.7,156.9 777.5,155.4 778.4,155.6 779.2,156.3 780.1,154.3 781.1,153.0 781.9,151.8 782.7,149.9 783.7,149.1 784.6,148.3 785.4,149.5 786.3,149.9 787.2,151.0 788.1,151.1 789.1,150.1 790.0,148.8 790.8,147.6 791.7,146.9 792.5,146.9 793.3,147.6 794.3,146.5 795.2,145.9 796.2,145.8 797.1,145.2 797.9,144.7 798.7,144.1 799.6,143.6 800.4,143.6 801.3,145.2 802.3,147.6 803.1,149.8 803.9,152.3 804.6,151.0 805.3,149.9 806.5,159.4 807.2,161.0 807.9,163.4 808.6,160.6 809.3,158.2 810.3,155.4 811.2,153.0 812.0,152.2 812.9,151.6 813.7,151.9 814.5,152.3 815.5,155.9 816.4,159.4 817.2,157.9 818.0,155.8 819.0,154.2 819.9,153.0 820.7,152.3 821.6,152.3 822.5,152.7 823.5,153.5 824.4,152.6 825.3,152.3 826.2,152.0 827.0,151.6 827.9,151.3 828.9,151.1 829.7,152.4 830.5,153.9 831.5,153.1 832.4,153.0 833.2,155.6 834.0,157.7 834.9,155.7 835.7,153.5 836.4,151.8 837.1,149.9 837.9,151.9 838.8,153.5 839.6,152.9 840.4,151.6 841.3,150.4 842.3,149.9 843.2,149.3 844.2,149.2 845.1,149.9 846.0,150.7 846.9,152.2 847.7,153.5 848.5,155.8 849.4,158.2 850.2,156.4 851.0,154.7 851.8,156.0 852.6,157.7 853.3,159.1 854.1,161.0 854.9,159.3 855.7,157.0 856.5,155.9 857.4,153.9 858.1,155.5 858.8,157.0 859.6,156.4 860.4,155.8 861.4,155.7 862.3,156.3 863.1,156.7 863.9,157.0 864.7,157.9 865.4,159.4 866.2,161.0 867.0,162.4 867.8,163.6 868.6,165.2 869.4,167.0 870.1,168.8 871.2,171.1 872.4,175.8 873.2,174.4 874.1,172.3 875.2,170.0 876.0,171.2 876.7,172.8 877.4,173.8 878.1,174.7 879.0,184.1 880.0,193.5 880.9,185.3 881.8,180.6 882.8,187.6 884.0,182.9 885.1,178.2 886.3,173.5 887.5,175.8 888.2,173.3 888.9,171.1 890.1,166.4 891.2,164.1 892.1,165.8 892.9,167.6 893.7,166.8 894.5,165.2 895.5,164.7 896.4,164.1 897.3,163.7 898.1,162.4 899.0,162.0 900.0,161.7 900.8,162.9 901.6,164.1 902.3,163.0 903.0,161.7 903.8,160.2 904.7,158.7 905.5,158.3 906.3,157.7 907.3,157.2 908.2,157.0 909.1,157.2 910.1,158.2 910.9,156.7 911.7,155.4 912.6,154.3 913.4,153.9 914.1,156.4 914.8,159.4 915.6,157.7 916.4,155.8 917.4,155.4 918.3,154.7 919.1,154.7 920.0,153.9 920.9,155.3 921.9,156.3 922.7,154.9 923.5,153.5 924.3,152.7 925.1,152.3 926.1,151.7 927.0,151.1 928.0,150.3 928.9,149.9 929.7,150.8 930.6,152.3 931.4,151.2 932.2,149.9 933.2,149.5 934.1,148.8 934.9,151.2 935.7,153.9 936.7,152.8 937.6,151.1 938.6,150.0 939.5,148.8 940.3,147.7 941.2,146.9 942.1,148.7 943.0,149.9 943.9,148.9 944.7,148.8 945.5,150.3 946.3,152.3 947.3,155.1 948.2,158.2 949.0,156.0 949.9,153.5 950.7,152.1 951.5,151.1 952.5,151.3 953.4,150.7 954.3,150.8 955.3,151.6" fill="none" stroke="#0f870f" stroke-width="1.15" stroke-linejoin="round"/></g>
<g clip-path="url(#dn4)"><polygon points="742.2,170.0 742.2,170.0 743.1,170.0 743.9,170.0 744.8,170.0 745.8,170.0 746.7,170.0 747.6,170.0 748.5,170.0 749.3,170.0 750.1,170.0 751.0,170.0 751.9,170.0 752.8,170.0 753.8,170.0 754.7,170.0 755.5,170.0 756.4,170.0 757.2,170.0 758.0,170.0 759.0,170.0 759.9,170.0 760.8,170.0 761.8,170.0 762.6,170.0 763.4,170.0 764.4,170.0 765.3,170.0 766.1,170.0 767.0,170.0 767.9,170.0 768.8,170.0 769.7,170.0 770.5,170.0 771.3,170.0 772.1,170.0 773.1,170.0 774.0,170.0 775.0,170.0 775.9,170.0 776.7,170.0 777.5,170.0 778.4,170.0 779.2,170.0 780.1,170.0 781.1,170.0 781.9,170.0 782.7,170.0 783.7,170.0 784.6,170.0 785.4,170.0 786.3,170.0 787.2,170.0 788.1,170.0 789.1,170.0 790.0,170.0 790.8,170.0 791.7,170.0 792.5,170.0 793.3,170.0 794.3,170.0 795.2,170.0 796.2,170.0 797.1,170.0 797.9,170.0 798.7,170.0 799.6,170.0 800.4,170.0 801.3,170.0 802.3,170.0 803.1,170.0 803.9,170.0 804.6,170.0 805.3,170.0 806.5,170.0 807.2,170.0 807.9,170.0 808.6,170.0 809.3,170.0 810.3,170.0 811.2,170.0 812.0,170.0 812.9,170.0 813.7,170.0 814.5,170.0 815.5,170.0 816.4,170.0 817.2,170.0 818.0,170.0 819.0,170.0 819.9,170.0 820.7,170.0 821.6,170.0 822.5,170.0 823.5,170.0 824.4,170.0 825.3,170.0 826.2,170.0 827.0,170.0 827.9,170.0 828.9,170.0 829.7,170.0 830.5,170.0 831.5,170.0 832.4,170.0 833.2,170.0 834.0,170.0 834.9,170.0 835.7,170.0 836.4,170.0 837.1,170.0 837.9,170.0 838.8,170.0 839.6,170.0 840.4,170.0 841.3,170.0 842.3,170.0 843.2,170.0 844.2,170.0 845.1,170.0 846.0,170.0 846.9,170.0 847.7,170.0 848.5,170.0 849.4,170.0 850.2,170.0 851.0,170.0 851.8,170.0 852.6,170.0 853.3,170.0 854.1,170.0 854.9,170.0 855.7,170.0 856.5,170.0 857.4,170.0 858.1,170.0 858.8,170.0 859.6,170.0 860.4,170.0 861.4,170.0 862.3,170.0 863.1,170.0 863.9,170.0 864.7,170.0 865.4,170.0 866.2,170.0 867.0,170.0 867.8,170.0 868.6,170.0 869.4,170.0 870.1,170.0 871.2,171.1 872.4,175.8 873.2,174.4 874.1,172.3 875.2,170.0 876.0,171.2 876.7,172.8 877.4,173.8 878.1,174.7 879.0,184.1 880.0,193.5 880.9,185.3 881.8,180.6 882.8,187.6 884.0,182.9 885.1,178.2 886.3,173.5 887.5,175.8 888.2,173.3 888.9,171.1 890.1,170.0 891.2,170.0 892.1,170.0 892.9,170.0 893.7,170.0 894.5,170.0 895.5,170.0 896.4,170.0 897.3,170.0 898.1,170.0 899.0,170.0 900.0,170.0 900.8,170.0 901.6,170.0 902.3,170.0 903.0,170.0 903.8,170.0 904.7,170.0 905.5,170.0 906.3,170.0 907.3,170.0 908.2,170.0 909.1,170.0 910.1,170.0 910.9,170.0 911.7,170.0 912.6,170.0 913.4,170.0 914.1,170.0 914.8,170.0 915.6,170.0 916.4,170.0 917.4,170.0 918.3,170.0 919.1,170.0 920.0,170.0 920.9,170.0 921.9,170.0 922.7,170.0 923.5,170.0 924.3,170.0 925.1,170.0 926.1,170.0 927.0,170.0 928.0,170.0 928.9,170.0 929.7,170.0 930.6,170.0 931.4,170.0 932.2,170.0 933.2,170.0 934.1,170.0 934.9,170.0 935.7,170.0 936.7,170.0 937.6,170.0 938.6,170.0 939.5,170.0 940.3,170.0 941.2,170.0 942.1,170.0 943.0,170.0 943.9,170.0 944.7,170.0 945.5,170.0 946.3,170.0 947.3,170.0 948.2,170.0 949.0,170.0 949.9,170.0 950.7,170.0 951.5,170.0 952.5,170.0 953.4,170.0 954.3,170.0 955.3,170.0 955.3,170.0" fill="url(#gr4)"/><polyline points="742.2,153.0 743.1,154.3 743.9,155.8 744.8,155.0 745.8,153.9 746.7,154.2 747.6,155.4 748.5,153.9 749.3,151.6 750.1,151.4 751.0,150.7 751.9,150.2 752.8,148.8 753.8,148.8 754.7,149.2 755.5,148.1 756.4,147.6 757.2,147.5 758.0,148.3 759.0,147.3 759.9,146.9 760.8,146.8 761.8,147.6 762.6,147.2 763.4,146.4 764.4,146.5 765.3,146.9 766.1,146.7 767.0,145.9 767.9,145.8 768.8,145.2 769.7,146.3 770.5,147.6 771.3,148.5 772.1,149.9 773.1,152.2 774.0,154.7 775.0,156.0 775.9,158.2 776.7,156.9 777.5,155.4 778.4,155.6 779.2,156.3 780.1,154.3 781.1,153.0 781.9,151.8 782.7,149.9 783.7,149.1 784.6,148.3 785.4,149.5 786.3,149.9 787.2,151.0 788.1,151.1 789.1,150.1 790.0,148.8 790.8,147.6 791.7,146.9 792.5,146.9 793.3,147.6 794.3,146.5 795.2,145.9 796.2,145.8 797.1,145.2 797.9,144.7 798.7,144.1 799.6,143.6 800.4,143.6 801.3,145.2 802.3,147.6 803.1,149.8 803.9,152.3 804.6,151.0 805.3,149.9 806.5,159.4 807.2,161.0 807.9,163.4 808.6,160.6 809.3,158.2 810.3,155.4 811.2,153.0 812.0,152.2 812.9,151.6 813.7,151.9 814.5,152.3 815.5,155.9 816.4,159.4 817.2,157.9 818.0,155.8 819.0,154.2 819.9,153.0 820.7,152.3 821.6,152.3 822.5,152.7 823.5,153.5 824.4,152.6 825.3,152.3 826.2,152.0 827.0,151.6 827.9,151.3 828.9,151.1 829.7,152.4 830.5,153.9 831.5,153.1 832.4,153.0 833.2,155.6 834.0,157.7 834.9,155.7 835.7,153.5 836.4,151.8 837.1,149.9 837.9,151.9 838.8,153.5 839.6,152.9 840.4,151.6 841.3,150.4 842.3,149.9 843.2,149.3 844.2,149.2 845.1,149.9 846.0,150.7 846.9,152.2 847.7,153.5 848.5,155.8 849.4,158.2 850.2,156.4 851.0,154.7 851.8,156.0 852.6,157.7 853.3,159.1 854.1,161.0 854.9,159.3 855.7,157.0 856.5,155.9 857.4,153.9 858.1,155.5 858.8,157.0 859.6,156.4 860.4,155.8 861.4,155.7 862.3,156.3 863.1,156.7 863.9,157.0 864.7,157.9 865.4,159.4 866.2,161.0 867.0,162.4 867.8,163.6 868.6,165.2 869.4,167.0 870.1,168.8 871.2,171.1 872.4,175.8 873.2,174.4 874.1,172.3 875.2,170.0 876.0,171.2 876.7,172.8 877.4,173.8 878.1,174.7 879.0,184.1 880.0,193.5 880.9,185.3 881.8,180.6 882.8,187.6 884.0,182.9 885.1,178.2 886.3,173.5 887.5,175.8 888.2,173.3 888.9,171.1 890.1,166.4 891.2,164.1 892.1,165.8 892.9,167.6 893.7,166.8 894.5,165.2 895.5,164.7 896.4,164.1 897.3,163.7 898.1,162.4 899.0,162.0 900.0,161.7 900.8,162.9 901.6,164.1 902.3,163.0 903.0,161.7 903.8,160.2 904.7,158.7 905.5,158.3 906.3,157.7 907.3,157.2 908.2,157.0 909.1,157.2 910.1,158.2 910.9,156.7 911.7,155.4 912.6,154.3 913.4,153.9 914.1,156.4 914.8,159.4 915.6,157.7 916.4,155.8 917.4,155.4 918.3,154.7 919.1,154.7 920.0,153.9 920.9,155.3 921.9,156.3 922.7,154.9 923.5,153.5 924.3,152.7 925.1,152.3 926.1,151.7 927.0,151.1 928.0,150.3 928.9,149.9 929.7,150.8 930.6,152.3 931.4,151.2 932.2,149.9 933.2,149.5 934.1,148.8 934.9,151.2 935.7,153.9 936.7,152.8 937.6,151.1 938.6,150.0 939.5,148.8 940.3,147.7 941.2,146.9 942.1,148.7 943.0,149.9 943.9,148.9 944.7,148.8 945.5,150.3 946.3,152.3 947.3,155.1 948.2,158.2 949.0,156.0 949.9,153.5 950.7,152.1 951.5,151.1 952.5,151.3 953.4,150.7 954.3,150.8 955.3,151.6" fill="none" stroke="#f22" stroke-width="1.1" stroke-linejoin="round"/></g>
</g>
<g clip-path="url(#c4_2)">
<polygon points="742.2,258.9 871.7,217.0 871.7,266.6 742.2,266.6" fill="url(#gk4)"/>
<polygon points="890.7,264.6 955.3,242.9 955.3,266.6 890.7,266.6" fill="url(#gk4)"/>
</g>
<linearGradient id="gg4" gradientUnits="userSpaceOnUse" x1="0" y1="141.5" x2="0" y2="170"><stop offset="0" stop-color="#bfe0bf"/><stop offset="1" stop-color="#88c388"/></linearGradient>
<linearGradient id="gr4" gradientUnits="userSpaceOnUse" x1="0" y1="170" x2="0" y2="195"><stop offset="0" stop-color="#ff8080"/><stop offset="1" stop-color="#ffc4c4"/></linearGradient>
<linearGradient id="gk4" gradientUnits="userSpaceOnUse" x1="0" y1="201" x2="0" y2="264.6"><stop offset="0" stop-color="#8c8c8c"/><stop offset="0.25" stop-color="#686868"/><stop offset="0.62" stop-color="#2b2b2b"/><stop offset="0.86" stop-color="#0c0c0c"/><stop offset="1" stop-color="#000"/></linearGradient>
<text x="748.6" y="194.7" font-size="6.5" fill="#000" font-weight="bold" text-anchor="start">Percentage Above 200-Day MA</text>
<text x="747.7" y="216.5" font-size="6.5" fill="#000" font-weight="bold" text-anchor="start">Number of Days Above 200-Day MA</text>
<path d="M742,137.5H997M742,201H997" stroke="#e3e3e3" stroke-width="1" fill="none"/>
<path d="M959.3,9.4V264.6" stroke="#d2d2d2" stroke-width="1" fill="none"/>
<g clip-path="url(#a4_0)">
<path d="M959.3,24h2.5" stroke="#888" stroke-width="1"/>
<text x="962.8" y="28.3" font-size="12" fill="#333" font-weight="normal" text-anchor="start"></text>
<path d="M959.3,40h2.5" stroke="#888" stroke-width="1"/>
<text x="962.8" y="44.3" font-size="12" fill="#333" font-weight="normal" text-anchor="start"></text>
<path d="M959.3,56h2.5" stroke="#888" stroke-width="1"/>
<text x="962.8" y="60.3" font-size="12" fill="#333" font-weight="normal" text-anchor="start"></text>
<path d="M959.3,71h2.5" stroke="#888" stroke-width="1"/>
<text x="962.8" y="75.3" font-size="12" fill="#333" font-weight="normal" text-anchor="start"></text>
<path d="M959.3,86h2.5" stroke="#888" stroke-width="1"/>
<text x="962.8" y="90.3" font-size="12" fill="#333" font-weight="normal" text-anchor="start"></text>
<path d="M959.3,102h2.5" stroke="#888" stroke-width="1"/>
<text x="962.8" y="106.3" font-size="12" fill="#333" font-weight="normal" text-anchor="start"></text>
<path d="M959.3,117h2.5" stroke="#888" stroke-width="1"/>
<text x="962.8" y="121.3" font-size="12" fill="#333" font-weight="normal" text-anchor="start"></text>
<path d="M959.3,132h2.5" stroke="#888" stroke-width="1"/>
<text x="962.8" y="136.3" font-size="12" fill="#333" font-weight="normal" text-anchor="start"></text>
</g>
<g clip-path="url(#a4_1)">
<path d="M959.3,152h2.5" stroke="#888" stroke-width="1"/>
<text x="962.8" y="156.3" font-size="12" fill="#333" font-weight="normal" text-anchor="start"></text>
<path d="M959.3,170h2.5" stroke="#888" stroke-width="1"/>
<text x="962.8" y="174.3" font-size="12" fill="#333" font-weight="normal" text-anchor="start"></text>
<path d="M959.3,188h2.5" stroke="#888" stroke-width="1"/>
<text x="962.8" y="192.3" font-size="12" fill="#333" font-weight="normal" text-anchor="start"></text>
</g>
<g clip-path="url(#a4_2)">
<path d="M959.3,212h2.5" stroke="#888" stroke-width="1"/>
<text x="962.8" y="216.3" font-size="12" fill="#333" font-weight="normal" text-anchor="start"></text>
<path d="M959.3,229h2.5" stroke="#888" stroke-width="1"/>
<text x="962.8" y="233.3" font-size="12" fill="#333" font-weight="normal" text-anchor="start"></text>
<path d="M959.3,240h2.5" stroke="#888" stroke-width="1"/>
<text x="962.8" y="244.3" font-size="12" fill="#333" font-weight="normal" text-anchor="start"></text>
<path d="M959.3,250h2.5" stroke="#888" stroke-width="1"/>
<text x="962.8" y="254.3" font-size="12" fill="#333" font-weight="normal" text-anchor="start"></text>
</g>
<rect x="985.4" y="201.5" width="10.8" height="10.8" fill="#f3f3f3" stroke="#e4e4e4" stroke-width="0.5"/>
<rect x="987.0" y="206.0" width="7.6" height="4.8" rx="0.7" fill="#757575"/><path d="M988.5999999999999,206.1v-1.3a2.2,2.2 0 0 1 4.4,0v1.3" fill="none" stroke="#757575" stroke-width="1.3"/><rect x="990.3" y="207.6" width="1" height="1.7" fill="#ddd"/>
<rect x="991.5" y="138.5" width="5.5" height="8" fill="#f4f4f4" stroke="#e2e2e2" stroke-width="0.5"/>
<path d="M995,140.9l-1.8,1.6l1.8,1.6" fill="none" stroke="#5a5a5a" stroke-width="0.9"/>
<rect x="-37.5" y="275.1" width="255.0" height="260.9" rx="1.5" fill="#fff" stroke="#e3e3e3" stroke-width="1.1"/>
<text x="-34.0" y="272.0" font-size="5.1" fill="#5a5a5a" font-weight="normal" text-anchor="start" textLength="141.6" lengthAdjust="spacingAndGlyphs">EEM:US - Daily CandleStick Chart - USD - Price Returns - No Layout</text>
<clipPath id="c5_0"><rect x="-37.5" y="275.1" width="217.0" height="122.09999999999997"/></clipPath>
<clipPath id="a5_0"><rect x="179.5" y="275.6" width="38.0" height="121.59999999999997"/></clipPath>
<clipPath id="c5_1"><rect x="-37.5" y="397.2" width="217.0" height="61.19999999999999"/></clipPath>
<clipPath id="a5_1"><rect x="179.5" y="397.7" width="38.0" height="60.69999999999999"/></clipPath>
<clipPath id="c5_2"><rect x="-37.5" y="458.4" width="217.0" height="61.89999999999998"/></clipPath>
<clipPath id="a5_2"><rect x="179.5" y="458.9" width="38.0" height="61.39999999999998"/></clipPath>
<g clip-path="url(#c5_0)">
<path d="M-2.3,365.5L-1.5,364.2L-0.7,362.2M0.9,359.4L1.8,355.8L2.5,352.2M4.1,347.9L5.0,348.1L5.7,351.7L6.8,353.2M8.1,359.1L8.6,360.1L8.9,360.5L9.7,359.6L10.2,359.3M11.3,356.3L11.8,355.5L12.1,354.8L12.9,354.2L13.6,354.1M15.4,352.7L16.1,351.6L16.9,350.1L17.7,346.6M19.3,345.6L20.3,344.8L20.9,344.1M22.5,347.0L23.3,349.6L24.1,351.9L24.9,355.9M26.7,358.0L27.3,364.7L28.0,372.1M29.4,358.4L29.7,358.3L30.5,354.3M32.1,350.9L32.8,348.7L33.7,349.7M35.3,351.7L36.1,355.0L36.9,357.8M38.0,358.6L38.5,357.3L39.5,353.9M41.1,348.5L41.7,348.5L42.5,345.3L42.9,342.6L43.3,340.0M44.3,334.8L44.9,332.2L45.9,329.2L46.5,331.3M47.5,334.9L48.1,335.6L48.9,337.4L49.2,336.4M50.5,338.3L50.8,337.7L51.3,337.5L52.4,336.5L52.9,337.0M54.2,341.3L54.5,341.5L55.3,341.1L56.0,339.9M57.2,345.4L57.7,347.4L58.7,352.2L59.3,349.6L60.1,350.1M61.7,348.3L62.1,347.6L62.5,350.3L63.3,348.8M64.9,345.0L65.5,345.1L66.7,340.8M67.8,347.7L68.1,349.3L68.9,352.4L69.4,355.2L69.7,357.0L70.5,359.6M72.1,357.1L72.8,356.9L73.7,359.4L74.6,362.2M76.1,357.5L76.9,356.2L78.0,353.9L78.5,356.0M80.1,354.2L80.9,353.5L81.3,352.2L81.7,349.8L82.5,349.3M84.1,346.2L84.7,345.2L85.7,343.9L86.3,342.9M87.7,340.7L88.1,341.7L88.9,346.3L89.2,346.7M90.4,351.6L91.3,347.0L92.0,343.7L92.9,339.8M94.5,342.0L95.3,343.1L96.1,342.5L96.7,341.0M97.7,344.8L98.3,347.9L99.4,350.1L100.1,364.3M101.7,366.2L102.8,360.9L103.3,359.1M104.9,354.8L105.3,352.6L105.7,349.8L106.6,347.9M108.0,342.6L108.9,339.6L109.6,337.6M110.5,337.0L111.2,336.4L112.1,336.7L113.0,334.7M114.8,335.8L115.3,337.0L116.4,338.9M117.9,332.6L118.5,331.6L119.3,328.8L119.8,329.4L120.1,330.1M121.5,329.9L122.5,331.6L123.1,334.0L124.1,331.1M125.7,325.4L126.5,324.2L127.3,323.3L128.3,323.4M129.9,321.4L130.5,319.8L131.5,317.8L132.1,318.7M133.3,320.6L133.7,321.8L134.5,324.5L135.1,324.5L136.1,321.4M137.7,318.6L138.3,316.2L139.3,315.3M140.9,316.4L141.9,316.6L142.5,316.9M143.5,318.7L144.1,315.4L145.1,310.8L145.7,307.3L146.5,306.6M147.3,302.7L148.1,300.3L148.4,299.7L148.9,298.5M150.2,302.1L151.3,299.5L151.8,298.2M152.9,294.6L153.6,294.7L154.5,298.3L155.4,304.5M157.0,299.1L157.7,296.5L158.6,294.1L159.3,294.0M160.9,291.6L161.8,288.5L162.5,291.2L163.3,293.0M164.9,295.1L165.7,292.9L166.5,290.5L167.3,294.5M168.1,298.4L168.9,300.9L169.4,301.7L170.5,298.0M172.4,294.7L172.9,293.5L174.0,293.2" fill="none" stroke="#000" stroke-width="1.0" stroke-linejoin="miter"/>
<polyline points="-2.3,365.5 -1.5,364.2 -0.7,362.2 0.0,361.7 0.9,359.4 1.8,355.8 2.5,352.2 3.4,350.9 4.1,347.9 5.0,348.1 5.7,351.7 6.8,353.2 7.3,355.4 8.1,359.1 8.6,360.1 8.9,360.5 9.7,359.6 10.2,359.3 10.5,357.2 11.3,356.3 11.8,355.5 12.1,354.8 12.9,354.2 13.6,354.1 14.5,354.3 15.4,352.7 16.1,351.6 16.9,350.1 17.7,346.6 18.5,347.4 19.3,345.6 20.3,344.8 20.9,344.1 21.7,343.4 22.5,347.0 23.3,349.6 24.1,351.9 24.9,355.9 25.7,357.3 26.7,358.0 27.3,364.7 28.0,372.1 28.9,363.8 29.4,358.4 29.7,358.3 30.5,354.3 31.2,354.0 32.1,350.9 32.8,348.7 33.7,349.7 34.3,348.6 35.3,351.7 36.1,355.0 36.9,357.8 38.0,358.6 38.5,357.3 39.5,353.9 40.1,351.9 41.1,348.5 41.7,348.5 42.5,345.3 42.9,342.6 43.3,340.0 44.3,334.8 44.9,332.2 45.9,329.2 46.5,331.3 47.5,334.9 48.1,335.6 48.9,337.4 49.2,336.4 49.7,338.0 50.5,338.3 50.8,337.7 51.3,337.5 52.4,336.5 52.9,337.0 53.7,340.0 54.2,341.3 54.5,341.5 55.3,341.1 56.0,339.9 57.2,345.4 57.7,347.4 58.7,352.2 59.3,349.6 60.1,350.1 60.5,349.5 60.9,349.1 61.7,348.3 62.1,347.6 62.5,350.3 63.3,348.8 63.7,347.9 64.1,345.8 64.9,345.0 65.5,345.1 66.7,340.8 67.3,344.3 67.8,347.7 68.1,349.3 68.9,352.4 69.4,355.2 69.7,357.0 70.5,359.6 71.2,358.5 72.1,357.1 72.8,356.9 73.7,359.4 74.6,362.2 75.3,360.7 76.1,357.5 76.9,356.2 78.0,353.9 78.5,356.0 79.5,355.2 80.1,354.2 80.9,353.5 81.3,352.2 81.7,349.8 82.5,349.3 83.2,349.1 84.1,346.2 84.7,345.2 85.7,343.9 86.3,342.9 87.3,342.0 87.7,340.7 88.1,341.7 88.9,346.3 89.2,346.7 89.7,349.3 90.4,351.6 91.3,347.0 92.0,343.7 92.9,339.8 93.8,340.4 94.5,342.0 95.3,343.1 96.1,342.5 96.7,341.0 97.7,344.8 98.3,347.9 99.4,350.1 100.1,364.3 100.8,378.7 101.7,366.2 102.8,360.9 103.3,359.1 103.9,356.5 104.9,354.8 105.3,352.6 105.7,349.8 106.6,347.9 107.3,345.2 108.0,342.6 108.9,339.6 109.6,337.6 110.5,337.0 111.2,336.4 112.1,336.7 113.0,334.7 113.7,336.0 114.8,335.8 115.3,337.0 116.4,338.9 116.9,336.0 117.9,332.6 118.5,331.6 119.3,328.8 119.8,329.4 120.1,330.1 120.9,328.6 121.5,329.9 122.5,331.6 123.1,334.0 124.1,331.1 124.7,328.0 125.7,325.4 126.5,324.2 127.3,323.3 128.3,323.4 128.9,321.4 129.9,321.4 130.5,319.8 131.5,317.8 132.1,318.7 132.9,320.9 133.3,320.6 133.7,321.8 134.5,324.5 135.1,324.5 136.1,321.4 136.7,319.3 137.7,318.6 138.3,316.2 139.3,315.3 140.1,315.1 140.9,316.4 141.9,316.6 142.5,316.9 143.5,318.7 144.1,315.4 145.1,310.8 145.7,307.3 146.5,306.6 146.9,303.6 147.3,302.7 148.1,300.3 148.4,299.7 148.9,298.5 149.7,301.8 150.2,302.1 151.3,299.5 151.8,298.2 152.1,297.3 152.9,294.6 153.6,294.7 154.5,298.3 155.4,304.5 156.1,303.7 157.0,299.1 157.7,296.5 158.6,294.1 159.3,294.0 160.4,292.1 160.9,291.6 161.8,288.5 162.5,291.2 163.3,293.0 164.1,292.4 164.9,295.1 165.7,292.9 166.5,290.5 167.3,294.5 168.1,298.4 168.9,300.9 169.4,301.7 170.5,298.0 171.0,296.7 171.3,295.5 172.4,294.7 172.9,293.5 174.0,293.2 174.5,293.6 175.1,294.9" fill="none" stroke="#000" stroke-width="0.25" stroke-linejoin="miter"/>
<path d="M-2.26,364.49V366.13M-1.46,362.17V364.87M1.81,354.92V357.51M2.54,351.42V354.69M4.14,346.35V348.30M4.97,346.37V349.13M5.74,350.10V352.19M6.78,351.23V355.01M7.34,353.42V356.82M8.14,357.94V359.80M8.59,358.46V361.65M8.94,358.45V361.20M10.17,358.83V360.80M11.34,355.65V358.54M11.75,354.28V356.05M14.54,353.30V355.44M15.36,351.24V353.25M16.14,350.22V353.66M16.95,349.51V350.79M18.53,345.03V349.52M19.34,343.67V346.30M20.33,344.36V346.11M22.54,346.43V348.19M23.27,348.47V350.03M24.14,350.54V352.62M24.85,354.93V357.08M25.74,356.85V357.75M27.34,363.99V366.37M29.74,356.95V359.99M30.54,353.19V355.69M31.18,352.98V354.95M36.15,353.65V355.72M36.94,356.25V358.78M38.54,355.70V357.69M39.54,352.06V355.57M40.14,351.22V352.75M41.12,345.82V351.02M44.28,334.16V335.30M44.94,331.02V333.03M45.87,328.31V330.82M46.54,329.95V331.95M47.45,334.34V335.91M48.14,332.86V336.53M48.94,335.66V338.31M49.74,336.38V339.61M50.54,336.18V339.39M50.84,337.30V339.01M52.42,336.00V337.44M53.74,339.17V340.98M54.54,340.44V342.24M55.34,339.92V341.86M57.16,344.02V346.07M57.74,346.19V349.15M58.74,349.74V352.79M59.34,348.48V350.76M60.55,348.88V350.44M60.94,348.64V349.89M61.74,345.24V349.00M62.13,345.54V348.94M62.54,349.63V350.91M63.34,347.63V350.81M63.71,346.69V348.48M64.14,344.41V348.49M64.94,343.87V345.70M65.52,344.00V347.61M66.65,339.50V342.29M68.14,348.02V350.37M69.74,356.54V357.74M72.75,354.98V358.08M73.74,358.98V360.50M75.34,360.04V362.49M76.14,355.19V358.74M80.14,353.50V356.47M80.94,353.09V355.17M81.34,351.33V353.10M82.54,348.40V349.84M83.15,348.09V349.71M84.14,345.61V347.59M84.73,344.31V346.92M85.74,341.93V344.59M86.31,342.42V344.22M87.34,340.31V343.08M87.66,338.76V342.28M88.94,345.54V346.72M89.25,343.41V347.55M89.74,348.56V350.18M91.34,346.40V348.30M91.96,342.43V344.86M95.35,341.46V343.98M96.70,340.16V342.25M100.77,377.69V381.31M102.80,359.89V362.40M103.34,357.81V361.69M107.34,344.55V346.93M108.00,341.80V343.10M108.94,338.33V340.60M111.16,335.06V336.93M112.97,333.83V335.42M113.74,334.49V337.89M114.78,333.71V337.67M116.36,337.38V339.44M116.94,333.70V336.63M117.94,331.88V333.21M119.34,327.32V330.67M123.14,333.36V334.79M124.14,329.17V333.02M124.72,326.77V330.54M125.74,324.66V326.06M130.54,317.99V320.99M131.50,316.20V318.44M132.14,316.86V319.61M132.94,318.62V321.51M136.14,320.11V322.55M136.69,318.58V320.32M138.27,315.39V316.63M140.08,313.85V315.97M141.89,315.91V318.41M144.14,313.85V317.19M145.05,309.83V311.86M145.74,306.28V308.08M146.54,305.27V307.64M147.34,301.58V304.67M148.14,298.59V301.35M148.44,298.88V301.07M150.25,299.71V303.51M151.83,296.15V299.24M153.64,294.05V297.57M154.54,296.95V298.81M157.03,298.27V299.72M158.61,292.70V294.68M160.42,290.36V292.69M162.54,290.79V292.74M163.35,291.29V293.59M164.14,291.73V292.80M164.93,294.43V295.92M165.74,291.34V294.41M166.52,289.94V292.15M167.34,292.83V295.48M168.10,297.61V300.00M168.94,300.49V302.65M169.45,301.01V303.28M170.54,297.18V300.53M171.34,294.45V298.44M172.39,293.52V296.09M172.94,292.13V294.91M174.54,292.24V295.20" stroke="#000" stroke-width="0.8" fill="none"/>
<polyline points="-2.3,372.8 0.0,372.6 6.8,371.7 13.6,369.9 20.3,367.6 27.1,364.9 33.9,362.0 40.7,359.7 47.5,356.8 54.2,354.1 61.0,352.5 67.8,351.4 74.6,350.9 81.3,350.5 88.1,349.6 94.9,348.7 101.7,348.4 108.5,347.8 115.2,346.4 122.0,345.0 128.8,343.5 135.6,342.1 142.3,340.5 149.1,337.8 155.9,334.2 162.7,329.2 169.4,324.2 175.1,320.2" fill="none" stroke="#f62c2c" stroke-width="1.05" stroke-linejoin="round"/>
</g>
<text x="127.2" y="305.7" font-size="17.3" fill="#000" font-weight="bold" text-anchor="end" textLength="148.4" lengthAdjust="spacingAndGlyphs" stroke="#000" stroke-width="0.35">Emerging Markets</text>
<g clip-path="url(#c5_1)">
<clipPath id="up5"><rect x="-37.5" y="397.2" width="217.0" height="36.19999999999999"/></clipPath>
<clipPath id="dn5"><rect x="-37.5" y="433.4" width="217.0" height="25.0"/></clipPath>
<g clip-path="url(#up5)"><polygon points="-2.3,433.4 -2.3,427.8 -1.5,426.9 -0.8,426.0 0.0,425.5 0.9,423.6 1.8,420.9 2.6,419.3 3.4,417.5 4.2,417.0 5.0,416.4 5.9,418.2 6.8,419.8 7.7,422.4 8.7,424.3 9.5,423.9 10.2,423.2 11.1,424.0 11.8,425.5 12.8,424.8 13.7,423.2 14.6,422.3 15.5,422.1 16.3,422.3 17.1,423.2 17.9,421.2 18.7,419.8 19.6,418.6 20.5,417.5 21.9,416.4 22.7,418.8 23.5,420.9 24.3,422.9 25.1,425.5 26.0,426.9 26.9,428.9 28.2,433.4 29.6,428.9 30.5,427.1 31.4,425.5 32.2,424.1 33.0,422.1 33.8,422.2 34.6,423.2 35.5,425.3 36.5,426.6 37.4,428.1 38.3,430.0 39.1,429.2 39.9,427.8 40.7,426.4 41.5,425.5 42.4,422.4 43.3,418.6 44.6,414.1 45.4,413.4 46.2,411.8 47.0,414.5 47.8,416.4 48.8,417.1 49.7,417.5 50.5,419.0 51.2,419.8 52.0,420.6 52.9,420.9 53.8,421.6 54.7,423.2 55.6,422.4 56.5,421.6 57.6,425.5 58.4,428.2 59.2,431.2 60.1,431.6 61.0,432.3 61.8,431.7 62.6,431.2 63.4,430.9 64.2,430.7 65.2,428.6 66.1,426.6 67.2,427.8 68.3,433.4 69.1,433.4 69.9,433.4 70.8,433.4 71.8,433.4 72.5,433.4 73.3,433.4 74.3,433.4 75.2,433.4 76.0,433.4 76.8,433.4 77.7,433.4 78.6,433.4 79.4,433.4 80.2,433.4 81.1,433.4 82.0,433.4 82.9,432.1 83.8,431.2 84.6,430.0 85.4,428.4 86.2,428.5 87.0,427.8 88.4,430.7 89.5,433.4 90.3,433.1 91.1,431.2 91.9,429.6 92.7,428.9 94.1,426.2 94.9,427.5 95.7,428.9 96.6,429.9 97.5,431.2 98.3,432.7 99.1,433.4 100.2,433.4 100.9,433.4 101.8,433.4 103.0,433.4 104.3,433.4 105.5,433.4 106.3,433.4 107.1,432.3 108.0,429.9 108.9,427.8 109.7,425.9 110.5,424.3 111.3,423.9 112.1,423.2 113.0,424.4 113.9,425.5 114.8,426.1 115.7,426.6 116.5,424.2 117.3,422.1 118.1,420.9 118.9,419.8 119.8,420.5 120.7,420.9 121.6,423.0 122.5,424.3 123.3,422.3 124.2,419.8 124.9,419.6 125.7,418.6 126.7,419.5 127.6,419.8 128.5,418.2 129.4,417.5 130.2,416.2 131.0,415.2 131.8,414.4 132.6,414.1 133.5,415.5 134.4,417.1 135.3,418.7 136.2,419.8 137.0,417.7 137.8,415.2 138.6,413.9 139.4,413.4 140.3,414.5 141.2,416.4 142.1,415.0 143.1,414.1 143.9,414.2 144.7,415.2 145.4,413.0 146.2,410.7 147.2,408.7 148.1,407.2 148.9,407.1 149.7,406.1 150.6,407.4 151.5,408.4 152.3,407.7 153.1,406.6 154.0,405.7 154.9,405.0 155.8,408.9 156.7,412.9 157.5,409.8 158.3,407.2 159.1,406.4 159.9,405.7 160.8,405.2 161.7,403.8 163.1,407.2 163.9,408.8 164.7,409.5 165.5,409.2 166.3,408.4 167.1,411.4 167.9,414.1 169.2,417.1 170.0,415.6 170.8,414.8 171.6,414.9 172.4,414.1 173.3,414.1 174.3,413.4 175.4,416.4 175.4,433.4" fill="url(#gg5)"/><polyline points="-2.3,427.8 -1.5,426.9 -0.8,426.0 0.0,425.5 0.9,423.6 1.8,420.9 2.6,419.3 3.4,417.5 4.2,417.0 5.0,416.4 5.9,418.2 6.8,419.8 7.7,422.4 8.7,424.3 9.5,423.9 10.2,423.2 11.1,424.0 11.8,425.5 12.8,424.8 13.7,423.2 14.6,422.3 15.5,422.1 16.3,422.3 17.1,423.2 17.9,421.2 18.7,419.8 19.6,418.6 20.5,417.5 21.9,416.4 22.7,418.8 23.5,420.9 24.3,422.9 25.1,425.5 26.0,426.9 26.9,428.9 28.2,434.6 29.6,428.9 30.5,427.1 31.4,425.5 32.2,424.1 33.0,422.1 33.8,422.2 34.6,423.2 35.5,425.3 36.5,426.6 37.4,428.1 38.3,430.0 39.1,429.2 39.9,427.8 40.7,426.4 41.5,425.5 42.4,422.4 43.3,418.6 44.6,414.1 45.4,413.4 46.2,411.8 47.0,414.5 47.8,416.4 48.8,417.1 49.7,417.5 50.5,419.0 51.2,419.8 52.0,420.6 52.9,420.9 53.8,421.6 54.7,423.2 55.6,422.4 56.5,421.6 57.6,425.5 58.4,428.2 59.2,431.2 60.1,431.6 61.0,432.3 61.8,431.7 62.6,431.2 63.4,430.9 64.2,430.7 65.2,428.6 66.1,426.6 67.2,427.8 68.3,433.4 69.1,434.8 69.9,436.9 70.8,437.4 71.8,438.0 72.5,437.6 73.3,437.6 74.3,439.8 75.2,441.4 76.0,439.3 76.8,438.0 77.7,436.5 78.6,435.7 79.4,436.3 80.2,436.9 81.1,434.8 82.0,433.4 82.9,432.1 83.8,431.2 84.6,430.0 85.4,428.4 86.2,428.5 87.0,427.8 88.4,430.7 89.5,435.3 90.3,433.1 91.1,431.2 91.9,429.6 92.7,428.9 94.1,426.2 94.9,427.5 95.7,428.9 96.6,429.9 97.5,431.2 98.3,432.7 99.1,434.6 100.2,444.8 100.9,452.1 101.8,446.0 103.0,441.4 104.3,439.1 105.5,434.6 106.3,433.6 107.1,432.3 108.0,429.9 108.9,427.8 109.7,425.9 110.5,424.3 111.3,423.9 112.1,423.2 113.0,424.4 113.9,425.5 114.8,426.1 115.7,426.6 116.5,424.2 117.3,422.1 118.1,420.9 118.9,419.8 119.8,420.5 120.7,420.9 121.6,423.0 122.5,424.3 123.3,422.3 124.2,419.8 124.9,419.6 125.7,418.6 126.7,419.5 127.6,419.8 128.5,418.2 129.4,417.5 130.2,416.2 131.0,415.2 131.8,414.4 132.6,414.1 133.5,415.5 134.4,417.1 135.3,418.7 136.2,419.8 137.0,417.7 137.8,415.2 138.6,413.9 139.4,413.4 140.3,414.5 141.2,416.4 142.1,415.0 143.1,414.1 143.9,414.2 144.7,415.2 145.4,413.0 146.2,410.7 147.2,408.7 148.1,407.2 148.9,407.1 149.7,406.1 150.6,407.4 151.5,408.4 152.3,407.7 153.1,406.6 154.0,405.7 154.9,405.0 155.8,408.9 156.7,412.9 157.5,409.8 158.3,407.2 159.1,406.4 159.9,405.7 160.8,405.2 161.7,403.8 163.1,407.2 163.9,408.8 164.7,409.5 165.5,409.2 166.3,408.4 167.1,411.4 167.9,414.1 169.2,417.1 170.0,415.6 170.8,414.8 171.6,414.9 172.4,414.1 173.3,414.1 174.3,413.4 175.4,416.4" fill="none" stroke="#0f870f" stroke-width="1.15" stroke-linejoin="round"/></g>
<g clip-path="url(#dn5)"><polygon points="-2.3,433.4 -2.3,433.4 -1.5,433.4 -0.8,433.4 0.0,433.4 0.9,433.4 1.8,433.4 2.6,433.4 3.4,433.4 4.2,433.4 5.0,433.4 5.9,433.4 6.8,433.4 7.7,433.4 8.7,433.4 9.5,433.4 10.2,433.4 11.1,433.4 11.8,433.4 12.8,433.4 13.7,433.4 14.6,433.4 15.5,433.4 16.3,433.4 17.1,433.4 17.9,433.4 18.7,433.4 19.6,433.4 20.5,433.4 21.9,433.4 22.7,433.4 23.5,433.4 24.3,433.4 25.1,433.4 26.0,433.4 26.9,433.4 28.2,434.6 29.6,433.4 30.5,433.4 31.4,433.4 32.2,433.4 33.0,433.4 33.8,433.4 34.6,433.4 35.5,433.4 36.5,433.4 37.4,433.4 38.3,433.4 39.1,433.4 39.9,433.4 40.7,433.4 41.5,433.4 42.4,433.4 43.3,433.4 44.6,433.4 45.4,433.4 46.2,433.4 47.0,433.4 47.8,433.4 48.8,433.4 49.7,433.4 50.5,433.4 51.2,433.4 52.0,433.4 52.9,433.4 53.8,433.4 54.7,433.4 55.6,433.4 56.5,433.4 57.6,433.4 58.4,433.4 59.2,433.4 60.1,433.4 61.0,433.4 61.8,433.4 62.6,433.4 63.4,433.4 64.2,433.4 65.2,433.4 66.1,433.4 67.2,433.4 68.3,433.4 69.1,434.8 69.9,436.9 70.8,437.4 71.8,438.0 72.5,437.6 73.3,437.6 74.3,439.8 75.2,441.4 76.0,439.3 76.8,438.0 77.7,436.5 78.6,435.7 79.4,436.3 80.2,436.9 81.1,434.8 82.0,433.4 82.9,433.4 83.8,433.4 84.6,433.4 85.4,433.4 86.2,433.4 87.0,433.4 88.4,433.4 89.5,435.3 90.3,433.4 91.1,433.4 91.9,433.4 92.7,433.4 94.1,433.4 94.9,433.4 95.7,433.4 96.6,433.4 97.5,433.4 98.3,433.4 99.1,434.6 100.2,444.8 100.9,452.1 101.8,446.0 103.0,441.4 104.3,439.1 105.5,434.6 106.3,433.6 107.1,433.4 108.0,433.4 108.9,433.4 109.7,433.4 110.5,433.4 111.3,433.4 112.1,433.4 113.0,433.4 113.9,433.4 114.8,433.4 115.7,433.4 116.5,433.4 117.3,433.4 118.1,433.4 118.9,433.4 119.8,433.4 120.7,433.4 121.6,433.4 122.5,433.4 123.3,433.4 124.2,433.4 124.9,433.4 125.7,433.4 126.7,433.4 127.6,433.4 128.5,433.4 129.4,433.4 130.2,433.4 131.0,433.4 131.8,433.4 132.6,433.4 133.5,433.4 134.4,433.4 135.3,433.4 136.2,433.4 137.0,433.4 137.8,433.4 138.6,433.4 139.4,433.4 140.3,433.4 141.2,433.4 142.1,433.4 143.1,433.4 143.9,433.4 144.7,433.4 145.4,433.4 146.2,433.4 147.2,433.4 148.1,433.4 148.9,433.4 149.7,433.4 150.6,433.4 151.5,433.4 152.3,433.4 153.1,433.4 154.0,433.4 154.9,433.4 155.8,433.4 156.7,433.4 157.5,433.4 158.3,433.4 159.1,433.4 159.9,433.4 160.8,433.4 161.7,433.4 163.1,433.4 163.9,433.4 164.7,433.4 165.5,433.4 166.3,433.4 167.1,433.4 167.9,433.4 169.2,433.4 170.0,433.4 170.8,433.4 171.6,433.4 172.4,433.4 173.3,433.4 174.3,433.4 175.4,433.4 175.4,433.4" fill="url(#gr5)"/><polyline points="-2.3,427.8 -1.5,426.9 -0.8,426.0 0.0,425.5 0.9,423.6 1.8,420.9 2.6,419.3 3.4,417.5 4.2,417.0 5.0,416.4 5.9,418.2 6.8,419.8 7.7,422.4 8.7,424.3 9.5,423.9 10.2,423.2 11.1,424.0 11.8,425.5 12.8,424.8 13.7,423.2 14.6,422.3 15.5,422.1 16.3,422.3 17.1,423.2 17.9,421.2 18.7,419.8 19.6,418.6 20.5,417.5 21.9,416.4 22.7,418.8 23.5,420.9 24.3,422.9 25.1,425.5 26.0,426.9 26.9,428.9 28.2,434.6 29.6,428.9 30.5,427.1 31.4,425.5 32.2,424.1 33.0,422.1 33.8,422.2 34.6,423.2 35.5,425.3 36.5,426.6 37.4,428.1 38.3,430.0 39.1,429.2 39.9,427.8 40.7,426.4 41.5,425.5 42.4,422.4 43.3,418.6 44.6,414.1 45.4,413.4 46.2,411.8 47.0,414.5 47.8,416.4 48.8,417.1 49.7,417.5 50.5,419.0 51.2,419.8 52.0,420.6 52.9,420.9 53.8,421.6 54.7,423.2 55.6,422.4 56.5,421.6 57.6,425.5 58.4,428.2 59.2,431.2 60.1,431.6 61.0,432.3 61.8,431.7 62.6,431.2 63.4,430.9 64.2,430.7 65.2,428.6 66.1,426.6 67.2,427.8 68.3,433.4 69.1,434.8 69.9,436.9 70.8,437.4 71.8,438.0 72.5,437.6 73.3,437.6 74.3,439.8 75.2,441.4 76.0,439.3 76.8,438.0 77.7,436.5 78.6,435.7 79.4,436.3 80.2,436.9 81.1,434.8 82.0,433.4 82.9,432.1 83.8,431.2 84.6,430.0 85.4,428.4 86.2,428.5 87.0,427.8 88.4,430.7 89.5,435.3 90.3,433.1 91.1,431.2 91.9,429.6 92.7,428.9 94.1,426.2 94.9,427.5 95.7,428.9 96.6,429.9 97.5,431.2 98.3,432.7 99.1,434.6 100.2,444.8 100.9,452.1 101.8,446.0 103.0,441.4 104.3,439.1 105.5,434.6 106.3,433.6 107.1,432.3 108.0,429.9 108.9,427.8 109.7,425.9 110.5,424.3 111.3,423.9 112.1,423.2 113.0,424.4 113.9,425.5 114.8,426.1 115.7,426.6 116.5,424.2 117.3,422.1 118.1,420.9 118.9,419.8 119.8,420.5 120.7,420.9 121.6,423.0 122.5,424.3 123.3,422.3 124.2,419.8 124.9,419.6 125.7,418.6 126.7,419.5 127.6,419.8 128.5,418.2 129.4,417.5 130.2,416.2 131.0,415.2 131.8,414.4 132.6,414.1 133.5,415.5 134.4,417.1 135.3,418.7 136.2,419.8 137.0,417.7 137.8,415.2 138.6,413.9 139.4,413.4 140.3,414.5 141.2,416.4 142.1,415.0 143.1,414.1 143.9,414.2 144.7,415.2 145.4,413.0 146.2,410.7 147.2,408.7 148.1,407.2 148.9,407.1 149.7,406.1 150.6,407.4 151.5,408.4 152.3,407.7 153.1,406.6 154.0,405.7 154.9,405.0 155.8,408.9 156.7,412.9 157.5,409.8 158.3,407.2 159.1,406.4 159.9,405.7 160.8,405.2 161.7,403.8 163.1,407.2 163.9,408.8 164.7,409.5 165.5,409.2 166.3,408.4 167.1,411.4 167.9,414.1 169.2,417.1 170.0,415.6 170.8,414.8 171.6,414.9 172.4,414.1 173.3,414.1 174.3,413.4 175.4,416.4" fill="none" stroke="#f22" stroke-width="1.1" stroke-linejoin="round"/></g>
</g>
<g clip-path="url(#c5_2)">
<polygon points="-3.0,503.3 27.8,482.4 27.8,522.3 -3.0,522.3" fill="url(#gk5)"/>
<polygon points="28.5,520.0 68.3,492.2 68.3,522.3 28.5,522.3" fill="url(#gk5)"/>
<polygon points="80.9,520.0 88.4,515.9 88.4,522.3 80.9,522.3" fill="url(#gk5)"/>
<polygon points="91.1,520.0 99.1,515.0 99.1,522.3 91.1,522.3" fill="url(#gk5)"/>
<polygon points="105.2,520.0 174.9,471.0 174.9,522.3 105.2,522.3" fill="url(#gk5)"/>
</g>
<linearGradient id="gg5" gradientUnits="userSpaceOnUse" x1="0" y1="401.2" x2="0" y2="433.4"><stop offset="0" stop-color="#bfe0bf"/><stop offset="1" stop-color="#88c388"/></linearGradient>
<linearGradient id="gr5" gradientUnits="userSpaceOnUse" x1="0" y1="433.4" x2="0" y2="452.4"><stop offset="0" stop-color="#ff8080"/><stop offset="1" stop-color="#ffc4c4"/></linearGradient>
<linearGradient id="gk5" gradientUnits="userSpaceOnUse" x1="0" y1="458.4" x2="0" y2="520.3"><stop offset="0" stop-color="#8c8c8c"/><stop offset="0.25" stop-color="#686868"/><stop offset="0.62" stop-color="#2b2b2b"/><stop offset="0.86" stop-color="#0c0c0c"/><stop offset="1" stop-color="#000"/></linearGradient>
<text x="62.0" y="453.5" font-size="6.5" fill="#000" font-weight="bold" text-anchor="end">Percentage Above 200-Day MA</text>
<text x="77.9" y="472.9" font-size="6.5" fill="#000" font-weight="bold" text-anchor="end">Number of Days Above 200-Day MA</text>
<path d="M-37.5,397.2H217.5M-37.5,458.4H217.5" stroke="#e3e3e3" stroke-width="1" fill="none"/>
<path d="M179.5,275.1V520.3" stroke="#d2d2d2" stroke-width="1" fill="none"/>
<path d="M-37.5,520.3H217.5" stroke="#e3e3e3" stroke-width="1" fill="none"/>
<g clip-path="url(#a5_0)">
<path d="M179.5,276.5h2.5" stroke="#888" stroke-width="1"/>
<text x="183.0" y="280.8" font-size="12" fill="#333" font-weight="normal" text-anchor="start">59.0</text>
<path d="M179.5,293.3h2.5" stroke="#888" stroke-width="1"/>
<text x="183.0" y="297.6" font-size="12" fill="#333" font-weight="normal" text-anchor="start">55.0</text>
<path d="M179.5,306.5h2.5" stroke="#888" stroke-width="1"/>
<text x="183.0" y="310.8" font-size="12" fill="#333" font-weight="normal" text-anchor="start">52.0</text>
<path d="M179.5,321h2.5" stroke="#888" stroke-width="1"/>
<text x="183.0" y="325.3" font-size="12" fill="#333" font-weight="normal" text-anchor="start">49.0</text>
<path d="M179.5,336h2.5" stroke="#888" stroke-width="1"/>
<text x="183.0" y="340.3" font-size="12" fill="#333" font-weight="normal" text-anchor="start">46.0</text>
<path d="M179.5,351.5h2.5" stroke="#888" stroke-width="1"/>
<text x="183.0" y="355.8" font-size="12" fill="#333" font-weight="normal" text-anchor="start">43.0</text>
<path d="M179.5,369.5h2.5" stroke="#888" stroke-width="1"/>
<text x="183.0" y="373.8" font-size="12" fill="#333" font-weight="normal" text-anchor="start">40.0</text>
<path d="M179.5,388.25h2.5" stroke="#888" stroke-width="1"/>
<text x="183.0" y="392.6" font-size="12" fill="#333" font-weight="normal" text-anchor="start">37.0</text>
</g>
<g clip-path="url(#a5_1)">
<path d="M179.5,401.7h2.5" stroke="#888" stroke-width="1"/>
<text x="183.0" y="406.0" font-size="12" fill="#333" font-weight="normal" text-anchor="start">20.0</text>
<path d="M179.5,417.8h2.5" stroke="#888" stroke-width="1"/>
<text x="183.0" y="422.1" font-size="12" fill="#333" font-weight="normal" text-anchor="start">10.0</text>
<path d="M179.5,433.9h2.5" stroke="#888" stroke-width="1"/>
<text x="183.0" y="438.2" font-size="12" fill="#333" font-weight="normal" text-anchor="start">0.0</text>
<path d="M179.5,449.7h2.5" stroke="#888" stroke-width="1"/>
<text x="183.0" y="454.0" font-size="12" fill="#333" font-weight="normal" text-anchor="start">-10.0</text>
</g>
<g clip-path="url(#a5_2)">
<path d="M179.5,457.9h2.5" stroke="#888" stroke-width="1"/>
<text x="183.0" y="462.2" font-size="12" fill="#333" font-weight="normal" text-anchor="start">200</text>
<path d="M179.5,489.4h2.5" stroke="#888" stroke-width="1"/>
<text x="183.0" y="493.7" font-size="12" fill="#333" font-weight="normal" text-anchor="start">100</text>
<path d="M179.5,520.9h2.5" stroke="#888" stroke-width="1"/>
<text x="183.0" y="525.2" font-size="12" fill="#333" font-weight="normal" text-anchor="start">0</text>
</g>
<rect x="182.5" y="288.3" width="28" height="16" fill="#000"/>
<text x="196.5" y="300.6" font-size="12" fill="#fff" font-weight="normal" text-anchor="middle">54.2</text>
<rect x="182.5" y="312.5" width="28" height="16" fill="#f00"/>
<text x="196.5" y="324.8" font-size="12" fill="#fff" font-weight="normal" text-anchor="middle">49.0</text>
<rect x="182.5" y="408.7" width="27.5" height="16" fill="#008000"/>
<text x="196.2" y="421.0" font-size="12" fill="#fff" font-weight="normal" text-anchor="middle">10.6</text>
<rect x="182.5" y="462.5" width="24" height="16" fill="#000"/>
<text x="194.5" y="474.8" font-size="12" fill="#fff" font-weight="normal" text-anchor="middle">160</text>
<rect x="205.9" y="458.9" width="10.8" height="10.8" fill="#f3f3f3" stroke="#e4e4e4" stroke-width="0.5"/>
<rect x="207.5" y="463.4" width="7.6" height="4.8" rx="0.7" fill="#757575"/><path d="M209.10000000000002,463.5v-1.3a2.2,2.2 0 0 1 4.4,0v1.3" fill="none" stroke="#757575" stroke-width="1.3"/><rect x="210.8" y="465.0" width="1" height="1.7" fill="#ddd"/>
<rect x="212.0" y="398.2" width="5.5" height="8" fill="#f4f4f4" stroke="#e2e2e2" stroke-width="0.5"/>
<path d="M215.5,400.59999999999997l-1.8,1.6l1.8,1.6" fill="none" stroke="#5a5a5a" stroke-width="0.9"/>
<rect x="222.5" y="275.1" width="255.0" height="260.9" rx="1.5" fill="#fff" stroke="#e3e3e3" stroke-width="1.1"/>
<text x="226.0" y="272.0" font-size="5.1" fill="#5a5a5a" font-weight="normal" text-anchor="start" textLength="142.3" lengthAdjust="spacingAndGlyphs">EWU:US - Daily CandleStick Chart - USD - Price Returns - No Layout</text>
<clipPath id="c6_0"><rect x="222.5" y="275.1" width="222.89999999999998" height="122.09999999999997"/></clipPath>
<clipPath id="a6_0"><rect x="445.4" y="275.6" width="32.10000000000002" height="121.59999999999997"/></clipPath>
<clipPath id="c6_1"><rect x="222.5" y="397.2" width="222.89999999999998" height="61.19999999999999"/></clipPath>
<clipPath id="a6_1"><rect x="445.4" y="397.7" width="32.10000000000002" height="60.69999999999999"/></clipPath>
<clipPath id="c6_2"><rect x="222.5" y="458.4" width="222.89999999999998" height="61.89999999999998"/></clipPath>
<clipPath id="a6_2"><rect x="445.4" y="458.9" width="32.10000000000002" height="61.39999999999998"/></clipPath>
<g clip-path="url(#c6_0)">
<path d="M223.2,369.6L224.0,371.9L224.8,372.5M226.7,375.3L227.2,377.7L228.0,380.2L228.5,383.3L229.6,381.1M230.2,378.9L231.2,374.0M231.8,372.9L232.8,375.8L233.7,375.7M235.2,378.4L235.5,377.7L236.0,379.4L236.8,381.9L237.2,382.3L237.6,379.4M238.8,371.7L239.2,373.1L240.0,370.7L240.7,371.2M242.5,367.8L243.2,368.0L244.2,366.2L244.8,367.0M246.4,366.0L247.2,363.6L247.7,364.0L248.0,362.7L248.8,364.5M249.5,364.4L250.4,362.1L251.2,361.7L252.0,360.0M253.6,360.4L254.7,362.7L255.2,363.9M256.5,368.2L257.6,364.4L258.2,360.7L259.2,357.8M260.8,351.6L261.7,350.0L262.4,347.4M263.5,344.2L264.0,344.8L264.8,341.7L265.2,340.2M266.4,340.8L266.8,338.3L267.2,337.3L268.0,341.9L268.7,343.0M269.6,344.6L270.5,344.8L271.2,344.1M272.8,342.8L273.8,349.0L274.4,350.4L275.2,352.9M276.8,354.1L277.5,351.9L278.4,352.1L279.2,352.9M280.8,347.3L281.6,346.6L282.7,344.9M284.0,349.3L284.5,348.8L285.6,345.7L286.2,344.9M287.2,345.9L287.8,343.6L288.8,348.7L289.2,352.2L289.6,355.6M290.4,360.3L291.2,355.8L291.5,351.8L292.0,350.1M292.8,346.3L293.2,344.8L293.6,342.6L294.4,338.6M296.0,333.0L296.7,332.1L297.6,333.3L298.5,334.4M300.2,342.7L300.8,342.5L301.8,339.5L302.4,335.8M303.7,332.8L304.0,331.6L304.8,332.4L305.5,332.4M306.4,332.9L307.2,335.2L308.0,335.0L308.8,339.2M309.6,339.1L310.7,337.8L311.2,338.1L312.0,339.8M313.6,340.9L314.2,339.8L315.2,342.5M316.8,345.2L317.7,346.4L318.4,348.2L319.2,348.5M320.0,350.7L320.8,353.0L321.2,355.2L321.6,356.4L322.4,356.5M324.0,351.6L324.7,349.0L325.6,348.7L326.5,346.9M327.2,346.5L328.2,345.1M328.8,345.5L329.8,349.3L330.4,352.1L331.2,354.3M332.1,365.0L332.8,362.8L333.5,362.4L334.4,362.8M335.2,363.6L336.0,361.2L336.8,360.2M337.6,364.1L338.2,367.6L339.2,363.5M340.8,357.9L341.5,354.1L342.4,352.0L343.3,348.9M344.8,349.7L345.2,349.9L345.6,349.9L346.4,346.9M348.0,341.5L348.5,340.0L348.8,340.7L349.6,341.1L350.3,338.2M352.2,340.5L352.8,335.6L353.8,333.5L354.4,331.5L355.5,330.1M356.8,330.8L357.3,331.6L358.4,329.0M360.0,329.0L360.8,332.6L361.6,335.3M363.2,342.4L363.6,346.0L364.0,351.4L364.3,359.6M365.7,354.4L366.7,342.7L367.2,338.8L368.1,333.8M369.5,329.7L370.4,328.5L371.3,326.9M372.8,326.0L373.2,325.1L373.6,325.4L374.4,323.3M375.2,322.2L376.0,321.6L376.5,319.7L376.8,320.1L377.6,316.0M379.2,314.1L380.2,314.0L380.8,314.4M382.4,312.3L383.5,311.6L384.0,310.3M384.8,309.2L385.3,308.1L386.5,317.3M387.2,320.3L387.7,321.9L388.0,318.4L388.8,318.9M390.4,316.1L391.2,315.5L392.0,315.4M393.6,316.8L394.7,312.1L395.2,312.0L396.0,309.9M397.6,313.3L398.1,316.3L399.2,312.5L399.8,311.8M400.8,308.1L401.6,304.5L402.4,303.4M403.5,301.6L404.0,301.3L404.8,303.6L405.1,303.1M406.4,299.5L406.8,299.2L407.2,300.3L408.0,300.6M409.6,304.4L410.5,307.6L411.2,305.2M412.1,299.9L412.8,300.5L413.8,299.5L414.4,298.9M415.2,301.2L415.6,301.8L416.0,304.1L416.8,304.5L417.5,305.4M418.4,302.1L419.1,299.4L420.0,299.5M420.8,297.3L421.6,298.6L422.6,299.3L423.2,295.3M424.5,294.3L425.6,294.5L426.1,293.4L427.2,296.8M428.8,295.2L429.6,292.5L430.4,290.8L431.2,289.4M432.8,294.7L433.1,295.2L433.6,296.0L434.4,299.1M436.2,296.2L436.8,294.0L437.8,289.5M439.4,292.1L440.0,291.2L440.9,289.1" fill="none" stroke="#000" stroke-width="1.0" stroke-linejoin="miter"/>
<polyline points="223.2,369.6 224.0,371.9 224.8,372.5 225.6,373.2 226.7,375.3 227.2,377.7 228.0,380.2 228.5,383.3 229.6,381.1 230.2,378.9 231.2,374.0 231.8,372.9 232.8,375.8 233.7,375.7 234.4,377.5 235.2,378.4 235.5,377.7 236.0,379.4 236.8,381.9 237.2,382.3 237.6,379.4 238.4,374.3 238.8,371.7 239.2,373.1 240.0,370.7 240.7,371.2 241.6,370.0 242.5,367.8 243.2,368.0 244.2,366.2 244.8,367.0 245.8,366.5 246.4,366.0 247.2,363.6 247.7,364.0 248.0,362.7 248.8,364.5 249.5,364.4 250.4,362.1 251.2,361.7 252.0,360.0 252.8,359.0 253.6,360.4 254.7,362.7 255.2,363.9 256.0,366.6 256.5,368.2 257.6,364.4 258.2,360.7 259.2,357.8 259.8,354.9 260.8,351.6 261.7,350.0 262.4,347.4 263.2,345.0 263.5,344.2 264.0,344.8 264.8,341.7 265.2,340.2 265.6,338.1 266.4,340.8 266.8,338.3 267.2,337.3 268.0,341.9 268.7,343.0 269.6,344.6 270.5,344.8 271.2,344.1 272.2,342.0 272.8,342.8 273.8,349.0 274.4,350.4 275.2,352.9 275.7,354.8 276.0,356.3 276.8,354.1 277.5,351.9 278.4,352.1 279.2,352.9 280.0,351.9 280.8,347.3 281.6,346.6 282.7,344.9 283.2,345.6 284.0,349.3 284.5,348.8 285.6,345.7 286.2,344.9 287.2,345.9 287.8,343.6 288.8,348.7 289.2,352.2 289.6,355.6 290.4,360.3 291.2,355.8 291.5,351.8 292.0,350.1 292.8,346.3 293.2,344.8 293.6,342.6 294.4,338.6 294.8,337.9 295.2,336.9 296.0,333.0 296.7,332.1 297.6,333.3 298.5,334.4 299.2,336.9 300.2,342.7 300.8,342.5 301.8,339.5 302.4,335.8 303.2,335.5 303.7,332.8 304.0,331.6 304.8,332.4 305.5,332.4 306.4,332.9 307.2,335.2 308.0,335.0 308.8,339.2 309.6,339.1 310.7,337.8 311.2,338.1 312.0,339.8 312.5,341.8 313.6,340.9 314.2,339.8 315.2,342.5 315.8,343.7 316.8,345.2 317.7,346.4 318.4,348.2 319.2,348.5 319.5,351.2 320.0,350.7 320.8,353.0 321.2,355.2 321.6,356.4 322.4,356.5 322.8,355.0 323.2,354.0 324.0,351.6 324.7,349.0 325.6,348.7 326.5,346.9 327.2,346.5 328.2,345.1 328.8,345.5 329.8,349.3 330.4,352.1 331.2,354.3 332.1,365.0 332.8,362.8 333.5,362.4 334.4,362.8 335.2,363.6 336.0,361.2 336.8,360.2 337.6,364.1 338.2,367.6 339.2,363.5 339.8,359.6 340.8,357.9 341.5,354.1 342.4,352.0 343.3,348.9 344.0,349.3 344.8,349.7 345.2,349.9 345.6,349.9 346.4,346.9 346.8,343.4 347.2,343.1 348.0,341.5 348.5,340.0 348.8,340.7 349.6,341.1 350.3,338.2 351.2,340.6 352.2,340.5 352.8,335.6 353.8,333.5 354.4,331.5 355.5,330.1 356.0,331.3 356.8,330.8 357.3,331.6 358.4,329.0 359.2,327.8 360.0,329.0 360.8,332.6 361.6,335.3 362.5,334.8 363.2,342.4 363.6,346.0 364.0,351.4 364.3,359.6 365.0,371.8 365.7,354.4 366.7,342.7 367.2,338.8 368.1,333.8 368.8,332.8 369.5,329.7 370.4,328.5 371.3,326.9 372.0,325.2 372.8,326.0 373.2,325.1 373.6,325.4 374.4,323.3 374.8,323.5 375.2,322.2 376.0,321.6 376.5,319.7 376.8,320.1 377.6,316.0 378.3,315.7 379.2,314.1 380.2,314.0 380.8,314.4 381.8,312.0 382.4,312.3 383.5,311.6 384.0,310.3 384.8,309.2 385.3,308.1 386.5,317.3 387.2,320.3 387.7,321.9 388.0,318.4 388.8,318.9 389.5,316.2 390.4,316.1 391.2,315.5 392.0,315.4 392.8,317.5 393.6,316.8 394.7,312.1 395.2,312.0 396.0,309.9 396.5,307.6 397.6,313.3 398.1,316.3 399.2,312.5 399.8,311.8 400.8,308.1 401.6,304.5 402.4,303.4 403.2,301.8 403.5,301.6 404.0,301.3 404.8,303.6 405.1,303.1 405.6,300.9 406.4,299.5 406.8,299.2 407.2,300.3 408.0,300.6 408.6,301.6 409.6,304.4 410.5,307.6 411.2,305.2 412.1,299.9 412.8,300.5 413.8,299.5 414.4,298.9 415.2,301.2 415.6,301.8 416.0,304.1 416.8,304.5 417.5,305.4 418.4,302.1 419.1,299.4 420.0,299.5 420.8,297.3 421.6,298.6 422.6,299.3 423.2,295.3 424.0,295.6 424.5,294.3 425.6,294.5 426.1,293.4 427.2,296.8 427.8,297.1 428.8,295.2 429.6,292.5 430.4,290.8 431.2,289.4 431.5,289.4 432.0,289.8 432.8,294.7 433.1,295.2 433.6,296.0 434.4,299.1 434.8,303.3 435.2,299.9 436.2,296.2 436.8,294.0 437.8,289.5 438.4,289.6 439.4,292.1 440.0,291.2 440.9,289.1" fill="none" stroke="#000" stroke-width="0.25" stroke-linejoin="miter"/>
<path d="M223.17,368.83V370.27M225.57,371.37V373.62M227.97,379.56V380.71M231.17,372.93V375.57M231.80,371.19V374.08M232.77,374.42V376.26M233.67,374.42V378.42M235.17,377.88V378.99M235.53,377.31V378.73M236.77,379.62V384.10M237.17,381.44V383.08M237.57,378.72V379.90M238.37,373.05V374.82M239.17,372.13V374.74M240.67,370.23V372.47M241.57,368.61V371.47M242.53,364.90V368.58M243.17,367.46V370.63M245.80,364.70V368.05M246.37,364.72V366.96M247.17,362.89V364.37M247.66,362.95V366.38M247.97,361.51V365.14M248.77,363.43V367.21M249.53,363.96V365.31M250.37,360.89V362.75M252.80,357.52V360.86M253.57,359.91V361.39M255.97,365.54V368.03M259.17,356.66V358.46M260.77,351.12V354.40M261.66,349.57V350.63M262.37,346.40V350.06M263.17,344.48V346.30M263.53,343.21V345.57M265.57,337.03V338.62M266.37,340.23V341.65M266.80,337.93V339.56M267.97,340.08V344.15M269.57,343.49V345.06M270.53,344.35V345.64M271.17,341.32V344.58M273.80,347.21V350.21M274.37,348.91V351.84M275.17,351.35V353.87M275.66,351.39V355.47M278.37,350.54V353.03M279.16,352.09V353.92M280.80,346.18V348.03M281.57,345.37V348.17M282.66,342.67V346.41M283.17,343.63V347.68M283.97,347.95V350.21M285.57,345.10V346.86M286.16,344.17V346.52M287.17,344.84V347.74M288.77,347.06V350.53M289.57,355.19V356.97M290.36,359.46V362.63M292.77,345.38V347.95M293.16,344.11V346.18M293.57,341.31V343.05M294.37,337.01V339.12M294.80,336.88V338.82M295.17,336.42V337.84M295.97,332.52V333.58M297.57,332.62V336.17M298.53,333.07V336.28M299.17,336.43V338.12M300.16,341.04V343.58M300.77,340.90V343.08M301.79,337.78V340.49M302.37,334.52V336.96M303.17,334.84V335.96M303.97,329.64V332.60M304.77,331.85V334.69M305.53,330.56V334.49M306.37,330.85V334.65M307.97,334.04V337.05M308.79,338.72V340.72M310.66,336.23V338.98M311.17,336.91V340.25M311.97,338.80V341.94M313.57,338.26V342.61M315.17,340.43V345.29M316.77,344.60V345.76M319.97,347.64V352.55M321.16,353.53V356.27M321.57,354.17V358.93M322.79,353.65V355.74M323.17,352.72V357.90M323.97,350.41V352.70M325.57,348.17V349.72M327.17,344.19V348.17M328.77,344.99V346.90M329.79,348.25V351.14M330.37,351.30V352.71M331.19,353.31V356.56M332.13,363.96V365.60M332.77,361.37V363.82M336.79,359.39V362.12M339.83,358.84V360.93M340.77,356.97V358.84M341.46,353.08V355.60M342.37,351.34V353.01M343.33,348.42V349.42M343.97,347.53V351.51M345.57,348.35V350.99M346.37,345.76V349.15M346.83,342.43V344.45M349.57,340.58V341.63M351.17,338.58V341.74M353.82,331.76V335.73M355.97,330.50V333.74M357.32,331.07V332.13M359.19,325.79V328.45M361.57,332.61V337.47M363.17,341.24V344.78M363.62,344.66V346.42M364.32,359.11V362.57M365.72,353.47V355.33M366.66,341.94V344.87M367.17,337.05V339.43M368.06,332.57V335.63M368.77,331.98V333.76M370.37,327.63V330.45M371.32,325.95V327.73M371.97,323.54V326.80M373.19,323.57V327.64M373.57,324.95V326.18M374.82,323.01V324.51M375.17,319.05V324.05M375.97,320.40V322.87M376.46,317.80V321.33M376.77,319.28V320.84M377.57,315.60V317.05M378.32,314.77V316.56M379.17,312.45V315.32M381.82,310.08V313.41M382.37,311.18V313.09M385.32,306.06V309.49M386.49,316.38V319.84M387.17,319.38V321.42M387.66,320.40V324.00M387.97,317.11V319.09M390.37,315.06V317.54M391.16,314.39V316.27M393.57,315.83V318.66M395.17,308.54V313.01M395.97,309.32V311.33M396.52,306.51V308.80M398.15,314.71V316.74M399.17,309.65V313.08M399.79,310.67V312.84M402.37,302.93V304.49M403.17,299.76V303.75M403.52,299.10V303.08M405.15,302.17V305.15M406.37,296.99V300.69M408.65,300.77V302.38M410.52,305.88V308.44M411.17,304.73V306.84M412.77,297.66V302.06M414.37,298.51V300.21M415.17,300.71V302.33M415.97,303.25V305.25M417.52,303.83V306.51M419.15,297.98V300.57M419.97,298.33V300.26M420.79,296.45V298.50M423.17,293.68V295.92M423.97,294.52V297.03M424.52,292.78V294.84M425.57,293.51V295.64M426.15,292.84V296.70M427.79,295.11V298.82M428.77,294.49V295.64M431.17,288.39V289.84M431.52,288.86V289.93M431.97,288.74V292.28M433.15,293.43V296.60M433.57,294.49V298.32M434.79,301.92V303.86M435.17,298.66V301.48M436.77,293.14V295.75M437.82,287.65V290.00M439.97,290.21V292.23M440.85,287.76V290.41" stroke="#000" stroke-width="0.8" fill="none"/>
<polyline points="222.0,377.2 231.3,377.7 240.7,378.1 250.0,377.2 259.3,375.3 268.7,371.8 278.0,368.3 287.3,364.8 296.7,360.9 306.0,356.7 315.3,353.2 322.3,350.8 329.3,349.2 336.3,348.5 343.3,347.8 350.3,346.9 357.3,345.7 364.3,345.0 371.3,344.3 378.3,342.7 385.3,340.3 392.3,338.5 399.3,336.8 406.3,334.5 413.3,331.0 420.3,326.8 427.3,321.7 434.3,316.5 440.9,311.9" fill="none" stroke="#f62c2c" stroke-width="1.05" stroke-linejoin="round"/>
</g>
<text x="243.0" y="305.8" font-size="17.3" fill="#000" font-weight="bold" text-anchor="start" textLength="130.7" lengthAdjust="spacingAndGlyphs" stroke="#000" stroke-width="0.35">United Kingdom</text>
<g clip-path="url(#c6_1)">
<clipPath id="up6"><rect x="222.5" y="397.2" width="222.89999999999998" height="35.5"/></clipPath>
<clipPath id="dn6"><rect x="222.5" y="432.7" width="222.89999999999998" height="25.69999999999999"/></clipPath>
<g clip-path="url(#up6)"><polygon points="223.2,432.7 223.2,426.2 224.0,427.7 224.8,428.5 225.7,429.5 226.7,430.8 227.6,432.7 228.5,432.7 229.3,432.7 230.2,432.7 231.0,432.7 231.8,431.5 232.7,432.2 233.7,432.5 234.6,432.7 235.5,432.7 236.3,432.7 237.2,432.7 238.0,432.7 238.8,430.8 239.7,429.9 240.7,428.5 241.6,427.6 242.5,427.3 243.3,425.7 244.2,423.8 245.0,424.0 245.8,424.5 246.7,422.1 247.7,420.3 248.6,420.9 249.5,421.5 250.3,420.2 251.2,419.2 252.0,419.5 252.8,419.9 253.7,421.4 254.7,422.2 255.6,425.1 256.5,427.3 257.3,424.2 258.2,421.5 259.0,419.6 259.8,416.8 260.7,414.6 261.7,412.2 262.6,410.2 263.5,407.5 264.3,406.0 265.2,404.0 266.0,403.8 266.8,403.5 267.7,405.3 268.7,407.5 269.6,408.5 270.5,408.7 271.3,408.5 272.2,407.5 273.0,411.7 273.8,415.7 274.7,417.7 275.7,420.3 276.6,419.2 277.5,417.5 278.3,419.2 279.2,420.3 280.0,418.3 280.8,415.7 281.7,415.5 282.7,414.5 283.6,416.7 284.5,418.0 285.3,417.3 286.2,416.1 287.0,416.7 287.8,417.5 289.2,422.7 290.4,427.3 291.5,422.7 292.3,419.8 293.2,416.8 294.0,414.5 294.8,412.2 295.7,410.7 296.7,408.7 297.6,409.9 298.5,411.0 299.3,414.2 300.2,416.8 301.0,416.0 301.8,415.2 302.7,414.1 303.7,412.9 304.6,412.9 305.5,412.2 306.3,413.6 307.2,414.5 308.0,417.2 308.8,419.2 309.7,419.9 310.7,420.3 311.6,420.6 312.5,421.5 313.3,420.8 314.2,420.3 315.0,421.9 315.8,423.8 316.7,425.1 317.7,426.9 318.6,428.5 319.5,430.8 320.3,432.7 321.2,432.7 322.0,432.7 322.8,432.7 323.7,432.7 324.7,432.7 325.6,432.7 326.5,432.0 327.3,431.3 328.2,429.7 329.0,430.7 329.8,431.5 331.0,432.7 332.1,432.7 333.5,432.7 334.3,432.7 335.2,432.7 336.0,432.7 336.8,432.7 338.2,432.7 339.0,432.7 339.8,432.7 340.6,432.7 341.5,432.7 342.4,432.7 343.3,432.7 344.3,432.7 345.2,432.7 346.0,432.0 346.8,429.7 347.6,428.6 348.5,427.3 349.4,427.1 350.3,426.2 351.3,426.7 352.2,426.9 353.0,424.4 353.8,422.7 354.6,421.4 355.5,419.9 356.4,420.9 357.3,422.2 358.3,421.1 359.2,419.2 360.0,420.5 360.8,422.2 361.6,422.8 362.5,423.8 363.6,432.0 364.3,432.7 365.0,432.7 365.7,432.7 366.7,432.0 368.1,425.0 369.5,420.3 370.4,420.1 371.3,419.2 372.3,418.3 373.2,417.5 374.0,417.4 374.8,418.0 375.6,416.5 376.5,414.5 377.4,413.1 378.3,411.0 379.3,410.1 380.2,409.1 381.0,408.4 381.8,408.2 382.6,408.2 383.5,407.5 384.2,406.8 384.9,406.3 385.7,410.2 386.5,414.5 387.7,417.5 388.6,415.3 389.5,413.8 390.3,413.9 391.2,413.3 392.0,413.7 392.8,414.5 393.7,412.6 394.7,411.5 395.6,409.7 396.5,408.2 397.3,411.9 398.1,415.2 399.0,414.1 399.8,412.2 400.7,409.9 401.6,408.2 402.6,407.1 403.5,405.9 404.3,406.1 405.1,406.8 406.0,405.7 406.8,404.0 407.7,405.4 408.6,406.8 409.6,410.0 410.5,412.9 411.3,410.8 412.1,408.2 413.0,407.3 413.8,406.3 414.7,408.1 415.6,409.8 416.6,411.4 417.5,413.8 418.3,410.7 419.1,408.2 420.0,407.7 420.8,406.8 421.7,409.4 422.6,411.5 423.6,412.7 424.5,413.8 425.3,411.4 426.1,409.8 427.0,412.4 427.8,414.5 428.7,413.1 429.6,411.0 430.6,409.9 431.5,408.2 432.3,411.6 433.1,414.5 434.0,418.7 434.8,422.7 436.2,416.8 437.0,414.9 437.8,413.3 438.6,414.1 439.4,415.2 440.1,414.0 440.9,413.3 440.9,432.7" fill="url(#gg6)"/><polyline points="223.2,426.2 224.0,427.7 224.8,428.5 225.7,429.5 226.7,430.8 227.6,434.6 228.5,437.8 229.3,436.5 230.2,434.3 231.0,432.8 231.8,431.5 232.7,432.2 233.7,432.5 234.6,433.0 235.5,433.9 236.3,435.2 237.2,437.1 238.0,433.8 238.8,430.8 239.7,429.9 240.7,428.5 241.6,427.6 242.5,427.3 243.3,425.7 244.2,423.8 245.0,424.0 245.8,424.5 246.7,422.1 247.7,420.3 248.6,420.9 249.5,421.5 250.3,420.2 251.2,419.2 252.0,419.5 252.8,419.9 253.7,421.4 254.7,422.2 255.6,425.1 256.5,427.3 257.3,424.2 258.2,421.5 259.0,419.6 259.8,416.8 260.7,414.6 261.7,412.2 262.6,410.2 263.5,407.5 264.3,406.0 265.2,404.0 266.0,403.8 266.8,403.5 267.7,405.3 268.7,407.5 269.6,408.5 270.5,408.7 271.3,408.5 272.2,407.5 273.0,411.7 273.8,415.7 274.7,417.7 275.7,420.3 276.6,419.2 277.5,417.5 278.3,419.2 279.2,420.3 280.0,418.3 280.8,415.7 281.7,415.5 282.7,414.5 283.6,416.7 284.5,418.0 285.3,417.3 286.2,416.1 287.0,416.7 287.8,417.5 289.2,422.7 290.4,427.3 291.5,422.7 292.3,419.8 293.2,416.8 294.0,414.5 294.8,412.2 295.7,410.7 296.7,408.7 297.6,409.9 298.5,411.0 299.3,414.2 300.2,416.8 301.0,416.0 301.8,415.2 302.7,414.1 303.7,412.9 304.6,412.9 305.5,412.2 306.3,413.6 307.2,414.5 308.0,417.2 308.8,419.2 309.7,419.9 310.7,420.3 311.6,420.6 312.5,421.5 313.3,420.8 314.2,420.3 315.0,421.9 315.8,423.8 316.7,425.1 317.7,426.9 318.6,428.5 319.5,430.8 320.3,433.4 321.2,436.7 322.0,437.6 322.8,438.5 323.7,437.3 324.7,435.5 325.6,434.1 326.5,432.0 327.3,431.3 328.2,429.7 329.0,430.7 329.8,431.5 331.0,435.5 332.1,446.0 333.5,444.8 334.3,445.2 335.2,446.5 336.0,444.8 336.8,443.7 338.2,448.8 339.0,445.8 339.8,443.7 340.6,441.7 341.5,439.0 342.4,437.1 343.3,435.5 344.3,435.1 345.2,434.3 346.0,432.0 346.8,429.7 347.6,428.6 348.5,427.3 349.4,427.1 350.3,426.2 351.3,426.7 352.2,426.9 353.0,424.4 353.8,422.7 354.6,421.4 355.5,419.9 356.4,420.9 357.3,422.2 358.3,421.1 359.2,419.2 360.0,420.5 360.8,422.2 361.6,422.8 362.5,423.8 363.6,432.0 364.3,442.5 365.0,452.5 365.7,441.3 366.7,432.0 368.1,425.0 369.5,420.3 370.4,420.1 371.3,419.2 372.3,418.3 373.2,417.5 374.0,417.4 374.8,418.0 375.6,416.5 376.5,414.5 377.4,413.1 378.3,411.0 379.3,410.1 380.2,409.1 381.0,408.4 381.8,408.2 382.6,408.2 383.5,407.5 384.2,406.8 384.9,406.3 385.7,410.2 386.5,414.5 387.7,417.5 388.6,415.3 389.5,413.8 390.3,413.9 391.2,413.3 392.0,413.7 392.8,414.5 393.7,412.6 394.7,411.5 395.6,409.7 396.5,408.2 397.3,411.9 398.1,415.2 399.0,414.1 399.8,412.2 400.7,409.9 401.6,408.2 402.6,407.1 403.5,405.9 404.3,406.1 405.1,406.8 406.0,405.7 406.8,404.0 407.7,405.4 408.6,406.8 409.6,410.0 410.5,412.9 411.3,410.8 412.1,408.2 413.0,407.3 413.8,406.3 414.7,408.1 415.6,409.8 416.6,411.4 417.5,413.8 418.3,410.7 419.1,408.2 420.0,407.7 420.8,406.8 421.7,409.4 422.6,411.5 423.6,412.7 424.5,413.8 425.3,411.4 426.1,409.8 427.0,412.4 427.8,414.5 428.7,413.1 429.6,411.0 430.6,409.9 431.5,408.2 432.3,411.6 433.1,414.5 434.0,418.7 434.8,422.7 436.2,416.8 437.0,414.9 437.8,413.3 438.6,414.1 439.4,415.2 440.1,414.0 440.9,413.3" fill="none" stroke="#0f870f" stroke-width="1.15" stroke-linejoin="round"/></g>
<g clip-path="url(#dn6)"><polygon points="223.2,432.7 223.2,432.7 224.0,432.7 224.8,432.7 225.7,432.7 226.7,432.7 227.6,434.6 228.5,437.8 229.3,436.5 230.2,434.3 231.0,432.8 231.8,432.7 232.7,432.7 233.7,432.7 234.6,433.0 235.5,433.9 236.3,435.2 237.2,437.1 238.0,433.8 238.8,432.7 239.7,432.7 240.7,432.7 241.6,432.7 242.5,432.7 243.3,432.7 244.2,432.7 245.0,432.7 245.8,432.7 246.7,432.7 247.7,432.7 248.6,432.7 249.5,432.7 250.3,432.7 251.2,432.7 252.0,432.7 252.8,432.7 253.7,432.7 254.7,432.7 255.6,432.7 256.5,432.7 257.3,432.7 258.2,432.7 259.0,432.7 259.8,432.7 260.7,432.7 261.7,432.7 262.6,432.7 263.5,432.7 264.3,432.7 265.2,432.7 266.0,432.7 266.8,432.7 267.7,432.7 268.7,432.7 269.6,432.7 270.5,432.7 271.3,432.7 272.2,432.7 273.0,432.7 273.8,432.7 274.7,432.7 275.7,432.7 276.6,432.7 277.5,432.7 278.3,432.7 279.2,432.7 280.0,432.7 280.8,432.7 281.7,432.7 282.7,432.7 283.6,432.7 284.5,432.7 285.3,432.7 286.2,432.7 287.0,432.7 287.8,432.7 289.2,432.7 290.4,432.7 291.5,432.7 292.3,432.7 293.2,432.7 294.0,432.7 294.8,432.7 295.7,432.7 296.7,432.7 297.6,432.7 298.5,432.7 299.3,432.7 300.2,432.7 301.0,432.7 301.8,432.7 302.7,432.7 303.7,432.7 304.6,432.7 305.5,432.7 306.3,432.7 307.2,432.7 308.0,432.7 308.8,432.7 309.7,432.7 310.7,432.7 311.6,432.7 312.5,432.7 313.3,432.7 314.2,432.7 315.0,432.7 315.8,432.7 316.7,432.7 317.7,432.7 318.6,432.7 319.5,432.7 320.3,433.4 321.2,436.7 322.0,437.6 322.8,438.5 323.7,437.3 324.7,435.5 325.6,434.1 326.5,432.7 327.3,432.7 328.2,432.7 329.0,432.7 329.8,432.7 331.0,435.5 332.1,446.0 333.5,444.8 334.3,445.2 335.2,446.5 336.0,444.8 336.8,443.7 338.2,448.8 339.0,445.8 339.8,443.7 340.6,441.7 341.5,439.0 342.4,437.1 343.3,435.5 344.3,435.1 345.2,434.3 346.0,432.7 346.8,432.7 347.6,432.7 348.5,432.7 349.4,432.7 350.3,432.7 351.3,432.7 352.2,432.7 353.0,432.7 353.8,432.7 354.6,432.7 355.5,432.7 356.4,432.7 357.3,432.7 358.3,432.7 359.2,432.7 360.0,432.7 360.8,432.7 361.6,432.7 362.5,432.7 363.6,432.7 364.3,442.5 365.0,452.5 365.7,441.3 366.7,432.7 368.1,432.7 369.5,432.7 370.4,432.7 371.3,432.7 372.3,432.7 373.2,432.7 374.0,432.7 374.8,432.7 375.6,432.7 376.5,432.7 377.4,432.7 378.3,432.7 379.3,432.7 380.2,432.7 381.0,432.7 381.8,432.7 382.6,432.7 383.5,432.7 384.2,432.7 384.9,432.7 385.7,432.7 386.5,432.7 387.7,432.7 388.6,432.7 389.5,432.7 390.3,432.7 391.2,432.7 392.0,432.7 392.8,432.7 393.7,432.7 394.7,432.7 395.6,432.7 396.5,432.7 397.3,432.7 398.1,432.7 399.0,432.7 399.8,432.7 400.7,432.7 401.6,432.7 402.6,432.7 403.5,432.7 404.3,432.7 405.1,432.7 406.0,432.7 406.8,432.7 407.7,432.7 408.6,432.7 409.6,432.7 410.5,432.7 411.3,432.7 412.1,432.7 413.0,432.7 413.8,432.7 414.7,432.7 415.6,432.7 416.6,432.7 417.5,432.7 418.3,432.7 419.1,432.7 420.0,432.7 420.8,432.7 421.7,432.7 422.6,432.7 423.6,432.7 424.5,432.7 425.3,432.7 426.1,432.7 427.0,432.7 427.8,432.7 428.7,432.7 429.6,432.7 430.6,432.7 431.5,432.7 432.3,432.7 433.1,432.7 434.0,432.7 434.8,432.7 436.2,432.7 437.0,432.7 437.8,432.7 438.6,432.7 439.4,432.7 440.1,432.7 440.9,432.7 440.9,432.7" fill="url(#gr6)"/><polyline points="223.2,426.2 224.0,427.7 224.8,428.5 225.7,429.5 226.7,430.8 227.6,434.6 228.5,437.8 229.3,436.5 230.2,434.3 231.0,432.8 231.8,431.5 232.7,432.2 233.7,432.5 234.6,433.0 235.5,433.9 236.3,435.2 237.2,437.1 238.0,433.8 238.8,430.8 239.7,429.9 240.7,428.5 241.6,427.6 242.5,427.3 243.3,425.7 244.2,423.8 245.0,424.0 245.8,424.5 246.7,422.1 247.7,420.3 248.6,420.9 249.5,421.5 250.3,420.2 251.2,419.2 252.0,419.5 252.8,419.9 253.7,421.4 254.7,422.2 255.6,425.1 256.5,427.3 257.3,424.2 258.2,421.5 259.0,419.6 259.8,416.8 260.7,414.6 261.7,412.2 262.6,410.2 263.5,407.5 264.3,406.0 265.2,404.0 266.0,403.8 266.8,403.5 267.7,405.3 268.7,407.5 269.6,408.5 270.5,408.7 271.3,408.5 272.2,407.5 273.0,411.7 273.8,415.7 274.7,417.7 275.7,420.3 276.6,419.2 277.5,417.5 278.3,419.2 279.2,420.3 280.0,418.3 280.8,415.7 281.7,415.5 282.7,414.5 283.6,416.7 284.5,418.0 285.3,417.3 286.2,416.1 287.0,416.7 287.8,417.5 289.2,422.7 290.4,427.3 291.5,422.7 292.3,419.8 293.2,416.8 294.0,414.5 294.8,412.2 295.7,410.7 296.7,408.7 297.6,409.9 298.5,411.0 299.3,414.2 300.2,416.8 301.0,416.0 301.8,415.2 302.7,414.1 303.7,412.9 304.6,412.9 305.5,412.2 306.3,413.6 307.2,414.5 308.0,417.2 308.8,419.2 309.7,419.9 310.7,420.3 311.6,420.6 312.5,421.5 313.3,420.8 314.2,420.3 315.0,421.9 315.8,423.8 316.7,425.1 317.7,426.9 318.6,428.5 319.5,430.8 320.3,433.4 321.2,436.7 322.0,437.6 322.8,438.5 323.7,437.3 324.7,435.5 325.6,434.1 326.5,432.0 327.3,431.3 328.2,429.7 329.0,430.7 329.8,431.5 331.0,435.5 332.1,446.0 333.5,444.8 334.3,445.2 335.2,446.5 336.0,444.8 336.8,443.7 338.2,448.8 339.0,445.8 339.8,443.7 340.6,441.7 341.5,439.0 342.4,437.1 343.3,435.5 344.3,435.1 345.2,434.3 346.0,432.0 346.8,429.7 347.6,428.6 348.5,427.3 349.4,427.1 350.3,426.2 351.3,426.7 352.2,426.9 353.0,424.4 353.8,422.7 354.6,421.4 355.5,419.9 356.4,420.9 357.3,422.2 358.3,421.1 359.2,419.2 360.0,420.5 360.8,422.2 361.6,422.8 362.5,423.8 363.6,432.0 364.3,442.5 365.0,452.5 365.7,441.3 366.7,432.0 368.1,425.0 369.5,420.3 370.4,420.1 371.3,419.2 372.3,418.3 373.2,417.5 374.0,417.4 374.8,418.0 375.6,416.5 376.5,414.5 377.4,413.1 378.3,411.0 379.3,410.1 380.2,409.1 381.0,408.4 381.8,408.2 382.6,408.2 383.5,407.5 384.2,406.8 384.9,406.3 385.7,410.2 386.5,414.5 387.7,417.5 388.6,415.3 389.5,413.8 390.3,413.9 391.2,413.3 392.0,413.7 392.8,414.5 393.7,412.6 394.7,411.5 395.6,409.7 396.5,408.2 397.3,411.9 398.1,415.2 399.0,414.1 399.8,412.2 400.7,409.9 401.6,408.2 402.6,407.1 403.5,405.9 404.3,406.1 405.1,406.8 406.0,405.7 406.8,404.0 407.7,405.4 408.6,406.8 409.6,410.0 410.5,412.9 411.3,410.8 412.1,408.2 413.0,407.3 413.8,406.3 414.7,408.1 415.6,409.8 416.6,411.4 417.5,413.8 418.3,410.7 419.1,408.2 420.0,407.7 420.8,406.8 421.7,409.4 422.6,411.5 423.6,412.7 424.5,413.8 425.3,411.4 426.1,409.8 427.0,412.4 427.8,414.5 428.7,413.1 429.6,411.0 430.6,409.9 431.5,408.2 432.3,411.6 433.1,414.5 434.0,418.7 434.8,422.7 436.2,416.8 437.0,414.9 437.8,413.3 438.6,414.1 439.4,415.2 440.1,414.0 440.9,413.3" fill="none" stroke="#f22" stroke-width="1.1" stroke-linejoin="round"/></g>
</g>
<g clip-path="url(#c6_2)">
<polygon points="223.2,514.8 227.8,512.5 227.8,522.3 223.2,522.3" fill="url(#gk6)"/>
<polygon points="232.5,520.0 234.8,518.4 234.8,522.3 232.5,522.3" fill="url(#gk6)"/>
<polygon points="238.3,520.0 320.7,477.5 320.7,522.3 238.3,522.3" fill="url(#gk6)"/>
<polygon points="325.8,520.0 330.5,517.9 330.5,522.3 325.8,522.3" fill="url(#gk6)"/>
<polygon points="344.5,520.0 363.6,510.9 363.6,522.3 344.5,522.3" fill="url(#gk6)"/>
<polygon points="367.8,520.0 440.9,481.5 440.9,522.3 367.8,522.3" fill="url(#gk6)"/>
</g>
<linearGradient id="gg6" gradientUnits="userSpaceOnUse" x1="0" y1="401.2" x2="0" y2="432.7"><stop offset="0" stop-color="#bfe0bf"/><stop offset="1" stop-color="#88c388"/></linearGradient>
<linearGradient id="gr6" gradientUnits="userSpaceOnUse" x1="0" y1="432.7" x2="0" y2="452.4"><stop offset="0" stop-color="#ff8080"/><stop offset="1" stop-color="#ffc4c4"/></linearGradient>
<linearGradient id="gk6" gradientUnits="userSpaceOnUse" x1="0" y1="458.4" x2="0" y2="520.3"><stop offset="0" stop-color="#8c8c8c"/><stop offset="0.25" stop-color="#686868"/><stop offset="0.62" stop-color="#2b2b2b"/><stop offset="0.86" stop-color="#0c0c0c"/><stop offset="1" stop-color="#000"/></linearGradient>
<text x="227.8" y="453.5" font-size="6.5" fill="#000" font-weight="bold" text-anchor="start">Percentage Above 200-Day MA</text>
<text x="227.8" y="472.8" font-size="6.5" fill="#000" font-weight="bold" text-anchor="start">Number of Days Above 200-Day MA</text>
<path d="M222.5,397.2H477.5M222.5,458.4H477.5" stroke="#e3e3e3" stroke-width="1" fill="none"/>
<path d="M445.4,275.1V520.3" stroke="#d2d2d2" stroke-width="1" fill="none"/>
<path d="M222.5,520.3H477.5" stroke="#e3e3e3" stroke-width="1" fill="none"/>
<text x="224.5" y="532.7" font-size="12" fill="#555" font-weight="normal" text-anchor="start" textLength="27.3" lengthAdjust="spacingAndGlyphs">2024</text>
<g clip-path="url(#a6_0)">
<path d="M445.4,279h2.5" stroke="#888" stroke-width="1"/>
<text x="448.9" y="283.3" font-size="12" fill="#333" font-weight="normal" text-anchor="start">45.0</text>
<path d="M445.4,306.7h2.5" stroke="#888" stroke-width="1"/>
<text x="448.9" y="311.0" font-size="12" fill="#333" font-weight="normal" text-anchor="start">41.0</text>
<path d="M445.4,321.8h2.5" stroke="#888" stroke-width="1"/>
<text x="448.9" y="326.1" font-size="12" fill="#333" font-weight="normal" text-anchor="start">39.0</text>
<path d="M445.4,337h2.5" stroke="#888" stroke-width="1"/>
<text x="448.9" y="341.3" font-size="12" fill="#333" font-weight="normal" text-anchor="start">37.0</text>
<path d="M445.4,354h2.5" stroke="#888" stroke-width="1"/>
<text x="448.9" y="358.3" font-size="12" fill="#333" font-weight="normal" text-anchor="start">35.0</text>
<path d="M445.4,371.25h2.5" stroke="#888" stroke-width="1"/>
<text x="448.9" y="375.6" font-size="12" fill="#333" font-weight="normal" text-anchor="start">33.0</text>
<path d="M445.4,390h2.5" stroke="#888" stroke-width="1"/>
<text x="448.9" y="394.3" font-size="12" fill="#333" font-weight="normal" text-anchor="start">31.0</text>
</g>
<g clip-path="url(#a6_1)">
<path d="M445.4,410h2.5" stroke="#888" stroke-width="1"/>
<text x="448.9" y="414.3" font-size="12" fill="#333" font-weight="normal" text-anchor="start">10.0</text>
<path d="M445.4,433.6h2.5" stroke="#888" stroke-width="1"/>
<text x="448.9" y="437.9" font-size="12" fill="#333" font-weight="normal" text-anchor="start">0.0</text>
<path d="M445.4,456.7h2.5" stroke="#888" stroke-width="1"/>
<text x="448.9" y="461.0" font-size="12" fill="#333" font-weight="normal" text-anchor="start">-10.0</text>
</g>
<g clip-path="url(#a6_2)">
<path d="M445.4,475.3h2.5" stroke="#888" stroke-width="1"/>
<text x="448.9" y="479.6" font-size="12" fill="#333" font-weight="normal" text-anchor="start">200</text>
<path d="M445.4,497h2.5" stroke="#888" stroke-width="1"/>
<text x="448.9" y="501.3" font-size="12" fill="#333" font-weight="normal" text-anchor="start">100</text>
<path d="M445.4,518.9h2.5" stroke="#888" stroke-width="1"/>
<text x="448.9" y="523.2" font-size="12" fill="#333" font-weight="normal" text-anchor="start">0</text>
</g>
<rect x="448.4" y="283.5" width="27" height="16" fill="#000"/>
<text x="461.9" y="295.8" font-size="12" fill="#fff" font-weight="normal" text-anchor="middle">43.3</text>
<rect x="448.4" y="304" width="27" height="16" fill="#f00"/>
<text x="461.9" y="316.3" font-size="12" fill="#fff" font-weight="normal" text-anchor="middle">40.2</text>
<rect x="448.4" y="407" width="21" height="16" fill="#008000"/>
<text x="458.9" y="419.3" font-size="12" fill="#fff" font-weight="normal" text-anchor="middle">7.6</text>
<rect x="448.4" y="474" width="24.5" height="16" fill="#000"/>
<text x="460.6" y="486.3" font-size="12" fill="#fff" font-weight="normal" text-anchor="middle">169</text>
<rect x="465.90000000000003" y="458.9" width="10.8" height="10.8" fill="#f3f3f3" stroke="#e4e4e4" stroke-width="0.5"/>
<rect x="467.5" y="463.4" width="7.6" height="4.8" rx="0.7" fill="#757575"/><path d="M469.1,463.5v-1.3a2.2,2.2 0 0 1 4.4,0v1.3" fill="none" stroke="#757575" stroke-width="1.3"/><rect x="470.8" y="465.0" width="1" height="1.7" fill="#ddd"/>
<rect x="472.0" y="398.2" width="5.5" height="8" fill="#f4f4f4" stroke="#e2e2e2" stroke-width="0.5"/>
<path d="M475.5,400.59999999999997l-1.8,1.6l1.8,1.6" fill="none" stroke="#5a5a5a" stroke-width="0.9"/>
<rect x="482" y="275.1" width="254.60000000000002" height="260.9" rx="1.5" fill="#fff" stroke="#e3e3e3" stroke-width="1.1"/>
<text x="485.0" y="272.0" font-size="5.1" fill="#5a5a5a" font-weight="normal" text-anchor="start" textLength="140.0" lengthAdjust="spacingAndGlyphs">EWJ:US - Daily CandleStick Chart - USD - Price Returns - No Layout</text>
<clipPath id="c7_0"><rect x="482" y="275.1" width="223.70000000000005" height="122.09999999999997"/></clipPath>
<clipPath id="a7_0"><rect x="705.7" y="275.6" width="30.899999999999977" height="121.59999999999997"/></clipPath>
<clipPath id="c7_1"><rect x="482" y="397.2" width="223.70000000000005" height="61.19999999999999"/></clipPath>
<clipPath id="a7_1"><rect x="705.7" y="397.7" width="30.899999999999977" height="60.69999999999999"/></clipPath>
<clipPath id="c7_2"><rect x="482" y="458.4" width="223.70000000000005" height="61.89999999999998"/></clipPath>
<clipPath id="a7_2"><rect x="705.7" y="458.9" width="30.899999999999977" height="61.39999999999998"/></clipPath>
<g clip-path="url(#c7_0)">
<path d="M482.5,367.6L483.3,365.1L483.9,365.4L484.9,361.9M486.5,356.9L487.1,354.5L488.1,355.9L489.0,357.6M490.5,355.3L490.9,355.0L491.3,355.6L492.1,354.7M492.9,353.7L493.7,352.8L494.1,353.4L494.5,353.1L495.3,351.8M496.9,352.4L497.9,350.7L498.5,347.2M499.5,345.3L500.1,344.0L501.1,343.5M502.5,338.6L503.0,337.1L504.1,337.0M505.7,336.5L506.5,334.0L507.3,333.9L508.1,335.0M509.7,334.3L510.0,336.6L510.5,338.8L511.3,338.0M512.9,341.9L513.5,343.0L514.5,348.1L515.1,349.9L516.1,351.0M517.7,353.2L518.5,350.8L518.9,349.4L519.3,347.6L520.1,345.8M521.7,346.1L522.1,346.9L522.5,346.8L523.3,346.0M524.9,345.5L525.9,347.7L526.5,345.7L527.5,344.0M529.1,344.0L529.7,344.9L530.5,345.2L531.0,347.9L532.1,351.9M533.7,352.8L534.5,355.4L535.3,354.9L536.1,350.5M537.7,346.1L538.0,345.5L538.5,342.8L539.3,342.6M539.9,340.5L540.9,336.7M542.5,334.0L543.1,334.3L544.1,337.3M544.9,340.6L545.7,343.0L546.2,344.1L546.5,347.1L547.3,350.1M548.5,357.4L548.9,368.2L549.2,379.9L549.7,369.9L550.1,358.6M551.5,346.6L552.1,343.6L553.2,337.9L553.7,336.7L554.5,333.7M555.3,332.4L556.1,331.6L556.7,331.5M558.5,337.9L559.3,340.4L560.2,344.7L560.9,342.6M562.5,337.1L563.3,334.1L563.7,333.3L564.1,333.7M564.9,333.3L565.5,331.8L566.5,333.8L567.2,334.4M568.8,337.0L569.7,337.2L570.7,339.7L571.3,339.7M572.5,342.6L572.9,344.5L573.7,350.1L574.2,352.1M575.3,347.7L575.8,346.1L576.9,347.0M577.7,346.4L578.5,345.3L579.5,345.3M581.2,350.8L581.7,350.1L582.5,348.3L582.8,346.7L583.3,346.6M584.7,343.1L585.7,340.7L586.5,337.5M588.2,335.6L588.9,338.0L589.8,342.0L590.5,350.1L591.2,355.3M592.1,353.5L592.8,352.4L593.7,350.9M595.3,353.1L596.3,354.6L596.9,356.1M598.0,360.9L598.5,359.6L599.3,356.8L599.8,353.2M600.9,351.6L601.5,348.5L602.5,345.9L603.3,344.9M604.9,346.7L605.2,347.6L605.7,346.7L606.5,346.3L606.8,343.5L607.3,342.8M608.5,343.5L608.9,342.4L609.7,344.0M611.3,343.7L612.2,341.8L612.9,341.4M613.8,340.7L614.5,339.2L615.5,338.6L616.1,336.4M616.9,337.5L617.3,337.0L617.7,336.1L618.5,334.8M620.1,338.4L620.8,341.7L621.7,346.6L622.0,349.2M623.3,375.2L623.6,384.7L624.1,374.9L624.6,365.8L624.9,362.9M626.7,346.3L627.3,342.7L628.1,336.3L628.9,335.2M630.5,332.1L631.3,331.6L632.1,330.4M633.2,329.8L633.7,329.7L634.5,330.9L634.8,329.8M636.1,330.2L636.5,329.8L636.9,330.2L637.7,329.0M638.3,328.3L639.3,327.2L640.0,324.1L640.9,323.1M642.5,324.6L643.5,328.6L644.1,326.7L644.9,324.8M646.5,332.5L647.3,331.1L648.1,329.5L648.9,326.5M649.5,322.1L650.5,324.5M652.1,328.1L652.8,331.0L653.7,331.6L654.7,330.4M656.1,319.1L656.5,315.9L656.9,318.6L657.7,323.3L658.1,323.8M659.3,321.8L659.8,320.0L660.9,313.2M661.6,308.3L662.5,307.1L663.5,304.0M665.1,303.9L665.7,305.6L666.5,307.2L666.8,307.5L667.3,306.5L668.2,310.9M669.8,301.9L670.5,300.8L671.5,298.4L672.1,297.5M673.3,296.9L673.7,295.5L674.5,298.7L675.2,301.3M676.8,299.5L677.7,297.0L678.5,294.8M679.9,293.0L680.9,300.2L681.5,306.0L682.5,300.0M684.1,296.2L685.0,292.9L685.7,292.7L686.5,291.6M688.1,293.1L688.5,294.8L688.9,293.1L689.7,290.6L690.1,291.1L690.5,291.6M691.3,290.9L692.0,289.9L692.9,298.4M694.5,300.1L694.8,298.0L695.3,296.5L696.1,294.9L696.6,293.3L697.7,291.6M698.5,290.5L699.3,290.5L700.1,289.5" fill="none" stroke="#000" stroke-width="1.0" stroke-linejoin="miter"/>
<polyline points="482.5,367.6 483.3,365.1 483.9,365.4 484.9,361.9 485.5,359.2 486.5,356.9 487.1,354.5 488.1,355.9 489.0,357.6 489.7,357.2 490.5,355.3 490.9,355.0 491.3,355.6 492.1,354.7 492.5,355.2 492.9,353.7 493.7,352.8 494.1,353.4 494.5,353.1 495.3,351.8 496.0,352.4 496.9,352.4 497.9,350.7 498.5,347.2 499.5,345.3 500.1,344.0 501.1,343.5 501.7,341.5 502.5,338.6 503.0,337.1 504.1,337.0 504.9,336.3 505.7,336.5 506.5,334.0 507.3,333.9 508.1,335.0 508.9,334.6 509.7,334.3 510.0,336.6 510.5,338.8 511.3,338.0 511.9,338.2 512.9,341.9 513.5,343.0 514.5,348.1 515.1,349.9 516.1,351.0 517.0,353.6 517.7,353.2 518.5,350.8 518.9,349.4 519.3,347.6 520.1,345.8 520.5,345.7 520.9,343.9 521.7,346.1 522.1,346.9 522.5,346.8 523.3,346.0 524.0,344.1 524.9,345.5 525.9,347.7 526.5,345.7 527.5,344.0 528.1,343.9 529.1,344.0 529.7,344.9 530.5,345.2 531.0,347.9 532.1,351.9 532.9,352.3 533.7,352.8 534.5,355.4 535.3,354.9 536.1,350.5 536.9,349.6 537.7,346.1 538.0,345.5 538.5,342.8 539.3,342.6 539.9,340.5 540.9,336.7 541.5,335.9 542.5,334.0 543.1,334.3 544.1,337.3 544.5,338.9 544.9,340.6 545.7,343.0 546.2,344.1 546.5,347.1 547.3,350.1 548.1,353.1 548.5,357.4 548.9,368.2 549.2,379.9 549.7,369.9 550.1,358.6 550.5,354.5 551.5,346.6 552.1,343.6 553.2,337.9 553.7,336.7 554.5,333.7 554.8,332.6 555.3,332.4 556.1,331.6 556.7,331.5 557.7,334.9 558.5,337.9 559.3,340.4 560.2,344.7 560.9,342.6 561.8,339.7 562.5,337.1 563.3,334.1 563.7,333.3 564.1,333.7 564.9,333.3 565.5,331.8 566.5,333.8 567.2,334.4 568.1,335.5 568.8,337.0 569.7,337.2 570.7,339.7 571.3,339.7 572.1,341.7 572.5,342.6 572.9,344.5 573.7,350.1 574.2,352.1 574.5,349.7 575.3,347.7 575.8,346.1 576.9,347.0 577.7,346.4 578.5,345.3 579.5,345.3 580.1,347.9 581.2,350.8 581.7,350.1 582.5,348.3 582.8,346.7 583.3,346.6 584.1,345.4 584.7,343.1 585.7,340.7 586.5,337.5 587.3,335.7 588.2,335.6 588.9,338.0 589.8,342.0 590.5,350.1 591.2,355.3 592.1,353.5 592.8,352.4 593.7,350.9 594.5,349.2 595.3,353.1 596.3,354.6 596.9,356.1 598.0,360.9 598.5,359.6 599.3,356.8 599.8,353.2 600.9,351.6 601.5,348.5 602.5,345.9 603.3,344.9 604.1,345.8 604.9,346.7 605.2,347.6 605.7,346.7 606.5,346.3 606.8,343.5 607.3,342.8 608.1,344.4 608.5,343.5 608.9,342.4 609.7,344.0 610.3,342.6 611.3,343.7 612.2,341.8 612.9,341.4 613.8,340.7 614.5,339.2 615.5,338.6 616.1,336.4 616.9,337.5 617.3,337.0 617.7,336.1 618.5,334.8 619.2,333.6 620.1,338.4 620.8,341.7 621.7,346.6 622.0,349.2 622.5,356.9 622.9,363.6 623.3,375.2 623.6,384.7 624.1,374.9 624.6,365.8 624.9,362.9 625.5,354.9 626.7,346.3 627.3,342.7 628.1,336.3 628.9,335.2 629.7,331.9 630.5,332.1 631.3,331.6 632.1,330.4 632.9,331.0 633.2,329.8 633.7,329.7 634.5,330.9 634.8,329.8 635.3,330.4 636.1,330.2 636.5,329.8 636.9,330.2 637.7,329.0 638.3,328.3 639.3,327.2 640.0,324.1 640.9,323.1 641.8,325.2 642.5,324.6 643.5,328.6 644.1,326.7 644.9,324.8 645.3,324.0 645.7,326.7 646.5,332.5 647.3,331.1 648.1,329.5 648.9,326.5 649.5,322.1 650.5,324.5 651.2,327.5 652.1,328.1 652.8,331.0 653.7,331.6 654.7,330.4 655.3,326.4 656.1,319.1 656.5,315.9 656.9,318.6 657.7,323.3 658.1,323.8 658.5,323.1 659.3,321.8 659.8,320.0 660.9,313.2 661.6,308.3 662.5,307.1 663.5,304.0 664.1,305.9 665.1,303.9 665.7,305.6 666.5,307.2 666.8,307.5 667.3,306.5 668.2,310.9 668.9,305.4 669.8,301.9 670.5,300.8 671.5,298.4 672.1,297.5 672.9,297.3 673.3,296.9 673.7,295.5 674.5,298.7 675.2,301.3 676.1,300.1 676.8,299.5 677.7,297.0 678.5,294.8 679.3,293.0 679.9,293.0 680.9,300.2 681.5,306.0 682.5,300.0 683.1,296.4 684.1,296.2 685.0,292.9 685.7,292.7 686.5,291.6 686.9,289.0 687.3,290.1 688.1,293.1 688.5,294.8 688.9,293.1 689.7,290.6 690.1,291.1 690.5,291.6 691.3,290.9 692.0,289.9 692.9,298.4 693.4,301.8 694.5,300.1 694.8,298.0 695.3,296.5 696.1,294.9 696.6,293.3 697.7,291.6 698.5,290.5 699.3,290.5 700.1,289.5 700.4,287.7" fill="none" stroke="#000" stroke-width="0.25" stroke-linejoin="miter"/>
<path d="M484.87,360.60V362.88M485.50,357.69V360.55M487.13,352.32V355.42M488.07,354.88V356.51M489.67,356.26V358.05M490.87,353.08V356.05M492.50,353.42V355.67M492.87,352.69V355.51M493.67,350.24V353.48M495.27,350.78V353.22M496.00,351.12V354.69M496.87,351.16V354.08M497.87,350.03V351.58M498.47,346.14V348.29M499.50,343.87V346.02M501.13,342.74V344.11M502.47,337.61V340.07M504.07,335.59V337.92M506.50,333.49V334.88M507.27,332.39V335.22M508.87,333.10V337.44M509.67,331.87V336.96M510.47,337.63V340.02M511.27,337.54V339.97M514.47,345.80V351.33M515.13,347.41V351.07M519.27,345.21V348.06M520.07,344.33V347.05M520.87,342.85V345.50M521.67,343.83V346.59M522.13,345.92V347.63M522.47,346.05V348.08M523.27,345.45V347.32M524.87,343.59V346.37M525.86,347.16V348.23M526.47,345.16V347.30M527.50,343.08V346.06M528.07,343.05V344.72M529.13,343.16V344.83M530.47,344.74V346.45M531.00,347.02V349.74M532.86,346.93V355.15M533.67,350.54V354.75M534.50,354.73V356.28M535.27,352.26V356.78M536.13,349.12V352.61M537.67,344.79V348.14M538.00,344.69V347.21M538.47,341.86V344.52M539.86,339.44V342.03M542.47,332.93V334.93M543.13,332.30V335.97M544.07,336.60V338.42M546.16,343.24V344.90M548.07,352.58V354.56M548.50,356.08V359.59M548.87,366.29V368.98M549.20,378.60V382.37M550.13,356.15V361.00M551.53,344.52V349.19M552.07,342.51V344.03M554.47,331.56V334.16M556.07,331.14V332.59M556.66,329.38V333.37M558.53,337.30V339.11M559.27,339.90V341.98M560.87,341.56V343.06M562.47,336.12V338.44M563.66,332.47V336.27M564.07,331.89V334.16M564.87,331.65V334.05M565.53,331.06V333.07M566.47,333.12V335.68M572.87,343.25V348.59M573.67,348.58V350.72M574.16,349.90V352.87M574.47,349.14V352.50M575.79,345.22V347.09M579.53,344.76V346.21M581.16,350.26V351.62M582.47,347.85V349.41M583.27,345.44V347.11M584.07,343.41V346.64M584.66,342.47V344.69M587.27,334.41V337.73M588.16,334.77V337.17M589.79,340.84V343.00M591.19,354.56V356.17M592.07,352.73V354.23M593.67,350.31V351.42M595.27,351.68V355.12M596.87,355.30V357.29M597.96,360.27V362.36M598.47,358.03V362.05M599.27,355.78V357.27M599.83,351.67V353.70M601.46,347.23V350.56M602.47,344.60V347.45M603.33,343.00V345.98M604.07,344.92V347.74M604.87,345.29V349.58M605.19,345.80V349.29M605.67,345.26V348.76M607.27,340.46V343.85M608.07,343.32V346.00M608.87,340.51V342.89M609.67,342.56V344.71M610.32,341.49V343.81M611.27,342.87V344.42M612.87,338.39V342.47M613.82,340.04V341.41M614.47,337.03V339.63M616.07,335.46V337.78M617.32,336.06V338.27M619.19,331.83V334.15M620.07,337.78V339.34M620.82,339.99V342.15M621.67,343.86V347.56M622.47,356.42V357.95M622.92,362.50V364.27M623.27,373.14V375.86M623.62,383.63V386.00M624.07,373.77V375.39M624.56,363.17V367.33M624.87,360.34V364.07M626.66,345.81V347.90M628.06,335.78V337.05M629.69,330.55V332.97M630.47,331.48V333.45M631.32,330.37V332.92M632.07,329.84V331.02M634.82,327.79V330.42M635.27,329.71V331.53M636.87,329.63V331.00M637.67,327.05V330.00M638.32,327.68V328.86M639.27,324.01V327.97M640.87,322.16V324.90M641.82,324.35V325.69M643.46,327.47V329.69M644.07,326.15V328.98M644.87,324.33V327.09M645.67,325.57V327.56M646.49,331.70V332.98M648.12,328.19V333.08M648.87,325.59V327.82M650.47,323.19V326.53M652.07,326.66V328.99M656.07,316.18V320.47M656.52,314.65V317.58M656.87,317.98V320.41M659.27,320.79V322.34M661.65,305.93V309.93M662.47,305.88V307.66M663.52,302.83V306.20M666.79,305.46V308.45M667.27,304.79V307.00M669.82,298.99V303.68M672.07,296.83V298.52M672.87,295.94V298.97M678.45,293.56V295.81M679.85,291.67V295.24M680.87,299.49V300.90M681.49,304.99V307.87M683.12,295.85V297.59M684.07,294.71V296.64M684.99,291.84V293.45M686.47,290.97V292.53M686.85,288.16V289.51M687.27,289.07V291.90M688.07,290.84V294.30M688.87,291.49V293.57M696.65,292.69V293.96M697.67,289.22V292.29M698.52,288.29V291.16M699.27,290.06V291.45M700.39,284.73V288.53" stroke="#000" stroke-width="0.8" fill="none"/>
<polyline points="482.0,381.2 491.3,376.5 500.7,371.8 510.0,367.9 519.3,364.8 528.7,361.8 538.0,358.5 547.3,355.5 556.7,351.5 566.0,347.8 573.0,345.0 580.0,344.1 587.0,343.8 594.0,344.5 601.0,345.0 608.0,344.5 615.0,344.3 622.0,344.5 629.0,344.5 636.0,344.1 643.0,342.7 650.0,341.5 657.0,340.8 661.6,339.9 668.6,336.1 675.6,332.9 682.6,328.7 689.6,324.0 696.6,319.3 700.9,317.0" fill="none" stroke="#f62c2c" stroke-width="1.05" stroke-linejoin="round"/>
</g>
<text x="508.8" y="305.8" font-size="17.3" fill="#000" font-weight="bold" text-anchor="start" textLength="46.2" lengthAdjust="spacingAndGlyphs" stroke="#000" stroke-width="0.35">Japan</text>
<g clip-path="url(#c7_1)">
<clipPath id="up7"><rect x="482" y="397.2" width="223.70000000000005" height="34.30000000000001"/></clipPath>
<clipPath id="dn7"><rect x="482" y="431.5" width="223.70000000000005" height="26.899999999999977"/></clipPath>
<g clip-path="url(#up7)"><polygon points="482.0,431.5 482.0,421.5 482.9,420.7 483.9,419.9 484.7,417.9 485.5,415.7 486.3,416.4 487.1,417.5 488.1,417.2 489.0,416.1 489.9,417.3 490.9,418.0 491.7,417.3 492.5,416.1 493.3,416.4 494.1,416.8 495.1,416.0 496.0,414.5 496.9,414.1 497.9,413.3 498.7,412.2 499.5,411.0 500.3,409.2 501.1,408.2 502.1,407.2 503.0,406.3 503.9,408.5 504.9,409.8 505.7,408.7 506.5,407.5 507.3,406.8 508.1,406.3 509.1,408.2 510.0,409.8 510.9,410.7 511.9,412.2 512.7,413.2 513.5,414.5 514.3,417.7 515.1,420.3 516.1,421.7 517.0,423.1 517.9,422.2 518.9,421.5 519.7,420.4 520.5,418.5 521.3,420.0 522.1,421.5 523.1,419.7 524.0,418.0 524.9,419.0 525.9,420.8 526.7,420.1 527.5,419.2 528.3,418.8 529.1,418.5 530.1,419.2 531.0,420.3 531.9,422.8 532.9,424.5 533.7,426.6 534.5,428.5 535.3,427.4 536.1,426.2 537.1,424.2 538.0,421.5 538.9,419.9 539.9,418.5 540.7,417.3 541.5,415.2 542.3,415.0 543.1,414.5 544.5,418.0 545.3,420.2 546.2,422.7 547.3,420.3 548.5,431.5 549.4,431.5 550.6,431.5 552.0,425.0 552.9,422.6 553.9,420.3 554.7,420.2 555.5,419.2 556.3,419.8 557.1,420.3 558.1,424.0 559.0,428.5 559.9,427.1 560.9,425.0 561.7,423.8 562.5,422.7 563.3,422.2 564.1,422.2 565.5,419.2 566.3,420.7 567.2,422.2 568.0,422.7 568.8,423.8 569.7,424.6 570.7,425.0 571.6,426.9 572.5,428.5 573.3,431.5 574.2,431.5 575.0,431.5 575.8,431.5 576.7,431.5 577.7,431.5 578.8,428.5 580.0,431.5 580.9,431.5 581.9,431.5 582.7,431.5 583.5,431.5 584.7,429.7 585.5,427.2 586.3,425.5 587.2,425.3 588.2,425.0 589.0,427.6 589.8,429.7 590.5,431.5 591.2,431.5 592.0,431.5 592.8,431.5 593.6,431.5 594.5,431.5 595.4,431.5 596.3,431.5 597.1,431.5 598.0,431.5 598.9,431.5 599.8,431.5 600.6,431.5 601.5,431.5 602.4,431.5 603.3,431.5 604.3,431.5 605.2,431.5 606.0,431.5 606.8,430.8 607.6,429.4 608.5,428.5 609.4,429.7 610.3,430.1 611.3,430.2 612.2,429.7 613.0,430.9 613.8,431.5 614.6,429.8 615.5,428.5 616.4,426.5 617.3,425.0 618.3,424.5 619.2,424.5 620.0,425.8 620.8,427.3 622.0,431.5 622.9,431.5 623.6,431.5 624.6,431.5 625.5,431.5 626.7,431.5 628.1,429.7 628.9,427.2 629.7,425.0 630.5,424.1 631.3,422.7 632.3,422.0 633.2,421.5 634.0,422.5 634.8,422.7 635.6,421.7 636.5,421.5 637.4,420.8 638.3,420.3 639.1,419.3 640.0,417.5 640.9,418.4 641.8,419.2 642.6,420.5 643.5,421.5 644.4,420.3 645.3,418.5 646.5,425.0 647.3,424.0 648.1,422.7 649.5,417.5 650.3,419.2 651.2,421.5 652.0,422.8 652.8,425.0 653.7,426.0 654.7,426.2 655.6,420.3 656.5,414.5 657.3,417.4 658.1,420.3 659.0,418.2 659.8,416.8 660.7,413.3 661.6,409.8 662.6,407.9 663.5,406.3 664.3,406.3 665.1,406.8 666.0,408.5 666.8,409.8 667.5,411.7 668.2,413.3 669.0,410.9 669.8,408.2 670.6,407.6 671.5,406.3 672.4,406.5 673.3,405.9 674.3,407.3 675.2,408.2 676.0,408.6 676.8,409.8 677.6,408.1 678.5,406.3 679.9,404.0 680.7,410.6 681.5,416.8 682.3,412.5 683.1,407.5 684.1,406.7 685.0,405.9 685.9,406.3 686.9,406.8 687.7,407.5 688.5,408.7 689.3,407.8 690.1,407.5 691.1,408.2 692.0,408.2 693.4,419.2 694.8,415.7 695.7,413.5 696.6,412.2 697.6,412.7 698.5,412.9 699.5,412.4 700.4,411.0 700.4,431.5" fill="url(#gg7)"/><polyline points="482.0,421.5 482.9,420.7 483.9,419.9 484.7,417.9 485.5,415.7 486.3,416.4 487.1,417.5 488.1,417.2 489.0,416.1 489.9,417.3 490.9,418.0 491.7,417.3 492.5,416.1 493.3,416.4 494.1,416.8 495.1,416.0 496.0,414.5 496.9,414.1 497.9,413.3 498.7,412.2 499.5,411.0 500.3,409.2 501.1,408.2 502.1,407.2 503.0,406.3 503.9,408.5 504.9,409.8 505.7,408.7 506.5,407.5 507.3,406.8 508.1,406.3 509.1,408.2 510.0,409.8 510.9,410.7 511.9,412.2 512.7,413.2 513.5,414.5 514.3,417.7 515.1,420.3 516.1,421.7 517.0,423.1 517.9,422.2 518.9,421.5 519.7,420.4 520.5,418.5 521.3,420.0 522.1,421.5 523.1,419.7 524.0,418.0 524.9,419.0 525.9,420.8 526.7,420.1 527.5,419.2 528.3,418.8 529.1,418.5 530.1,419.2 531.0,420.3 531.9,422.8 532.9,424.5 533.7,426.6 534.5,428.5 535.3,427.4 536.1,426.2 537.1,424.2 538.0,421.5 538.9,419.9 539.9,418.5 540.7,417.3 541.5,415.2 542.3,415.0 543.1,414.5 544.5,418.0 545.3,420.2 546.2,422.7 547.3,420.3 548.5,432.0 549.4,440.2 550.6,434.3 552.0,425.0 552.9,422.6 553.9,420.3 554.7,420.2 555.5,419.2 556.3,419.8 557.1,420.3 558.1,424.0 559.0,428.5 559.9,427.1 560.9,425.0 561.7,423.8 562.5,422.7 563.3,422.2 564.1,422.2 565.5,419.2 566.3,420.7 567.2,422.2 568.0,422.7 568.8,423.8 569.7,424.6 570.7,425.0 571.6,426.9 572.5,428.5 573.3,432.3 574.2,436.2 575.0,434.7 575.8,433.2 576.7,432.4 577.7,432.0 578.8,428.5 580.0,433.2 580.9,434.5 581.9,435.5 582.7,435.2 583.5,434.3 584.7,429.7 585.5,427.2 586.3,425.5 587.2,425.3 588.2,425.0 589.0,427.6 589.8,429.7 590.5,434.8 591.2,439.0 592.0,438.3 592.8,437.1 593.6,437.1 594.5,436.2 595.4,437.1 596.3,437.8 597.1,439.9 598.0,441.3 598.9,439.2 599.8,436.7 600.6,435.0 601.5,433.9 602.4,433.1 603.3,432.0 604.3,432.7 605.2,433.2 606.0,432.0 606.8,430.8 607.6,429.4 608.5,428.5 609.4,429.7 610.3,430.1 611.3,430.2 612.2,429.7 613.0,430.9 613.8,431.5 614.6,429.8 615.5,428.5 616.4,426.5 617.3,425.0 618.3,424.5 619.2,424.5 620.0,425.8 620.8,427.3 622.0,434.3 622.9,443.7 623.6,451.8 624.6,444.8 625.5,440.2 626.7,436.7 628.1,429.7 628.9,427.2 629.7,425.0 630.5,424.1 631.3,422.7 632.3,422.0 633.2,421.5 634.0,422.5 634.8,422.7 635.6,421.7 636.5,421.5 637.4,420.8 638.3,420.3 639.1,419.3 640.0,417.5 640.9,418.4 641.8,419.2 642.6,420.5 643.5,421.5 644.4,420.3 645.3,418.5 646.5,425.0 647.3,424.0 648.1,422.7 649.5,417.5 650.3,419.2 651.2,421.5 652.0,422.8 652.8,425.0 653.7,426.0 654.7,426.2 655.6,420.3 656.5,414.5 657.3,417.4 658.1,420.3 659.0,418.2 659.8,416.8 660.7,413.3 661.6,409.8 662.6,407.9 663.5,406.3 664.3,406.3 665.1,406.8 666.0,408.5 666.8,409.8 667.5,411.7 668.2,413.3 669.0,410.9 669.8,408.2 670.6,407.6 671.5,406.3 672.4,406.5 673.3,405.9 674.3,407.3 675.2,408.2 676.0,408.6 676.8,409.8 677.6,408.1 678.5,406.3 679.9,404.0 680.7,410.6 681.5,416.8 682.3,412.5 683.1,407.5 684.1,406.7 685.0,405.9 685.9,406.3 686.9,406.8 687.7,407.5 688.5,408.7 689.3,407.8 690.1,407.5 691.1,408.2 692.0,408.2 693.4,419.2 694.8,415.7 695.7,413.5 696.6,412.2 697.6,412.7 698.5,412.9 699.5,412.4 700.4,411.0" fill="none" stroke="#0f870f" stroke-width="1.15" stroke-linejoin="round"/></g>
<g clip-path="url(#dn7)"><polygon points="482.0,431.5 482.0,431.5 482.9,431.5 483.9,431.5 484.7,431.5 485.5,431.5 486.3,431.5 487.1,431.5 488.1,431.5 489.0,431.5 489.9,431.5 490.9,431.5 491.7,431.5 492.5,431.5 493.3,431.5 494.1,431.5 495.1,431.5 496.0,431.5 496.9,431.5 497.9,431.5 498.7,431.5 499.5,431.5 500.3,431.5 501.1,431.5 502.1,431.5 503.0,431.5 503.9,431.5 504.9,431.5 505.7,431.5 506.5,431.5 507.3,431.5 508.1,431.5 509.1,431.5 510.0,431.5 510.9,431.5 511.9,431.5 512.7,431.5 513.5,431.5 514.3,431.5 515.1,431.5 516.1,431.5 517.0,431.5 517.9,431.5 518.9,431.5 519.7,431.5 520.5,431.5 521.3,431.5 522.1,431.5 523.1,431.5 524.0,431.5 524.9,431.5 525.9,431.5 526.7,431.5 527.5,431.5 528.3,431.5 529.1,431.5 530.1,431.5 531.0,431.5 531.9,431.5 532.9,431.5 533.7,431.5 534.5,431.5 535.3,431.5 536.1,431.5 537.1,431.5 538.0,431.5 538.9,431.5 539.9,431.5 540.7,431.5 541.5,431.5 542.3,431.5 543.1,431.5 544.5,431.5 545.3,431.5 546.2,431.5 547.3,431.5 548.5,432.0 549.4,440.2 550.6,434.3 552.0,431.5 552.9,431.5 553.9,431.5 554.7,431.5 555.5,431.5 556.3,431.5 557.1,431.5 558.1,431.5 559.0,431.5 559.9,431.5 560.9,431.5 561.7,431.5 562.5,431.5 563.3,431.5 564.1,431.5 565.5,431.5 566.3,431.5 567.2,431.5 568.0,431.5 568.8,431.5 569.7,431.5 570.7,431.5 571.6,431.5 572.5,431.5 573.3,432.3 574.2,436.2 575.0,434.7 575.8,433.2 576.7,432.4 577.7,432.0 578.8,431.5 580.0,433.2 580.9,434.5 581.9,435.5 582.7,435.2 583.5,434.3 584.7,431.5 585.5,431.5 586.3,431.5 587.2,431.5 588.2,431.5 589.0,431.5 589.8,431.5 590.5,434.8 591.2,439.0 592.0,438.3 592.8,437.1 593.6,437.1 594.5,436.2 595.4,437.1 596.3,437.8 597.1,439.9 598.0,441.3 598.9,439.2 599.8,436.7 600.6,435.0 601.5,433.9 602.4,433.1 603.3,432.0 604.3,432.7 605.2,433.2 606.0,432.0 606.8,431.5 607.6,431.5 608.5,431.5 609.4,431.5 610.3,431.5 611.3,431.5 612.2,431.5 613.0,431.5 613.8,431.5 614.6,431.5 615.5,431.5 616.4,431.5 617.3,431.5 618.3,431.5 619.2,431.5 620.0,431.5 620.8,431.5 622.0,434.3 622.9,443.7 623.6,451.8 624.6,444.8 625.5,440.2 626.7,436.7 628.1,431.5 628.9,431.5 629.7,431.5 630.5,431.5 631.3,431.5 632.3,431.5 633.2,431.5 634.0,431.5 634.8,431.5 635.6,431.5 636.5,431.5 637.4,431.5 638.3,431.5 639.1,431.5 640.0,431.5 640.9,431.5 641.8,431.5 642.6,431.5 643.5,431.5 644.4,431.5 645.3,431.5 646.5,431.5 647.3,431.5 648.1,431.5 649.5,431.5 650.3,431.5 651.2,431.5 652.0,431.5 652.8,431.5 653.7,431.5 654.7,431.5 655.6,431.5 656.5,431.5 657.3,431.5 658.1,431.5 659.0,431.5 659.8,431.5 660.7,431.5 661.6,431.5 662.6,431.5 663.5,431.5 664.3,431.5 665.1,431.5 666.0,431.5 666.8,431.5 667.5,431.5 668.2,431.5 669.0,431.5 669.8,431.5 670.6,431.5 671.5,431.5 672.4,431.5 673.3,431.5 674.3,431.5 675.2,431.5 676.0,431.5 676.8,431.5 677.6,431.5 678.5,431.5 679.9,431.5 680.7,431.5 681.5,431.5 682.3,431.5 683.1,431.5 684.1,431.5 685.0,431.5 685.9,431.5 686.9,431.5 687.7,431.5 688.5,431.5 689.3,431.5 690.1,431.5 691.1,431.5 692.0,431.5 693.4,431.5 694.8,431.5 695.7,431.5 696.6,431.5 697.6,431.5 698.5,431.5 699.5,431.5 700.4,431.5 700.4,431.5" fill="url(#gr7)"/><polyline points="482.0,421.5 482.9,420.7 483.9,419.9 484.7,417.9 485.5,415.7 486.3,416.4 487.1,417.5 488.1,417.2 489.0,416.1 489.9,417.3 490.9,418.0 491.7,417.3 492.5,416.1 493.3,416.4 494.1,416.8 495.1,416.0 496.0,414.5 496.9,414.1 497.9,413.3 498.7,412.2 499.5,411.0 500.3,409.2 501.1,408.2 502.1,407.2 503.0,406.3 503.9,408.5 504.9,409.8 505.7,408.7 506.5,407.5 507.3,406.8 508.1,406.3 509.1,408.2 510.0,409.8 510.9,410.7 511.9,412.2 512.7,413.2 513.5,414.5 514.3,417.7 515.1,420.3 516.1,421.7 517.0,423.1 517.9,422.2 518.9,421.5 519.7,420.4 520.5,418.5 521.3,420.0 522.1,421.5 523.1,419.7 524.0,418.0 524.9,419.0 525.9,420.8 526.7,420.1 527.5,419.2 528.3,418.8 529.1,418.5 530.1,419.2 531.0,420.3 531.9,422.8 532.9,424.5 533.7,426.6 534.5,428.5 535.3,427.4 536.1,426.2 537.1,424.2 538.0,421.5 538.9,419.9 539.9,418.5 540.7,417.3 541.5,415.2 542.3,415.0 543.1,414.5 544.5,418.0 545.3,420.2 546.2,422.7 547.3,420.3 548.5,432.0 549.4,440.2 550.6,434.3 552.0,425.0 552.9,422.6 553.9,420.3 554.7,420.2 555.5,419.2 556.3,419.8 557.1,420.3 558.1,424.0 559.0,428.5 559.9,427.1 560.9,425.0 561.7,423.8 562.5,422.7 563.3,422.2 564.1,422.2 565.5,419.2 566.3,420.7 567.2,422.2 568.0,422.7 568.8,423.8 569.7,424.6 570.7,425.0 571.6,426.9 572.5,428.5 573.3,432.3 574.2,436.2 575.0,434.7 575.8,433.2 576.7,432.4 577.7,432.0 578.8,428.5 580.0,433.2 580.9,434.5 581.9,435.5 582.7,435.2 583.5,434.3 584.7,429.7 585.5,427.2 586.3,425.5 587.2,425.3 588.2,425.0 589.0,427.6 589.8,429.7 590.5,434.8 591.2,439.0 592.0,438.3 592.8,437.1 593.6,437.1 594.5,436.2 595.4,437.1 596.3,437.8 597.1,439.9 598.0,441.3 598.9,439.2 599.8,436.7 600.6,435.0 601.5,433.9 602.4,433.1 603.3,432.0 604.3,432.7 605.2,433.2 606.0,432.0 606.8,430.8 607.6,429.4 608.5,428.5 609.4,429.7 610.3,430.1 611.3,430.2 612.2,429.7 613.0,430.9 613.8,431.5 614.6,429.8 615.5,428.5 616.4,426.5 617.3,425.0 618.3,424.5 619.2,424.5 620.0,425.8 620.8,427.3 622.0,434.3 622.9,443.7 623.6,451.8 624.6,444.8 625.5,440.2 626.7,436.7 628.1,429.7 628.9,427.2 629.7,425.0 630.5,424.1 631.3,422.7 632.3,422.0 633.2,421.5 634.0,422.5 634.8,422.7 635.6,421.7 636.5,421.5 637.4,420.8 638.3,420.3 639.1,419.3 640.0,417.5 640.9,418.4 641.8,419.2 642.6,420.5 643.5,421.5 644.4,420.3 645.3,418.5 646.5,425.0 647.3,424.0 648.1,422.7 649.5,417.5 650.3,419.2 651.2,421.5 652.0,422.8 652.8,425.0 653.7,426.0 654.7,426.2 655.6,420.3 656.5,414.5 657.3,417.4 658.1,420.3 659.0,418.2 659.8,416.8 660.7,413.3 661.6,409.8 662.6,407.9 663.5,406.3 664.3,406.3 665.1,406.8 666.0,408.5 666.8,409.8 667.5,411.7 668.2,413.3 669.0,410.9 669.8,408.2 670.6,407.6 671.5,406.3 672.4,406.5 673.3,405.9 674.3,407.3 675.2,408.2 676.0,408.6 676.8,409.8 677.6,408.1 678.5,406.3 679.9,404.0 680.7,410.6 681.5,416.8 682.3,412.5 683.1,407.5 684.1,406.7 685.0,405.9 685.9,406.3 686.9,406.8 687.7,407.5 688.5,408.7 689.3,407.8 690.1,407.5 691.1,408.2 692.0,408.2 693.4,419.2 694.8,415.7 695.7,413.5 696.6,412.2 697.6,412.7 698.5,412.9 699.5,412.4 700.4,411.0" fill="none" stroke="#f22" stroke-width="1.1" stroke-linejoin="round"/></g>
</g>
<g clip-path="url(#c7_2)">
<polygon points="481.0,513.0 548.5,479.8 548.5,522.3 481.0,522.3" fill="url(#gk7)"/>
<polygon points="552.0,520.0 573.5,509.5 573.5,522.3 552.0,522.3" fill="url(#gk7)"/>
<polygon points="577.7,520.0 580.0,518.4 580.0,522.3 577.7,522.3" fill="url(#gk7)"/>
<polygon points="585.8,520.0 589.8,517.9 589.8,522.3 585.8,522.3" fill="url(#gk7)"/>
<polygon points="604.5,520.0 608.0,518.8 608.0,522.3 604.5,522.3" fill="url(#gk7)"/>
<polygon points="616.2,520.0 621.5,517.2 621.5,522.3 616.2,522.3" fill="url(#gk7)"/>
<polygon points="627.8,520.0 700.4,483.8 700.4,522.3 627.8,522.3" fill="url(#gk7)"/>
</g>
<linearGradient id="gg7" gradientUnits="userSpaceOnUse" x1="0" y1="401.2" x2="0" y2="431.5"><stop offset="0" stop-color="#bfe0bf"/><stop offset="1" stop-color="#88c388"/></linearGradient>
<linearGradient id="gr7" gradientUnits="userSpaceOnUse" x1="0" y1="431.5" x2="0" y2="452.4"><stop offset="0" stop-color="#ff8080"/><stop offset="1" stop-color="#ffc4c4"/></linearGradient>
<linearGradient id="gk7" gradientUnits="userSpaceOnUse" x1="0" y1="458.4" x2="0" y2="520.3"><stop offset="0" stop-color="#8c8c8c"/><stop offset="0.25" stop-color="#686868"/><stop offset="0.62" stop-color="#2b2b2b"/><stop offset="0.86" stop-color="#0c0c0c"/><stop offset="1" stop-color="#000"/></linearGradient>
<text x="486.7" y="456.1" font-size="6.5" fill="#000" font-weight="bold" text-anchor="start">Percentage Above 200-Day MA</text>
<text x="486.2" y="472.8" font-size="6.5" fill="#000" font-weight="bold" text-anchor="start">Number of Days Above 200-Day MA</text>
<path d="M482,397.2H736.6M482,458.4H736.6" stroke="#e3e3e3" stroke-width="1" fill="none"/>
<path d="M705.7,275.1V520.3" stroke="#d2d2d2" stroke-width="1" fill="none"/>
<path d="M482,520.3H736.6" stroke="#e3e3e3" stroke-width="1" fill="none"/>
<text x="484.3" y="532.7" font-size="12" fill="#555" font-weight="normal" text-anchor="start" textLength="27.3" lengthAdjust="spacingAndGlyphs">2024</text>
<g clip-path="url(#a7_0)">
<path d="M705.7,282.3h2.5" stroke="#888" stroke-width="1"/>
<text x="709.2" y="286.6" font-size="12" fill="#333" font-weight="normal" text-anchor="start">86.0</text>
<path d="M705.7,295.6h2.5" stroke="#888" stroke-width="1"/>
<text x="709.2" y="299.9" font-size="12" fill="#333" font-weight="normal" text-anchor="start">82.0</text>
<path d="M705.7,308h2.5" stroke="#888" stroke-width="1"/>
<text x="709.2" y="312.3" font-size="12" fill="#333" font-weight="normal" text-anchor="start">78.0</text>
<path d="M705.7,325.5h2.5" stroke="#888" stroke-width="1"/>
<text x="709.2" y="329.8" font-size="12" fill="#333" font-weight="normal" text-anchor="start">74.0</text>
<path d="M705.7,340.75h2.5" stroke="#888" stroke-width="1"/>
<text x="709.2" y="345.1" font-size="12" fill="#333" font-weight="normal" text-anchor="start">70.0</text>
<path d="M705.7,357h2.5" stroke="#888" stroke-width="1"/>
<text x="709.2" y="361.3" font-size="12" fill="#333" font-weight="normal" text-anchor="start">66.0</text>
<path d="M705.7,370.75h2.5" stroke="#888" stroke-width="1"/>
<text x="709.2" y="375.1" font-size="12" fill="#333" font-weight="normal" text-anchor="start">63.0</text>
<path d="M705.7,384.5h2.5" stroke="#888" stroke-width="1"/>
<text x="709.2" y="388.8" font-size="12" fill="#333" font-weight="normal" text-anchor="start">60.0</text>
<path d="M705.7,398.5h2.5" stroke="#888" stroke-width="1"/>
<text x="709.2" y="402.8" font-size="12" fill="#333" font-weight="normal" text-anchor="start">57.0</text>
</g>
<g clip-path="url(#a7_1)">
<path d="M705.7,413.3h2.5" stroke="#888" stroke-width="1"/>
<text x="709.2" y="417.6" font-size="12" fill="#333" font-weight="normal" text-anchor="start">10.0</text>
<path d="M705.7,432.2h2.5" stroke="#888" stroke-width="1"/>
<text x="709.2" y="436.5" font-size="12" fill="#333" font-weight="normal" text-anchor="start">0.0</text>
<path d="M705.7,449.7h2.5" stroke="#888" stroke-width="1"/>
<text x="709.2" y="454.0" font-size="12" fill="#333" font-weight="normal" text-anchor="start">-10.0</text>
</g>
<g clip-path="url(#a7_2)">
<path d="M705.7,475.8h2.5" stroke="#888" stroke-width="1"/>
<text x="709.2" y="480.1" font-size="12" fill="#333" font-weight="normal" text-anchor="start">200</text>
<path d="M705.7,497.8h2.5" stroke="#888" stroke-width="1"/>
<text x="709.2" y="502.1" font-size="12" fill="#333" font-weight="normal" text-anchor="start">100</text>
<path d="M705.7,519.6h2.5" stroke="#888" stroke-width="1"/>
<text x="709.2" y="523.9" font-size="12" fill="#333" font-weight="normal" text-anchor="start">0</text>
</g>
<rect x="708.7" y="281.2" width="27" height="16" fill="#000"/>
<text x="722.2" y="293.5" font-size="12" fill="#fff" font-weight="normal" text-anchor="middle">84.0</text>
<rect x="708.7" y="309.3" width="27" height="16" fill="#f00"/>
<text x="722.2" y="321.6" font-size="12" fill="#fff" font-weight="normal" text-anchor="middle">75.9</text>
<rect x="708.7" y="404" width="26" height="16" fill="#008000"/>
<text x="721.7" y="416.3" font-size="12" fill="#fff" font-weight="normal" text-anchor="middle">10.6</text>
<rect x="708.7" y="475.7" width="24" height="16" fill="#000"/>
<text x="720.7" y="488.0" font-size="12" fill="#fff" font-weight="normal" text-anchor="middle">164</text>
<rect x="725.0" y="458.9" width="10.8" height="10.8" fill="#f3f3f3" stroke="#e4e4e4" stroke-width="0.5"/>
<rect x="726.6" y="463.4" width="7.6" height="4.8" rx="0.7" fill="#757575"/><path d="M728.1999999999999,463.5v-1.3a2.2,2.2 0 0 1 4.4,0v1.3" fill="none" stroke="#757575" stroke-width="1.3"/><rect x="729.9" y="465.0" width="1" height="1.7" fill="#ddd"/>
<rect x="731.1" y="398.2" width="5.5" height="8" fill="#f4f4f4" stroke="#e2e2e2" stroke-width="0.5"/>
<path d="M734.6,400.59999999999997l-1.8,1.6l1.8,1.6" fill="none" stroke="#5a5a5a" stroke-width="0.9"/>
<rect x="742" y="275.1" width="255" height="260.9" rx="1.5" fill="#fff" stroke="#e3e3e3" stroke-width="1.1"/>
<text x="745.0" y="272.0" font-size="5.1" fill="#5a5a5a" font-weight="normal" text-anchor="start" textLength="142.0" lengthAdjust="spacingAndGlyphs">EWC:US - Daily CandleStick Chart - USD - Price Returns - No Layout</text>
<clipPath id="c8_0"><rect x="742" y="275.1" width="217.29999999999995" height="122.09999999999997"/></clipPath>
<clipPath id="a8_0"><rect x="959.3" y="275.6" width="37.700000000000045" height="121.59999999999997"/></clipPath>
<clipPath id="c8_1"><rect x="742" y="397.2" width="217.29999999999995" height="61.19999999999999"/></clipPath>
<clipPath id="a8_1"><rect x="959.3" y="397.7" width="37.700000000000045" height="60.69999999999999"/></clipPath>
<clipPath id="c8_2"><rect x="742" y="458.4" width="217.29999999999995" height="61.89999999999998"/></clipPath>
<clipPath id="a8_2"><rect x="959.3" y="458.9" width="37.700000000000045" height="61.39999999999998"/></clipPath>
<g clip-path="url(#c8_0)">
<path d="M742.2,373.8L743.0,376.1L743.9,377.3M744.6,376.7L745.4,377.6L745.8,375.2M747.0,376.1L747.6,379.6L748.6,377.5M750.2,377.6L751.0,379.0L751.8,376.7L752.8,375.2M754.2,374.4L754.7,377.5L755.0,379.9L755.8,384.0M757.4,378.1L758.0,375.6L759.0,373.3L759.9,373.0M760.6,371.3L761.4,370.1L761.8,371.1L762.2,370.3M763.0,370.8L763.4,369.3L763.8,367.8L764.6,370.5L765.1,369.5M766.2,365.3L767.0,365.6L767.8,365.7L768.8,366.1M770.5,364.8L771.0,365.0L771.8,363.6M773.4,368.4L774.0,370.9L775.0,373.4M775.9,374.2L776.6,370.6L777.5,369.0L778.2,370.7M779.2,372.8L779.8,368.9L780.6,367.3L781.1,366.5M783.0,364.2L783.8,366.6L784.6,366.5L785.4,365.8M787.0,364.8L787.8,366.6L788.1,366.4L788.6,365.7L789.4,366.5M791.0,370.4L791.7,372.2L792.6,375.5L793.3,375.8M795.2,376.8L795.8,374.2L796.6,372.9M797.4,370.8L798.2,369.4L798.7,368.1L799.8,365.3M801.4,364.4L802.3,362.4L803.0,364.4L803.9,366.2M805.6,362.7L806.2,366.3L807.0,370.2L807.9,379.9M809.3,369.6L810.2,365.9L811.2,361.8M811.8,358.8L812.9,356.0L813.4,356.3M814.5,354.6L815.0,356.9L815.8,356.9L816.4,358.4L817.4,357.4M818.3,354.5L819.0,353.4L819.9,350.7L820.6,349.4M822.2,347.9L823.0,346.7L823.5,346.3L823.8,346.7L824.6,347.8M825.3,346.7L826.2,347.7L827.0,349.1M827.8,346.4L828.6,344.7L829.4,346.9M830.5,344.5L831.0,344.8L831.8,347.0L832.4,346.9M833.4,349.1L834.0,349.5L835.0,348.2M836.6,344.0L837.6,343.4L838.2,344.5L839.0,345.6M840.6,341.2L841.1,340.5L841.4,341.4L842.2,338.2L842.8,338.1M844.6,338.5L845.4,339.9L846.5,341.2M847.9,343.4L848.9,355.7L849.4,353.5L850.5,351.4M851.8,354.0L852.2,354.2L852.6,351.7L853.4,350.6L854.1,351.0M855.0,349.9L855.9,351.6L856.6,347.5L857.6,345.6M859.2,347.8L859.8,347.6L860.6,345.6M861.4,345.6L862.2,344.9L863.0,345.5M864.6,342.8L865.4,341.2L866.3,342.3M867.8,344.7L868.2,345.8L868.6,348.4L869.4,350.5L870.1,352.2M871.7,355.1L872.6,356.8L873.4,358.3M874.2,352.4L874.8,350.4L875.8,347.2L876.4,345.6M877.4,349.2L878.1,350.1L879.0,352.6L879.5,354.2M880.4,362.1L881.4,372.6L882.3,359.4M883.8,350.8L884.6,349.1L885.1,347.2M887.0,342.8L887.8,341.6L888.9,339.9L889.4,339.3M890.5,337.1L891.0,335.4L891.8,335.5L892.2,335.3L892.6,335.0L893.4,334.5M895.0,328.3L896.0,328.8L896.6,327.4L897.6,326.6M899.2,325.5L899.8,327.4L900.6,327.0L901.1,325.2M903.0,327.9L903.8,325.5L904.7,324.6L905.4,322.6M906.3,323.0L907.0,322.5L907.8,321.6M909.4,322.5L910.1,322.7L911.0,319.3L911.7,321.0M913.4,318.7L914.2,321.3L915.3,323.5L915.8,323.5M917.1,319.1L918.2,318.9M919.8,316.8L920.4,316.6L921.4,318.6L922.3,318.5M923.0,316.1L923.8,314.2L924.2,314.4M925.4,313.4L925.9,310.6L926.2,310.6L927.0,308.6M927.8,307.0L928.6,305.2L929.4,303.8M931.3,302.8L931.8,302.5L932.9,303.2M934.2,299.3L934.6,300.9L935.0,300.9L935.8,301.4M937.4,301.4L938.3,300.8L939.0,301.2L940.0,304.1M941.6,299.6L942.2,300.2L943.0,304.2L943.5,305.9L943.8,303.6M945.2,301.3L946.2,300.3L946.8,297.8L947.8,303.6M949.4,298.7L949.9,297.5L950.2,296.6L951.0,294.8L951.5,294.9L951.8,294.7M952.6,292.8L953.4,292.2L954.2,290.5L955.3,287.4" fill="none" stroke="#000" stroke-width="1.0" stroke-linejoin="miter"/>
<polyline points="742.2,373.8 743.0,376.1 743.9,377.3 744.6,376.7 745.4,377.6 745.8,375.2 746.2,375.8 747.0,376.1 747.6,379.6 748.6,377.5 749.3,376.0 750.2,377.6 751.0,379.0 751.8,376.7 752.8,375.2 753.4,375.5 754.2,374.4 754.7,377.5 755.0,379.9 755.8,384.0 756.4,383.5 757.4,378.1 758.0,375.6 759.0,373.3 759.9,373.0 760.6,371.3 761.4,370.1 761.8,371.1 762.2,370.3 763.0,370.8 763.4,369.3 763.8,367.8 764.6,370.5 765.1,369.5 765.4,369.2 766.2,365.3 767.0,365.6 767.8,365.7 768.8,366.1 769.4,364.9 770.5,364.8 771.0,365.0 771.8,363.6 772.1,365.1 772.6,366.9 773.4,368.4 774.0,370.9 775.0,373.4 775.9,374.2 776.6,370.6 777.5,369.0 778.2,370.7 779.2,372.8 779.8,368.9 780.6,367.3 781.1,366.5 781.4,365.2 782.2,364.7 783.0,364.2 783.8,366.6 784.6,366.5 785.4,365.8 786.3,364.4 787.0,364.8 787.8,366.6 788.1,366.4 788.6,365.7 789.4,366.5 790.0,367.3 791.0,370.4 791.7,372.2 792.6,375.5 793.3,375.8 794.2,378.0 795.2,376.8 795.8,374.2 796.6,372.9 797.1,371.6 797.4,370.8 798.2,369.4 798.7,368.1 799.8,365.3 800.4,364.9 801.4,364.4 802.3,362.4 803.0,364.4 803.9,366.2 804.6,363.7 805.6,362.7 806.2,366.3 807.0,370.2 807.9,379.9 808.6,373.6 809.3,369.6 810.2,365.9 811.2,361.8 811.8,358.8 812.9,356.0 813.4,356.3 814.5,354.6 815.0,356.9 815.8,356.9 816.4,358.4 817.4,357.4 818.3,354.5 819.0,353.4 819.9,350.7 820.6,349.4 821.6,348.8 822.2,347.9 823.0,346.7 823.5,346.3 823.8,346.7 824.6,347.8 825.3,346.7 826.2,347.7 827.0,349.1 827.8,346.4 828.6,344.7 829.4,346.9 830.5,344.5 831.0,344.8 831.8,347.0 832.4,346.9 833.4,349.1 834.0,349.5 835.0,348.2 835.7,346.1 836.6,344.0 837.6,343.4 838.2,344.5 839.0,345.6 839.5,344.8 839.8,343.6 840.6,341.2 841.1,340.5 841.4,341.4 842.2,338.2 842.8,338.1 843.8,339.6 844.6,338.5 845.4,339.9 846.5,341.2 847.0,342.6 847.9,343.4 848.9,355.7 849.4,353.5 850.5,351.4 851.0,352.7 851.8,354.0 852.2,354.2 852.6,351.7 853.4,350.6 854.1,351.0 855.0,349.9 855.9,351.6 856.6,347.5 857.6,345.6 858.2,346.2 859.2,347.8 859.8,347.6 860.6,345.6 861.1,343.7 861.4,345.6 862.2,344.9 863.0,345.5 863.8,344.8 864.6,342.8 865.4,341.2 866.3,342.3 867.0,344.2 867.8,344.7 868.2,345.8 868.6,348.4 869.4,350.5 870.1,352.2 871.0,353.2 871.7,355.1 872.6,356.8 873.4,358.3 874.2,352.4 874.8,350.4 875.8,347.2 876.4,345.6 877.4,349.2 878.1,350.1 879.0,352.6 879.5,354.2 879.8,359.0 880.4,362.1 881.4,372.6 882.3,359.4 883.0,353.9 883.5,352.1 883.8,350.8 884.6,349.1 885.1,347.2 885.4,344.8 886.2,345.6 887.0,342.8 887.8,341.6 888.9,339.9 889.4,339.3 890.2,336.6 890.5,337.1 891.0,335.4 891.8,335.5 892.2,335.3 892.6,335.0 893.4,334.5 894.1,331.5 895.0,328.3 896.0,328.8 896.6,327.4 897.6,326.6 898.2,327.2 899.2,325.5 899.8,327.4 900.6,327.0 901.1,325.2 902.2,329.7 903.0,327.9 903.8,325.5 904.7,324.6 905.4,322.6 906.3,323.0 907.0,322.5 907.8,321.6 908.2,322.3 908.6,323.0 909.4,322.5 910.1,322.7 911.0,319.3 911.7,321.0 912.6,320.9 913.4,318.7 914.2,321.3 915.3,323.5 915.8,323.5 916.6,320.4 917.1,319.1 918.2,318.9 918.8,317.8 919.8,316.8 920.4,316.6 921.4,318.6 922.3,318.5 923.0,316.1 923.8,314.2 924.2,314.4 924.6,313.3 925.4,313.4 925.9,310.6 926.2,310.6 927.0,308.6 927.5,307.9 927.8,307.0 928.6,305.2 929.4,303.8 930.2,302.2 931.3,302.8 931.8,302.5 932.9,303.2 933.4,301.7 934.2,299.3 934.6,300.9 935.0,300.9 935.8,301.4 936.5,302.8 937.4,301.4 938.3,300.8 939.0,301.2 940.0,304.1 940.6,302.1 941.6,299.6 942.2,300.2 943.0,304.2 943.5,305.9 943.8,303.6 944.6,302.6 945.2,301.3 946.2,300.3 946.8,297.8 947.8,303.6 948.2,305.3 948.6,303.5 949.4,298.7 949.9,297.5 950.2,296.6 951.0,294.8 951.5,294.9 951.8,294.7 952.6,292.8 953.4,292.2 954.2,290.5 955.3,287.4" fill="none" stroke="#000" stroke-width="0.25" stroke-linejoin="miter"/>
<path d="M743.89,375.90V378.14M744.64,375.20V378.23M745.44,377.04V378.05M745.77,371.46V376.06M746.24,374.96V377.49M748.64,376.32V378.55M749.30,375.58V376.60M751.84,376.03V379.31M753.44,374.15V376.49M754.24,373.34V375.64M757.44,377.40V379.45M758.01,374.84V377.04M759.04,372.85V374.02M759.89,372.24V375.10M760.64,370.47V372.91M761.44,369.00V371.77M761.78,369.69V372.89M762.24,368.75V371.37M763.04,370.10V371.71M764.64,370.01V373.07M766.24,364.44V365.84M766.96,364.68V366.93M767.84,364.81V366.57M768.84,364.61V366.59M769.44,363.29V365.35M771.04,363.72V366.31M772.14,364.59V365.69M772.64,365.14V368.28M774.02,369.35V372.06M775.04,372.64V375.19M777.55,366.93V369.70M778.24,369.80V371.64M779.84,368.19V369.67M780.64,365.43V368.22M783.84,365.56V367.10M784.61,366.05V367.29M785.44,364.78V366.85M787.04,364.31V365.62M788.14,364.97V368.94M788.64,364.67V367.02M789.44,365.91V367.66M791.04,367.62V372.18M792.64,374.27V376.12M793.32,374.50V377.38M794.24,375.97V378.94M795.21,375.81V377.26M795.84,373.64V374.79M798.74,366.48V368.60M799.84,363.42V365.99M800.38,364.11V366.09M803.04,363.59V364.91M804.64,363.31V364.71M805.56,361.61V363.74M806.24,365.35V367.98M806.98,369.06V371.24M807.92,377.78V381.35M808.64,372.94V376.76M809.33,367.61V370.08M810.24,363.47V366.50M811.21,361.30V363.96M812.86,355.13V357.08M813.44,355.54V357.49M814.51,353.41V355.94M816.39,356.55V360.18M817.44,356.90V358.65M821.57,347.23V351.12M823.84,346.21V348.19M824.64,345.64V350.29M825.34,345.04V348.49M826.98,348.59V349.89M827.84,345.31V347.18M829.44,344.66V348.73M830.52,343.99V345.50M831.84,344.68V348.26M832.40,346.36V349.92M833.44,347.47V350.38M834.05,347.69V349.88M835.69,345.03V346.78M836.64,343.03V344.81M837.58,341.98V344.96M838.24,342.32V345.55M839.04,344.14V347.23M839.46,343.64V347.10M839.84,342.87V344.43M842.76,337.23V338.69M843.84,338.58V341.07M847.04,339.32V343.07M847.94,341.68V345.75M848.88,353.70V356.93M849.44,352.06V353.99M850.53,350.49V353.24M851.84,352.25V355.32M852.17,353.50V354.90M852.64,349.81V352.36M853.44,350.13V351.32M855.04,349.10V351.01M855.94,350.22V352.77M856.64,345.20V348.58M858.24,344.26V347.44M859.24,346.33V348.82M860.64,342.86V346.45M861.44,345.14V346.13M862.24,343.49V345.47M863.00,344.96V345.89M863.84,344.25V347.72M865.44,340.08V342.11M868.18,344.14V346.72M868.64,347.00V350.04M870.06,351.65V353.16M871.71,352.87V356.34M874.24,350.13V353.94M874.77,349.54V353.14M875.84,345.04V348.31M876.42,343.32V346.62M879.48,352.15V355.33M879.84,357.97V360.10M880.42,361.50V363.62M882.31,358.16V361.68M883.48,351.28V352.77M883.84,350.26V351.24M884.64,346.28V349.97M887.01,342.27V344.48M887.84,339.80V342.73M890.24,335.73V337.33M892.19,332.37V336.57M893.44,332.72V335.91M895.04,326.37V329.15M895.96,327.63V329.28M897.61,324.99V328.72M898.24,325.25V327.77M899.84,326.02V328.48M900.64,326.04V329.21M901.14,324.70V326.75M902.24,328.81V330.76M903.84,323.63V326.70M904.67,323.41V326.20M906.32,321.57V326.07M908.20,320.53V323.82M908.64,321.98V324.54M909.44,320.68V324.09M910.08,321.15V324.97M911.04,316.50V321.34M911.73,319.42V321.95M912.64,319.97V322.38M913.38,318.07V322.20M914.24,318.63V322.68M915.26,323.00V324.15M916.64,318.20V321.01M917.15,316.19V319.93M918.24,318.20V319.79M918.79,316.11V318.80M920.44,315.47V318.79M922.32,317.89V319.75M923.04,313.28V318.35M923.84,312.41V314.66M924.21,313.88V316.12M924.64,312.50V313.75M925.44,312.02V314.45M925.85,310.03V311.41M927.84,305.22V308.18M928.64,303.10V306.20M929.39,302.83V304.60M930.24,300.84V303.08M931.27,300.64V304.82M933.44,300.23V302.55M934.56,300.03V301.29M935.04,299.02V302.16M936.45,302.24V304.78M937.44,300.55V303.41M938.33,299.21V302.93M939.04,300.25V301.74M939.98,303.43V305.16M940.64,300.72V303.12M942.24,297.27V301.43M943.84,302.71V304.34M944.64,301.61V303.54M945.16,300.12V303.66M947.84,303.16V305.27M948.64,302.56V305.69M949.44,297.92V300.53M950.24,295.35V297.93M951.04,293.90V296.14M951.51,294.26V295.40M951.84,293.80V296.18M952.64,292.10V294.63M953.40,290.49V293.08M954.24,289.88V292.12M955.28,286.39V288.00" stroke="#000" stroke-width="0.8" fill="none"/>
<polyline points="742.2,389.6 750.5,388.0 759.9,386.8 769.3,384.5 778.7,382.1 788.1,379.8 797.6,377.9 804.6,375.8 811.7,372.7 818.8,369.9 828.2,366.3 837.6,362.8 847.0,359.3 854.1,357.9 861.1,356.7 868.2,355.0 875.2,353.9 882.3,352.7 889.4,350.3 898.8,347.3 908.2,344.0 917.6,340.4 927.0,336.7 936.5,332.2 945.9,327.3 955.3,321.6" fill="none" stroke="#f62c2c" stroke-width="1.05" stroke-linejoin="round"/>
</g>
<text x="762.2" y="306.0" font-size="17.3" fill="#000" font-weight="bold" text-anchor="start" textLength="60.1" lengthAdjust="spacingAndGlyphs" stroke="#000" stroke-width="0.35">Canada</text>
<g clip-path="url(#c8_1)">
<clipPath id="up8"><rect x="742" y="397.2" width="217.29999999999995" height="38.80000000000001"/></clipPath>
<clipPath id="dn8"><rect x="742" y="436.0" width="217.29999999999995" height="22.399999999999977"/></clipPath>
<g clip-path="url(#up8)"><polygon points="742.2,436.0 742.2,422.4 743.1,423.6 743.9,425.7 744.8,425.1 745.8,424.1 746.7,426.5 747.6,428.8 748.5,427.6 749.3,425.7 750.1,427.1 751.0,427.6 751.9,426.6 752.8,425.2 753.8,426.6 754.7,427.6 755.5,429.8 756.4,431.8 757.2,429.2 758.0,426.4 759.0,425.6 759.9,424.1 760.8,423.1 761.8,421.7 762.6,420.4 763.4,419.4 764.2,420.3 765.1,420.5 766.0,419.3 767.0,418.7 767.9,419.7 768.8,420.1 769.7,419.7 770.5,418.7 771.3,418.8 772.1,419.4 773.1,422.1 774.0,425.2 775.0,426.2 775.9,427.6 776.7,425.8 777.5,424.1 778.4,425.1 779.2,426.4 780.1,424.0 781.1,422.4 782.0,421.2 783.0,420.5 783.8,421.5 784.6,421.7 785.4,420.9 786.3,420.1 787.2,421.7 788.1,424.1 789.1,424.3 790.0,425.2 790.8,427.4 791.7,430.0 792.5,432.1 793.3,433.5 794.3,433.3 795.2,432.3 796.2,430.5 797.1,429.5 797.9,427.9 798.7,426.4 799.6,425.1 800.4,423.4 801.3,422.1 802.3,421.7 803.1,423.6 803.9,425.2 804.7,423.9 805.6,423.4 806.3,426.8 807.0,430.0 807.9,435.8 808.6,432.4 809.3,428.8 810.3,426.0 811.2,422.9 812.0,421.4 812.9,420.1 813.7,419.3 814.5,418.7 815.5,420.9 816.4,422.9 817.3,421.5 818.3,420.5 819.1,419.1 819.9,417.7 820.7,417.2 821.6,416.3 822.5,415.6 823.5,415.4 824.4,416.4 825.3,417.0 826.2,417.7 827.0,417.7 827.8,416.8 828.6,416.3 829.6,416.0 830.5,415.8 831.5,417.1 832.4,418.2 833.2,419.6 834.0,421.7 834.9,420.3 835.7,418.2 836.6,417.2 837.6,416.3 838.5,417.4 839.5,417.7 840.3,417.0 841.1,415.8 841.9,415.4 842.8,414.7 843.7,414.7 844.6,415.4 845.6,416.3 846.5,417.7 847.2,419.3 847.9,420.5 848.9,430.0 849.8,434.2 850.5,432.9 851.2,431.8 852.1,431.8 852.9,432.3 853.7,431.1 854.5,430.0 855.5,430.6 856.4,431.1 857.3,428.5 858.3,426.4 859.1,426.9 859.9,427.6 860.8,426.8 861.6,425.7 862.5,426.8 863.5,427.1 864.3,425.8 865.1,424.8 865.8,424.2 866.5,424.1 867.4,426.7 868.2,428.8 869.0,430.6 869.8,432.3 870.5,434.2 871.2,435.8 872.4,436.0 873.6,436.0 874.8,434.7 875.6,432.5 876.4,430.0 877.2,431.4 878.1,432.3 878.8,433.0 879.5,434.7 880.4,436.0 881.4,436.0 882.3,436.0 883.5,436.0 884.3,434.4 885.1,432.3 886.1,430.3 887.0,428.8 888.0,427.8 888.9,427.1 889.7,426.4 890.5,425.2 891.4,424.1 892.2,423.4 893.1,422.2 894.1,420.5 895.0,419.3 896.0,418.7 896.8,417.4 897.6,417.0 898.4,416.4 899.2,416.3 900.2,416.1 901.1,415.4 902.1,417.6 903.0,419.4 903.8,418.9 904.7,417.7 905.5,416.4 906.3,415.8 907.3,415.5 908.2,415.4 909.1,415.9 910.1,416.3 910.9,415.0 911.7,413.9 912.6,413.3 913.4,413.0 914.3,415.8 915.3,418.7 916.2,416.3 917.1,414.7 918.0,413.7 918.8,412.3 919.6,413.4 920.4,413.9 921.4,414.6 922.3,415.4 923.3,413.0 924.2,411.1 925.0,409.5 925.9,408.8 926.7,407.6 927.5,406.9 928.4,406.1 929.4,404.5 930.3,404.1 931.3,403.6 932.1,404.6 932.9,406.4 933.7,404.9 934.6,404.1 935.5,406.4 936.5,408.3 937.4,407.5 938.3,406.9 939.2,408.9 940.0,410.6 940.8,409.3 941.6,407.6 942.6,410.2 943.5,413.5 944.3,412.7 945.2,411.6 946.0,410.5 946.8,409.9 947.5,413.0 948.2,416.3 949.0,413.6 949.9,411.1 950.7,409.6 951.5,408.3 952.5,406.7 953.4,405.9 954.2,405.1 955.0,404.4 955.8,403.6 955.8,436.0" fill="url(#gg8)"/><polyline points="742.2,422.4 743.1,423.6 743.9,425.7 744.8,425.1 745.8,424.1 746.7,426.5 747.6,428.8 748.5,427.6 749.3,425.7 750.1,427.1 751.0,427.6 751.9,426.6 752.8,425.2 753.8,426.6 754.7,427.6 755.5,429.8 756.4,431.8 757.2,429.2 758.0,426.4 759.0,425.6 759.9,424.1 760.8,423.1 761.8,421.7 762.6,420.4 763.4,419.4 764.2,420.3 765.1,420.5 766.0,419.3 767.0,418.7 767.9,419.7 768.8,420.1 769.7,419.7 770.5,418.7 771.3,418.8 772.1,419.4 773.1,422.1 774.0,425.2 775.0,426.2 775.9,427.6 776.7,425.8 777.5,424.1 778.4,425.1 779.2,426.4 780.1,424.0 781.1,422.4 782.0,421.2 783.0,420.5 783.8,421.5 784.6,421.7 785.4,420.9 786.3,420.1 787.2,421.7 788.1,424.1 789.1,424.3 790.0,425.2 790.8,427.4 791.7,430.0 792.5,432.1 793.3,433.5 794.3,433.3 795.2,432.3 796.2,430.5 797.1,429.5 797.9,427.9 798.7,426.4 799.6,425.1 800.4,423.4 801.3,422.1 802.3,421.7 803.1,423.6 803.9,425.2 804.7,423.9 805.6,423.4 806.3,426.8 807.0,430.0 807.9,435.8 808.6,432.4 809.3,428.8 810.3,426.0 811.2,422.9 812.0,421.4 812.9,420.1 813.7,419.3 814.5,418.7 815.5,420.9 816.4,422.9 817.3,421.5 818.3,420.5 819.1,419.1 819.9,417.7 820.7,417.2 821.6,416.3 822.5,415.6 823.5,415.4 824.4,416.4 825.3,417.0 826.2,417.7 827.0,417.7 827.8,416.8 828.6,416.3 829.6,416.0 830.5,415.8 831.5,417.1 832.4,418.2 833.2,419.6 834.0,421.7 834.9,420.3 835.7,418.2 836.6,417.2 837.6,416.3 838.5,417.4 839.5,417.7 840.3,417.0 841.1,415.8 841.9,415.4 842.8,414.7 843.7,414.7 844.6,415.4 845.6,416.3 846.5,417.7 847.2,419.3 847.9,420.5 848.9,430.0 849.8,434.2 850.5,432.9 851.2,431.8 852.1,431.8 852.9,432.3 853.7,431.1 854.5,430.0 855.5,430.6 856.4,431.1 857.3,428.5 858.3,426.4 859.1,426.9 859.9,427.6 860.8,426.8 861.6,425.7 862.5,426.8 863.5,427.1 864.3,425.8 865.1,424.8 865.8,424.2 866.5,424.1 867.4,426.7 868.2,428.8 869.0,430.6 869.8,432.3 870.5,434.2 871.2,435.8 872.4,437.5 873.6,440.6 874.8,434.7 875.6,432.5 876.4,430.0 877.2,431.4 878.1,432.3 878.8,433.0 879.5,434.7 880.4,442.9 881.4,452.3 882.3,444.1 883.5,437.0 884.3,434.4 885.1,432.3 886.1,430.3 887.0,428.8 888.0,427.8 888.9,427.1 889.7,426.4 890.5,425.2 891.4,424.1 892.2,423.4 893.1,422.2 894.1,420.5 895.0,419.3 896.0,418.7 896.8,417.4 897.6,417.0 898.4,416.4 899.2,416.3 900.2,416.1 901.1,415.4 902.1,417.6 903.0,419.4 903.8,418.9 904.7,417.7 905.5,416.4 906.3,415.8 907.3,415.5 908.2,415.4 909.1,415.9 910.1,416.3 910.9,415.0 911.7,413.9 912.6,413.3 913.4,413.0 914.3,415.8 915.3,418.7 916.2,416.3 917.1,414.7 918.0,413.7 918.8,412.3 919.6,413.4 920.4,413.9 921.4,414.6 922.3,415.4 923.3,413.0 924.2,411.1 925.0,409.5 925.9,408.8 926.7,407.6 927.5,406.9 928.4,406.1 929.4,404.5 930.3,404.1 931.3,403.6 932.1,404.6 932.9,406.4 933.7,404.9 934.6,404.1 935.5,406.4 936.5,408.3 937.4,407.5 938.3,406.9 939.2,408.9 940.0,410.6 940.8,409.3 941.6,407.6 942.6,410.2 943.5,413.5 944.3,412.7 945.2,411.6 946.0,410.5 946.8,409.9 947.5,413.0 948.2,416.3 949.0,413.6 949.9,411.1 950.7,409.6 951.5,408.3 952.5,406.7 953.4,405.9 954.2,405.1 955.0,404.4 955.8,403.6" fill="none" stroke="#0f870f" stroke-width="1.15" stroke-linejoin="round"/></g>
<g clip-path="url(#dn8)"><polygon points="742.2,436.0 742.2,436.0 743.1,436.0 743.9,436.0 744.8,436.0 745.8,436.0 746.7,436.0 747.6,436.0 748.5,436.0 749.3,436.0 750.1,436.0 751.0,436.0 751.9,436.0 752.8,436.0 753.8,436.0 754.7,436.0 755.5,436.0 756.4,436.0 757.2,436.0 758.0,436.0 759.0,436.0 759.9,436.0 760.8,436.0 761.8,436.0 762.6,436.0 763.4,436.0 764.2,436.0 765.1,436.0 766.0,436.0 767.0,436.0 767.9,436.0 768.8,436.0 769.7,436.0 770.5,436.0 771.3,436.0 772.1,436.0 773.1,436.0 774.0,436.0 775.0,436.0 775.9,436.0 776.7,436.0 777.5,436.0 778.4,436.0 779.2,436.0 780.1,436.0 781.1,436.0 782.0,436.0 783.0,436.0 783.8,436.0 784.6,436.0 785.4,436.0 786.3,436.0 787.2,436.0 788.1,436.0 789.1,436.0 790.0,436.0 790.8,436.0 791.7,436.0 792.5,436.0 793.3,436.0 794.3,436.0 795.2,436.0 796.2,436.0 797.1,436.0 797.9,436.0 798.7,436.0 799.6,436.0 800.4,436.0 801.3,436.0 802.3,436.0 803.1,436.0 803.9,436.0 804.7,436.0 805.6,436.0 806.3,436.0 807.0,436.0 807.9,436.0 808.6,436.0 809.3,436.0 810.3,436.0 811.2,436.0 812.0,436.0 812.9,436.0 813.7,436.0 814.5,436.0 815.5,436.0 816.4,436.0 817.3,436.0 818.3,436.0 819.1,436.0 819.9,436.0 820.7,436.0 821.6,436.0 822.5,436.0 823.5,436.0 824.4,436.0 825.3,436.0 826.2,436.0 827.0,436.0 827.8,436.0 828.6,436.0 829.6,436.0 830.5,436.0 831.5,436.0 832.4,436.0 833.2,436.0 834.0,436.0 834.9,436.0 835.7,436.0 836.6,436.0 837.6,436.0 838.5,436.0 839.5,436.0 840.3,436.0 841.1,436.0 841.9,436.0 842.8,436.0 843.7,436.0 844.6,436.0 845.6,436.0 846.5,436.0 847.2,436.0 847.9,436.0 848.9,436.0 849.8,436.0 850.5,436.0 851.2,436.0 852.1,436.0 852.9,436.0 853.7,436.0 854.5,436.0 855.5,436.0 856.4,436.0 857.3,436.0 858.3,436.0 859.1,436.0 859.9,436.0 860.8,436.0 861.6,436.0 862.5,436.0 863.5,436.0 864.3,436.0 865.1,436.0 865.8,436.0 866.5,436.0 867.4,436.0 868.2,436.0 869.0,436.0 869.8,436.0 870.5,436.0 871.2,436.0 872.4,437.5 873.6,440.6 874.8,436.0 875.6,436.0 876.4,436.0 877.2,436.0 878.1,436.0 878.8,436.0 879.5,436.0 880.4,442.9 881.4,452.3 882.3,444.1 883.5,437.0 884.3,436.0 885.1,436.0 886.1,436.0 887.0,436.0 888.0,436.0 888.9,436.0 889.7,436.0 890.5,436.0 891.4,436.0 892.2,436.0 893.1,436.0 894.1,436.0 895.0,436.0 896.0,436.0 896.8,436.0 897.6,436.0 898.4,436.0 899.2,436.0 900.2,436.0 901.1,436.0 902.1,436.0 903.0,436.0 903.8,436.0 904.7,436.0 905.5,436.0 906.3,436.0 907.3,436.0 908.2,436.0 909.1,436.0 910.1,436.0 910.9,436.0 911.7,436.0 912.6,436.0 913.4,436.0 914.3,436.0 915.3,436.0 916.2,436.0 917.1,436.0 918.0,436.0 918.8,436.0 919.6,436.0 920.4,436.0 921.4,436.0 922.3,436.0 923.3,436.0 924.2,436.0 925.0,436.0 925.9,436.0 926.7,436.0 927.5,436.0 928.4,436.0 929.4,436.0 930.3,436.0 931.3,436.0 932.1,436.0 932.9,436.0 933.7,436.0 934.6,436.0 935.5,436.0 936.5,436.0 937.4,436.0 938.3,436.0 939.2,436.0 940.0,436.0 940.8,436.0 941.6,436.0 942.6,436.0 943.5,436.0 944.3,436.0 945.2,436.0 946.0,436.0 946.8,436.0 947.5,436.0 948.2,436.0 949.0,436.0 949.9,436.0 950.7,436.0 951.5,436.0 952.5,436.0 953.4,436.0 954.2,436.0 955.0,436.0 955.8,436.0 955.8,436.0" fill="url(#gr8)"/><polyline points="742.2,422.4 743.1,423.6 743.9,425.7 744.8,425.1 745.8,424.1 746.7,426.5 747.6,428.8 748.5,427.6 749.3,425.7 750.1,427.1 751.0,427.6 751.9,426.6 752.8,425.2 753.8,426.6 754.7,427.6 755.5,429.8 756.4,431.8 757.2,429.2 758.0,426.4 759.0,425.6 759.9,424.1 760.8,423.1 761.8,421.7 762.6,420.4 763.4,419.4 764.2,420.3 765.1,420.5 766.0,419.3 767.0,418.7 767.9,419.7 768.8,420.1 769.7,419.7 770.5,418.7 771.3,418.8 772.1,419.4 773.1,422.1 774.0,425.2 775.0,426.2 775.9,427.6 776.7,425.8 777.5,424.1 778.4,425.1 779.2,426.4 780.1,424.0 781.1,422.4 782.0,421.2 783.0,420.5 783.8,421.5 784.6,421.7 785.4,420.9 786.3,420.1 787.2,421.7 788.1,424.1 789.1,424.3 790.0,425.2 790.8,427.4 791.7,430.0 792.5,432.1 793.3,433.5 794.3,433.3 795.2,432.3 796.2,430.5 797.1,429.5 797.9,427.9 798.7,426.4 799.6,425.1 800.4,423.4 801.3,422.1 802.3,421.7 803.1,423.6 803.9,425.2 804.7,423.9 805.6,423.4 806.3,426.8 807.0,430.0 807.9,435.8 808.6,432.4 809.3,428.8 810.3,426.0 811.2,422.9 812.0,421.4 812.9,420.1 813.7,419.3 814.5,418.7 815.5,420.9 816.4,422.9 817.3,421.5 818.3,420.5 819.1,419.1 819.9,417.7 820.7,417.2 821.6,416.3 822.5,415.6 823.5,415.4 824.4,416.4 825.3,417.0 826.2,417.7 827.0,417.7 827.8,416.8 828.6,416.3 829.6,416.0 830.5,415.8 831.5,417.1 832.4,418.2 833.2,419.6 834.0,421.7 834.9,420.3 835.7,418.2 836.6,417.2 837.6,416.3 838.5,417.4 839.5,417.7 840.3,417.0 841.1,415.8 841.9,415.4 842.8,414.7 843.7,414.7 844.6,415.4 845.6,416.3 846.5,417.7 847.2,419.3 847.9,420.5 848.9,430.0 849.8,434.2 850.5,432.9 851.2,431.8 852.1,431.8 852.9,432.3 853.7,431.1 854.5,430.0 855.5,430.6 856.4,431.1 857.3,428.5 858.3,426.4 859.1,426.9 859.9,427.6 860.8,426.8 861.6,425.7 862.5,426.8 863.5,427.1 864.3,425.8 865.1,424.8 865.8,424.2 866.5,424.1 867.4,426.7 868.2,428.8 869.0,430.6 869.8,432.3 870.5,434.2 871.2,435.8 872.4,437.5 873.6,440.6 874.8,434.7 875.6,432.5 876.4,430.0 877.2,431.4 878.1,432.3 878.8,433.0 879.5,434.7 880.4,442.9 881.4,452.3 882.3,444.1 883.5,437.0 884.3,434.4 885.1,432.3 886.1,430.3 887.0,428.8 888.0,427.8 888.9,427.1 889.7,426.4 890.5,425.2 891.4,424.1 892.2,423.4 893.1,422.2 894.1,420.5 895.0,419.3 896.0,418.7 896.8,417.4 897.6,417.0 898.4,416.4 899.2,416.3 900.2,416.1 901.1,415.4 902.1,417.6 903.0,419.4 903.8,418.9 904.7,417.7 905.5,416.4 906.3,415.8 907.3,415.5 908.2,415.4 909.1,415.9 910.1,416.3 910.9,415.0 911.7,413.9 912.6,413.3 913.4,413.0 914.3,415.8 915.3,418.7 916.2,416.3 917.1,414.7 918.0,413.7 918.8,412.3 919.6,413.4 920.4,413.9 921.4,414.6 922.3,415.4 923.3,413.0 924.2,411.1 925.0,409.5 925.9,408.8 926.7,407.6 927.5,406.9 928.4,406.1 929.4,404.5 930.3,404.1 931.3,403.6 932.1,404.6 932.9,406.4 933.7,404.9 934.6,404.1 935.5,406.4 936.5,408.3 937.4,407.5 938.3,406.9 939.2,408.9 940.0,410.6 940.8,409.3 941.6,407.6 942.6,410.2 943.5,413.5 944.3,412.7 945.2,411.6 946.0,410.5 946.8,409.9 947.5,413.0 948.2,416.3 949.0,413.6 949.9,411.1 950.7,409.6 951.5,408.3 952.5,406.7 953.4,405.9 954.2,405.1 955.0,404.4 955.8,403.6" fill="none" stroke="#f22" stroke-width="1.1" stroke-linejoin="round"/></g>
</g>
<g clip-path="url(#c8_2)">
<polygon points="742.2,513.5 807.7,480.6 807.7,522.3 742.2,522.3" fill="url(#gk8)"/>
<polygon points="810.5,520.0 869.8,488.3 869.8,522.3 810.5,522.3" fill="url(#gk8)"/>
<polygon points="875.2,520.0 880.4,517.5 880.4,522.3 875.2,522.3" fill="url(#gk8)"/>
<polygon points="887.0,520.0 955.7,482.9 955.7,522.3 887.0,522.3" fill="url(#gk8)"/>
</g>
<linearGradient id="gg8" gradientUnits="userSpaceOnUse" x1="0" y1="401.2" x2="0" y2="436.0"><stop offset="0" stop-color="#bfe0bf"/><stop offset="1" stop-color="#88c388"/></linearGradient>
<linearGradient id="gr8" gradientUnits="userSpaceOnUse" x1="0" y1="436.0" x2="0" y2="452.4"><stop offset="0" stop-color="#ff8080"/><stop offset="1" stop-color="#ffc4c4"/></linearGradient>
<linearGradient id="gk8" gradientUnits="userSpaceOnUse" x1="0" y1="458.4" x2="0" y2="520.3"><stop offset="0" stop-color="#8c8c8c"/><stop offset="0.25" stop-color="#686868"/><stop offset="0.62" stop-color="#2b2b2b"/><stop offset="0.86" stop-color="#0c0c0c"/><stop offset="1" stop-color="#000"/></linearGradient>
<text x="746.9" y="454.0" font-size="6.5" fill="#000" font-weight="bold" text-anchor="start">Percentage Above 200-Day MA</text>
<text x="746.9" y="472.8" font-size="6.5" fill="#000" font-weight="bold" text-anchor="start">Number of Days Above 200-Day MA</text>
<path d="M742,397.2H997M742,458.4H997" stroke="#e3e3e3" stroke-width="1" fill="none"/>
<path d="M959.3,275.1V520.3" stroke="#d2d2d2" stroke-width="1" fill="none"/>
<path d="M742,520.3H997" stroke="#e3e3e3" stroke-width="1" fill="none"/>
<text x="744.7" y="532.7" font-size="12" fill="#555" font-weight="normal" text-anchor="start" textLength="27.3" lengthAdjust="spacingAndGlyphs">2024</text>
<g clip-path="url(#a8_0)">
<path d="M959.3,290h2.5" stroke="#888" stroke-width="1"/>
<text x="962.8" y="294.3" font-size="12" fill="#333" font-weight="normal" text-anchor="start"></text>
<path d="M959.3,305h2.5" stroke="#888" stroke-width="1"/>
<text x="962.8" y="309.3" font-size="12" fill="#333" font-weight="normal" text-anchor="start"></text>
<path d="M959.3,321h2.5" stroke="#888" stroke-width="1"/>
<text x="962.8" y="325.3" font-size="12" fill="#333" font-weight="normal" text-anchor="start"></text>
<path d="M959.3,338h2.5" stroke="#888" stroke-width="1"/>
<text x="962.8" y="342.3" font-size="12" fill="#333" font-weight="normal" text-anchor="start"></text>
<path d="M959.3,355h2.5" stroke="#888" stroke-width="1"/>
<text x="962.8" y="359.3" font-size="12" fill="#333" font-weight="normal" text-anchor="start"></text>
<path d="M959.3,372h2.5" stroke="#888" stroke-width="1"/>
<text x="962.8" y="376.3" font-size="12" fill="#333" font-weight="normal" text-anchor="start"></text>
<path d="M959.3,388h2.5" stroke="#888" stroke-width="1"/>
<text x="962.8" y="392.3" font-size="12" fill="#333" font-weight="normal" text-anchor="start"></text>
</g>
<g clip-path="url(#a8_1)">
<path d="M959.3,402h2.5" stroke="#888" stroke-width="1"/>
<text x="962.8" y="406.3" font-size="12" fill="#333" font-weight="normal" text-anchor="start"></text>
<path d="M959.3,418h2.5" stroke="#888" stroke-width="1"/>
<text x="962.8" y="422.3" font-size="12" fill="#333" font-weight="normal" text-anchor="start"></text>
<path d="M959.3,435h2.5" stroke="#888" stroke-width="1"/>
<text x="962.8" y="439.3" font-size="12" fill="#333" font-weight="normal" text-anchor="start"></text>
<path d="M959.3,451h2.5" stroke="#888" stroke-width="1"/>
<text x="962.8" y="455.3" font-size="12" fill="#333" font-weight="normal" text-anchor="start"></text>
</g>
<g clip-path="url(#a8_2)">
<path d="M959.3,465h2.5" stroke="#888" stroke-width="1"/>
<text x="962.8" y="469.3" font-size="12" fill="#333" font-weight="normal" text-anchor="start"></text>
<path d="M959.3,480h2.5" stroke="#888" stroke-width="1"/>
<text x="962.8" y="484.3" font-size="12" fill="#333" font-weight="normal" text-anchor="start"></text>
<path d="M959.3,497h2.5" stroke="#888" stroke-width="1"/>
<text x="962.8" y="501.3" font-size="12" fill="#333" font-weight="normal" text-anchor="start"></text>
<path d="M959.3,512h2.5" stroke="#888" stroke-width="1"/>
<text x="962.8" y="516.3" font-size="12" fill="#333" font-weight="normal" text-anchor="start"></text>
</g>
<rect x="985.4" y="458.9" width="10.8" height="10.8" fill="#f3f3f3" stroke="#e4e4e4" stroke-width="0.5"/>
<rect x="987.0" y="463.4" width="7.6" height="4.8" rx="0.7" fill="#757575"/><path d="M988.5999999999999,463.5v-1.3a2.2,2.2 0 0 1 4.4,0v1.3" fill="none" stroke="#757575" stroke-width="1.3"/><rect x="990.3" y="465.0" width="1" height="1.7" fill="#ddd"/>
<rect x="991.5" y="398.2" width="5.5" height="8" fill="#f4f4f4" stroke="#e2e2e2" stroke-width="0.5"/>
<path d="M995,400.59999999999997l-1.8,1.6l1.8,1.6" fill="none" stroke="#5a5a5a" stroke-width="0.9"/>
</svg>
</body></html>
